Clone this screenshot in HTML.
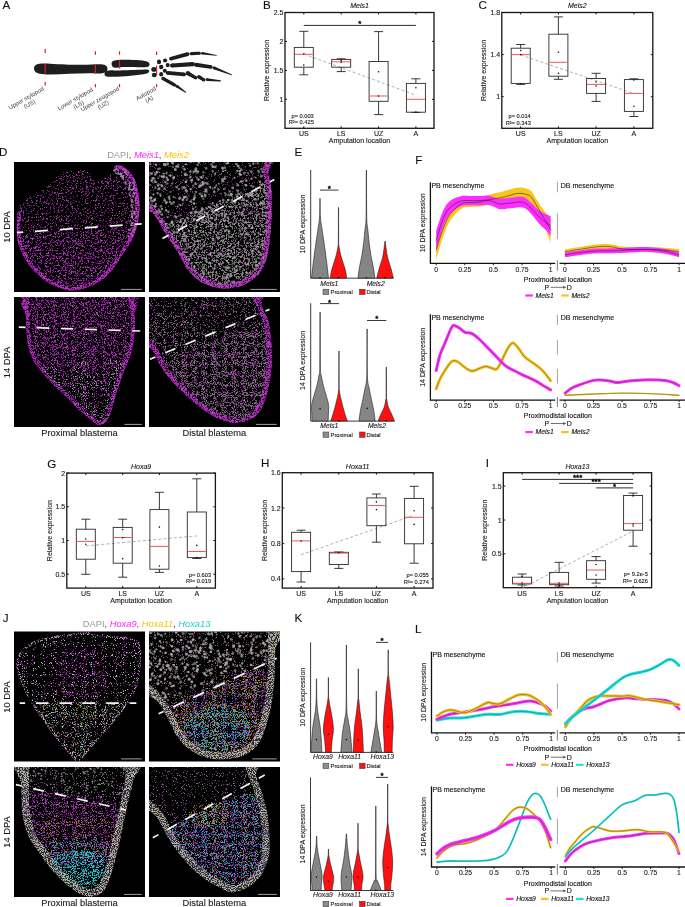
<!DOCTYPE html><html><head><meta charset="utf-8"><style>html,body{margin:0;padding:0;background:#fff;width:685px;height:907px;overflow:hidden}svg{display:block;opacity:0.999}</style></head><body><svg width="685" height="907" viewBox="0 0 685 907" font-family='"Liberation Sans", sans-serif'>
<rect width="685" height="907" fill="#fff"/>
<text x="2.40" y="8.50" font-size="11.6" text-anchor="start" fill="#111" stroke="#111" stroke-width="0.12">A</text>
<text x="263.00" y="8.50" font-size="11.6" text-anchor="start" fill="#111" stroke="#111" stroke-width="0.12">B</text>
<text x="478.50" y="8.50" font-size="11.6" text-anchor="start" fill="#111" stroke="#111" stroke-width="0.12">C</text>
<text x="-1.00" y="155.60" font-size="11.6" text-anchor="start" fill="#111" stroke="#111" stroke-width="0.12">D</text>
<text x="294.50" y="156.20" font-size="11.6" text-anchor="start" fill="#111" stroke="#111" stroke-width="0.12">E</text>
<text x="415.20" y="164.30" font-size="11.6" text-anchor="start" fill="#111" stroke="#111" stroke-width="0.12">F</text>
<text x="47.20" y="467.50" font-size="11.6" text-anchor="start" fill="#111" stroke="#111" stroke-width="0.12">G</text>
<text x="260.90" y="467.20" font-size="11.6" text-anchor="start" fill="#111" stroke="#111" stroke-width="0.12">H</text>
<text x="485.80" y="467.20" font-size="11.6" text-anchor="start" fill="#111" stroke="#111" stroke-width="0.12">I</text>
<text x="2.80" y="621.80" font-size="11.6" text-anchor="start" fill="#111" stroke="#111" stroke-width="0.12">J</text>
<text x="294.50" y="622.30" font-size="11.6" text-anchor="start" fill="#111" stroke="#111" stroke-width="0.12">K</text>
<text x="414.90" y="633.30" font-size="11.6" text-anchor="start" fill="#111" stroke="#111" stroke-width="0.12">L</text>
<rect x="285.00" y="12.50" width="149.00" height="115.80" fill="none" stroke="#151515" stroke-width="1.3"/>
<line x1="303.80" y1="128.30" x2="303.80" y2="126.30" stroke="#151515" stroke-width="1"/>
<line x1="303.80" y1="12.50" x2="303.80" y2="14.50" stroke="#151515" stroke-width="1"/>
<line x1="341.20" y1="128.30" x2="341.20" y2="126.30" stroke="#151515" stroke-width="1"/>
<line x1="341.20" y1="12.50" x2="341.20" y2="14.50" stroke="#151515" stroke-width="1"/>
<line x1="378.60" y1="128.30" x2="378.60" y2="126.30" stroke="#151515" stroke-width="1"/>
<line x1="378.60" y1="12.50" x2="378.60" y2="14.50" stroke="#151515" stroke-width="1"/>
<line x1="415.90" y1="128.30" x2="415.90" y2="126.30" stroke="#151515" stroke-width="1"/>
<line x1="415.90" y1="12.50" x2="415.90" y2="14.50" stroke="#151515" stroke-width="1"/>
<line x1="285.00" y1="12.50" x2="287.00" y2="12.50" stroke="#151515" stroke-width="1"/>
<line x1="434.00" y1="12.50" x2="432.00" y2="12.50" stroke="#151515" stroke-width="1"/>
<text x="283.40" y="15.00" font-size="7" text-anchor="end" fill="#1a1a1a" stroke="#1a1a1a" stroke-width="0.12">2.5</text>
<line x1="285.00" y1="41.40" x2="287.00" y2="41.40" stroke="#151515" stroke-width="1"/>
<line x1="434.00" y1="41.40" x2="432.00" y2="41.40" stroke="#151515" stroke-width="1"/>
<text x="283.40" y="43.90" font-size="7" text-anchor="end" fill="#1a1a1a" stroke="#1a1a1a" stroke-width="0.12">2</text>
<line x1="285.00" y1="70.40" x2="287.00" y2="70.40" stroke="#151515" stroke-width="1"/>
<line x1="434.00" y1="70.40" x2="432.00" y2="70.40" stroke="#151515" stroke-width="1"/>
<text x="283.40" y="72.90" font-size="7" text-anchor="end" fill="#1a1a1a" stroke="#1a1a1a" stroke-width="0.12">1.5</text>
<line x1="285.00" y1="99.30" x2="287.00" y2="99.30" stroke="#151515" stroke-width="1"/>
<line x1="434.00" y1="99.30" x2="432.00" y2="99.30" stroke="#151515" stroke-width="1"/>
<text x="283.40" y="101.80" font-size="7" text-anchor="end" fill="#1a1a1a" stroke="#1a1a1a" stroke-width="0.12">1</text>
<line x1="303.80" y1="54.00" x2="415.90" y2="95.20" stroke="#9a9a9a" stroke-width="0.8" stroke-dasharray="3,2.2"/>
<line x1="303.80" y1="31.30" x2="303.80" y2="47.40" stroke="#222" stroke-width="0.9"/>
<line x1="303.80" y1="67.20" x2="303.80" y2="74.80" stroke="#222" stroke-width="0.9"/>
<line x1="299.30" y1="31.30" x2="308.30" y2="31.30" stroke="#222" stroke-width="0.9"/>
<line x1="299.30" y1="74.80" x2="308.30" y2="74.80" stroke="#222" stroke-width="0.9"/>
<rect x="294.30" y="47.40" width="19.00" height="19.80" fill="none" stroke="#2a2a2a" stroke-width="0.9"/>
<line x1="294.80" y1="54.30" x2="312.80" y2="54.30" stroke="#f25555" stroke-width="1"/>
<circle cx="303.80" cy="54.00" r="0.8" fill="#111"/>
<circle cx="303.80" cy="65.10" r="0.8" fill="#111"/>
<line x1="341.20" y1="58.80" x2="341.20" y2="59.40" stroke="#222" stroke-width="0.9"/>
<line x1="341.20" y1="67.20" x2="341.20" y2="71.60" stroke="#222" stroke-width="0.9"/>
<line x1="336.70" y1="58.80" x2="345.70" y2="58.80" stroke="#222" stroke-width="0.9"/>
<line x1="336.70" y1="71.60" x2="345.70" y2="71.60" stroke="#222" stroke-width="0.9"/>
<rect x="331.70" y="59.40" width="19.00" height="7.80" fill="none" stroke="#2a2a2a" stroke-width="0.9"/>
<line x1="332.20" y1="61.80" x2="350.20" y2="61.80" stroke="#f25555" stroke-width="1"/>
<circle cx="341.20" cy="60.50" r="0.8" fill="#111"/>
<circle cx="341.20" cy="62.30" r="0.8" fill="#111"/>
<line x1="378.60" y1="31.60" x2="378.60" y2="61.50" stroke="#222" stroke-width="0.9"/>
<line x1="378.60" y1="101.30" x2="378.60" y2="114.60" stroke="#222" stroke-width="0.9"/>
<line x1="374.10" y1="31.60" x2="383.10" y2="31.60" stroke="#222" stroke-width="0.9"/>
<line x1="374.10" y1="114.60" x2="383.10" y2="114.60" stroke="#222" stroke-width="0.9"/>
<rect x="369.10" y="61.50" width="19.00" height="39.80" fill="none" stroke="#2a2a2a" stroke-width="0.9"/>
<line x1="369.60" y1="96.00" x2="387.60" y2="96.00" stroke="#f25555" stroke-width="1"/>
<circle cx="378.60" cy="71.70" r="0.8" fill="#111"/>
<circle cx="378.60" cy="96.00" r="0.8" fill="#111"/>
<line x1="415.90" y1="78.80" x2="415.90" y2="83.40" stroke="#222" stroke-width="0.9"/>
<line x1="415.90" y1="112.20" x2="415.90" y2="112.40" stroke="#222" stroke-width="0.9"/>
<line x1="411.40" y1="78.80" x2="420.40" y2="78.80" stroke="#222" stroke-width="0.9"/>
<line x1="411.40" y1="112.40" x2="420.40" y2="112.40" stroke="#222" stroke-width="0.9"/>
<rect x="406.40" y="83.40" width="19.00" height="28.80" fill="none" stroke="#2a2a2a" stroke-width="0.9"/>
<line x1="406.90" y1="99.30" x2="424.90" y2="99.30" stroke="#f25555" stroke-width="1"/>
<circle cx="415.90" cy="87.80" r="0.8" fill="#111"/>
<circle cx="415.90" cy="112.00" r="0.8" fill="#111"/>
<line x1="303.80" y1="25.40" x2="415.90" y2="25.40" stroke="#151515" stroke-width="0.9"/>
<text x="359.85" y="26.30" font-size="8" text-anchor="middle" fill="#111" stroke="#111" stroke-width="0.45">*</text>
<text x="359.50" y="8.20" font-size="7" text-anchor="middle" fill="#1a1a1a" stroke="#1a1a1a" stroke-width="0.12" font-style="italic">Meis1</text>
<text x="303.80" y="135.70" font-size="7" text-anchor="middle" fill="#1a1a1a" stroke="#1a1a1a" stroke-width="0.12">US</text>
<text x="341.20" y="135.70" font-size="7" text-anchor="middle" fill="#1a1a1a" stroke="#1a1a1a" stroke-width="0.12">LS</text>
<text x="378.60" y="135.70" font-size="7" text-anchor="middle" fill="#1a1a1a" stroke="#1a1a1a" stroke-width="0.12">UZ</text>
<text x="415.90" y="135.70" font-size="7" text-anchor="middle" fill="#1a1a1a" stroke="#1a1a1a" stroke-width="0.12">A</text>
<text x="359.50" y="142.80" font-size="7" text-anchor="middle" fill="#1a1a1a" stroke="#1a1a1a" stroke-width="0.12">Amputation location</text>
<text x="269.50" y="70.40" font-size="7" text-anchor="middle" fill="#1a1a1a" stroke="#1a1a1a" stroke-width="0.12" transform="rotate(-90 269.50 70.40)">Relative expression</text>
<text x="313.80" y="117.50" font-size="5.7" text-anchor="end" fill="#1a1a1a" stroke="#1a1a1a" stroke-width="0.12">p= 0.003</text>
<text x="313.80" y="124.20" font-size="5.7" text-anchor="end" fill="#1a1a1a" stroke="#1a1a1a" stroke-width="0.12">R²= 0.425</text>
<rect x="501.80" y="12.50" width="151.00" height="115.80" fill="none" stroke="#151515" stroke-width="1.3"/>
<line x1="520.70" y1="128.30" x2="520.70" y2="126.30" stroke="#151515" stroke-width="1"/>
<line x1="520.70" y1="12.50" x2="520.70" y2="14.50" stroke="#151515" stroke-width="1"/>
<line x1="558.40" y1="128.30" x2="558.40" y2="126.30" stroke="#151515" stroke-width="1"/>
<line x1="558.40" y1="12.50" x2="558.40" y2="14.50" stroke="#151515" stroke-width="1"/>
<line x1="596.10" y1="128.30" x2="596.10" y2="126.30" stroke="#151515" stroke-width="1"/>
<line x1="596.10" y1="12.50" x2="596.10" y2="14.50" stroke="#151515" stroke-width="1"/>
<line x1="633.90" y1="128.30" x2="633.90" y2="126.30" stroke="#151515" stroke-width="1"/>
<line x1="633.90" y1="12.50" x2="633.90" y2="14.50" stroke="#151515" stroke-width="1"/>
<line x1="501.80" y1="12.50" x2="503.80" y2="12.50" stroke="#151515" stroke-width="1"/>
<line x1="652.80" y1="12.50" x2="650.80" y2="12.50" stroke="#151515" stroke-width="1"/>
<text x="500.20" y="15.00" font-size="7" text-anchor="end" fill="#1a1a1a" stroke="#1a1a1a" stroke-width="0.12">1.8</text>
<line x1="501.80" y1="54.60" x2="503.80" y2="54.60" stroke="#151515" stroke-width="1"/>
<line x1="652.80" y1="54.60" x2="650.80" y2="54.60" stroke="#151515" stroke-width="1"/>
<text x="500.20" y="57.10" font-size="7" text-anchor="end" fill="#1a1a1a" stroke="#1a1a1a" stroke-width="0.12">1.4</text>
<line x1="501.80" y1="96.70" x2="503.80" y2="96.70" stroke="#151515" stroke-width="1"/>
<line x1="652.80" y1="96.70" x2="650.80" y2="96.70" stroke="#151515" stroke-width="1"/>
<text x="500.20" y="99.20" font-size="7" text-anchor="end" fill="#1a1a1a" stroke="#1a1a1a" stroke-width="0.12">1</text>
<line x1="520.70" y1="55.00" x2="633.90" y2="93.50" stroke="#9a9a9a" stroke-width="0.8" stroke-dasharray="3,2.2"/>
<line x1="520.70" y1="44.50" x2="520.70" y2="48.20" stroke="#222" stroke-width="0.9"/>
<line x1="520.70" y1="83.40" x2="520.70" y2="84.40" stroke="#222" stroke-width="0.9"/>
<line x1="516.20" y1="44.50" x2="525.20" y2="44.50" stroke="#222" stroke-width="0.9"/>
<line x1="516.20" y1="84.40" x2="525.20" y2="84.40" stroke="#222" stroke-width="0.9"/>
<rect x="511.20" y="48.20" width="19.00" height="35.20" fill="none" stroke="#2a2a2a" stroke-width="0.9"/>
<line x1="511.70" y1="54.60" x2="529.70" y2="54.60" stroke="#f25555" stroke-width="1"/>
<circle cx="520.70" cy="50.50" r="0.8" fill="#111"/>
<circle cx="520.70" cy="54.60" r="0.8" fill="#111"/>
<circle cx="520.70" cy="83.80" r="0.8" fill="#111"/>
<line x1="558.40" y1="16.90" x2="558.40" y2="34.20" stroke="#222" stroke-width="0.9"/>
<line x1="558.40" y1="76.20" x2="558.40" y2="79.30" stroke="#222" stroke-width="0.9"/>
<line x1="553.90" y1="16.90" x2="562.90" y2="16.90" stroke="#222" stroke-width="0.9"/>
<line x1="553.90" y1="79.30" x2="562.90" y2="79.30" stroke="#222" stroke-width="0.9"/>
<rect x="548.90" y="34.20" width="19.00" height="42.00" fill="none" stroke="#2a2a2a" stroke-width="0.9"/>
<line x1="549.40" y1="62.30" x2="567.40" y2="62.30" stroke="#f25555" stroke-width="1"/>
<circle cx="558.40" cy="52.20" r="0.8" fill="#111"/>
<circle cx="558.40" cy="73.30" r="0.8" fill="#111"/>
<line x1="596.10" y1="73.30" x2="596.10" y2="78.50" stroke="#222" stroke-width="0.9"/>
<line x1="596.10" y1="93.40" x2="596.10" y2="101.40" stroke="#222" stroke-width="0.9"/>
<line x1="591.60" y1="73.30" x2="600.60" y2="73.30" stroke="#222" stroke-width="0.9"/>
<line x1="591.60" y1="101.40" x2="600.60" y2="101.40" stroke="#222" stroke-width="0.9"/>
<rect x="586.60" y="78.50" width="19.00" height="14.90" fill="none" stroke="#2a2a2a" stroke-width="0.9"/>
<line x1="587.10" y1="84.40" x2="605.10" y2="84.40" stroke="#f25555" stroke-width="1"/>
<circle cx="596.10" cy="82.00" r="0.8" fill="#111"/>
<circle cx="596.10" cy="86.00" r="0.8" fill="#111"/>
<line x1="633.90" y1="78.80" x2="633.90" y2="79.60" stroke="#222" stroke-width="0.9"/>
<line x1="633.90" y1="111.40" x2="633.90" y2="116.50" stroke="#222" stroke-width="0.9"/>
<line x1="629.40" y1="78.80" x2="638.40" y2="78.80" stroke="#222" stroke-width="0.9"/>
<line x1="629.40" y1="116.50" x2="638.40" y2="116.50" stroke="#222" stroke-width="0.9"/>
<rect x="624.40" y="79.60" width="19.00" height="31.80" fill="none" stroke="#2a2a2a" stroke-width="0.9"/>
<line x1="624.90" y1="93.40" x2="642.90" y2="93.40" stroke="#f25555" stroke-width="1"/>
<circle cx="633.90" cy="80.00" r="0.8" fill="#111"/>
<circle cx="633.90" cy="106.30" r="0.8" fill="#111"/>
<text x="577.30" y="8.40" font-size="7" text-anchor="middle" fill="#1a1a1a" stroke="#1a1a1a" stroke-width="0.12" font-style="italic">Meis2</text>
<text x="520.70" y="135.70" font-size="7" text-anchor="middle" fill="#1a1a1a" stroke="#1a1a1a" stroke-width="0.12">US</text>
<text x="558.40" y="135.70" font-size="7" text-anchor="middle" fill="#1a1a1a" stroke="#1a1a1a" stroke-width="0.12">LS</text>
<text x="596.10" y="135.70" font-size="7" text-anchor="middle" fill="#1a1a1a" stroke="#1a1a1a" stroke-width="0.12">UZ</text>
<text x="633.90" y="135.70" font-size="7" text-anchor="middle" fill="#1a1a1a" stroke="#1a1a1a" stroke-width="0.12">A</text>
<text x="577.30" y="142.80" font-size="7" text-anchor="middle" fill="#1a1a1a" stroke="#1a1a1a" stroke-width="0.12">Amputation location</text>
<text x="486.30" y="70.40" font-size="7" text-anchor="middle" fill="#1a1a1a" stroke="#1a1a1a" stroke-width="0.12" transform="rotate(-90 486.30 70.40)">Relative expression</text>
<text x="530.80" y="117.80" font-size="5.7" text-anchor="end" fill="#1a1a1a" stroke="#1a1a1a" stroke-width="0.12">p= 0.014</text>
<text x="530.80" y="124.60" font-size="5.7" text-anchor="end" fill="#1a1a1a" stroke="#1a1a1a" stroke-width="0.12">R²= 0.343</text>
<rect x="66.80" y="473.10" width="148.60" height="115.00" fill="none" stroke="#151515" stroke-width="1.3"/>
<line x1="85.80" y1="588.10" x2="85.80" y2="586.10" stroke="#151515" stroke-width="1"/>
<line x1="85.80" y1="473.10" x2="85.80" y2="475.10" stroke="#151515" stroke-width="1"/>
<line x1="122.70" y1="588.10" x2="122.70" y2="586.10" stroke="#151515" stroke-width="1"/>
<line x1="122.70" y1="473.10" x2="122.70" y2="475.10" stroke="#151515" stroke-width="1"/>
<line x1="159.40" y1="588.10" x2="159.40" y2="586.10" stroke="#151515" stroke-width="1"/>
<line x1="159.40" y1="473.10" x2="159.40" y2="475.10" stroke="#151515" stroke-width="1"/>
<line x1="196.80" y1="588.10" x2="196.80" y2="586.10" stroke="#151515" stroke-width="1"/>
<line x1="196.80" y1="473.10" x2="196.80" y2="475.10" stroke="#151515" stroke-width="1"/>
<line x1="66.80" y1="473.10" x2="68.80" y2="473.10" stroke="#151515" stroke-width="1"/>
<line x1="215.40" y1="473.10" x2="213.40" y2="473.10" stroke="#151515" stroke-width="1"/>
<text x="65.20" y="475.60" font-size="7" text-anchor="end" fill="#1a1a1a" stroke="#1a1a1a" stroke-width="0.12">2</text>
<line x1="66.80" y1="506.70" x2="68.80" y2="506.70" stroke="#151515" stroke-width="1"/>
<line x1="215.40" y1="506.70" x2="213.40" y2="506.70" stroke="#151515" stroke-width="1"/>
<text x="65.20" y="509.20" font-size="7" text-anchor="end" fill="#1a1a1a" stroke="#1a1a1a" stroke-width="0.12">1.5</text>
<line x1="66.80" y1="540.50" x2="68.80" y2="540.50" stroke="#151515" stroke-width="1"/>
<line x1="215.40" y1="540.50" x2="213.40" y2="540.50" stroke="#151515" stroke-width="1"/>
<text x="65.20" y="543.00" font-size="7" text-anchor="end" fill="#1a1a1a" stroke="#1a1a1a" stroke-width="0.12">1</text>
<line x1="66.80" y1="574.20" x2="68.80" y2="574.20" stroke="#151515" stroke-width="1"/>
<line x1="215.40" y1="574.20" x2="213.40" y2="574.20" stroke="#151515" stroke-width="1"/>
<text x="65.20" y="576.70" font-size="7" text-anchor="end" fill="#1a1a1a" stroke="#1a1a1a" stroke-width="0.12">0.5</text>
<line x1="85.80" y1="545.90" x2="196.80" y2="535.90" stroke="#9a9a9a" stroke-width="0.8" stroke-dasharray="3,2.2"/>
<line x1="85.80" y1="519.20" x2="85.80" y2="529.20" stroke="#222" stroke-width="0.9"/>
<line x1="85.80" y1="559.20" x2="85.80" y2="574.30" stroke="#222" stroke-width="0.9"/>
<line x1="81.30" y1="519.20" x2="90.30" y2="519.20" stroke="#222" stroke-width="0.9"/>
<line x1="81.30" y1="574.30" x2="90.30" y2="574.30" stroke="#222" stroke-width="0.9"/>
<rect x="76.30" y="529.20" width="19.00" height="30.00" fill="none" stroke="#2a2a2a" stroke-width="0.9"/>
<line x1="76.80" y1="541.40" x2="94.80" y2="541.40" stroke="#f25555" stroke-width="1"/>
<circle cx="85.80" cy="539.00" r="0.8" fill="#111"/>
<circle cx="85.80" cy="544.30" r="0.8" fill="#111"/>
<line x1="122.70" y1="519.20" x2="122.70" y2="527.40" stroke="#222" stroke-width="0.9"/>
<line x1="122.70" y1="563.20" x2="122.70" y2="577.20" stroke="#222" stroke-width="0.9"/>
<line x1="118.20" y1="519.20" x2="127.20" y2="519.20" stroke="#222" stroke-width="0.9"/>
<line x1="118.20" y1="577.20" x2="127.20" y2="577.20" stroke="#222" stroke-width="0.9"/>
<rect x="113.20" y="527.40" width="19.00" height="35.80" fill="none" stroke="#2a2a2a" stroke-width="0.9"/>
<line x1="113.70" y1="537.50" x2="131.70" y2="537.50" stroke="#f25555" stroke-width="1"/>
<circle cx="122.70" cy="529.60" r="0.8" fill="#111"/>
<circle cx="122.70" cy="537.80" r="0.8" fill="#111"/>
<circle cx="122.70" cy="558.70" r="0.8" fill="#111"/>
<line x1="159.40" y1="492.30" x2="159.40" y2="509.60" stroke="#222" stroke-width="0.9"/>
<line x1="159.40" y1="569.20" x2="159.40" y2="572.40" stroke="#222" stroke-width="0.9"/>
<line x1="154.90" y1="492.30" x2="163.90" y2="492.30" stroke="#222" stroke-width="0.9"/>
<line x1="154.90" y1="572.40" x2="163.90" y2="572.40" stroke="#222" stroke-width="0.9"/>
<rect x="149.90" y="509.60" width="19.00" height="59.60" fill="none" stroke="#2a2a2a" stroke-width="0.9"/>
<line x1="150.40" y1="546.40" x2="168.40" y2="546.40" stroke="#f25555" stroke-width="1"/>
<circle cx="159.40" cy="527.10" r="0.8" fill="#111"/>
<circle cx="159.40" cy="566.00" r="0.8" fill="#111"/>
<line x1="196.80" y1="478.80" x2="196.80" y2="512.00" stroke="#222" stroke-width="0.9"/>
<line x1="196.80" y1="557.60" x2="196.80" y2="558.50" stroke="#222" stroke-width="0.9"/>
<line x1="192.30" y1="478.80" x2="201.30" y2="478.80" stroke="#222" stroke-width="0.9"/>
<line x1="192.30" y1="558.50" x2="201.30" y2="558.50" stroke="#222" stroke-width="0.9"/>
<rect x="187.30" y="512.00" width="19.00" height="45.60" fill="none" stroke="#2a2a2a" stroke-width="0.9"/>
<line x1="187.80" y1="551.50" x2="205.80" y2="551.50" stroke="#f25555" stroke-width="1"/>
<circle cx="196.80" cy="545.40" r="0.8" fill="#111"/>
<circle cx="196.80" cy="557.50" r="0.8" fill="#111"/>
<text x="141.10" y="468.70" font-size="7" text-anchor="middle" fill="#1a1a1a" stroke="#1a1a1a" stroke-width="0.12" font-style="italic">Hoxa9</text>
<text x="85.80" y="596.30" font-size="7" text-anchor="middle" fill="#1a1a1a" stroke="#1a1a1a" stroke-width="0.12">US</text>
<text x="122.70" y="596.30" font-size="7" text-anchor="middle" fill="#1a1a1a" stroke="#1a1a1a" stroke-width="0.12">LS</text>
<text x="159.40" y="596.30" font-size="7" text-anchor="middle" fill="#1a1a1a" stroke="#1a1a1a" stroke-width="0.12">UZ</text>
<text x="196.80" y="596.30" font-size="7" text-anchor="middle" fill="#1a1a1a" stroke="#1a1a1a" stroke-width="0.12">A</text>
<text x="141.10" y="603.00" font-size="7" text-anchor="middle" fill="#1a1a1a" stroke="#1a1a1a" stroke-width="0.12">Amputation location</text>
<text x="51.80" y="530.60" font-size="7" text-anchor="middle" fill="#1a1a1a" stroke="#1a1a1a" stroke-width="0.12" transform="rotate(-90 51.80 530.60)">Relative expression</text>
<text x="211.10" y="576.70" font-size="5.7" text-anchor="end" fill="#1a1a1a" stroke="#1a1a1a" stroke-width="0.12">p= 0.603</text>
<text x="211.10" y="583.10" font-size="5.7" text-anchor="end" fill="#1a1a1a" stroke="#1a1a1a" stroke-width="0.12">R²= 0.019</text>
<rect x="282.30" y="472.70" width="150.70" height="115.40" fill="none" stroke="#151515" stroke-width="1.3"/>
<line x1="301.10" y1="588.10" x2="301.10" y2="586.10" stroke="#151515" stroke-width="1"/>
<line x1="301.10" y1="472.70" x2="301.10" y2="474.70" stroke="#151515" stroke-width="1"/>
<line x1="338.80" y1="588.10" x2="338.80" y2="586.10" stroke="#151515" stroke-width="1"/>
<line x1="338.80" y1="472.70" x2="338.80" y2="474.70" stroke="#151515" stroke-width="1"/>
<line x1="376.40" y1="588.10" x2="376.40" y2="586.10" stroke="#151515" stroke-width="1"/>
<line x1="376.40" y1="472.70" x2="376.40" y2="474.70" stroke="#151515" stroke-width="1"/>
<line x1="414.10" y1="588.10" x2="414.10" y2="586.10" stroke="#151515" stroke-width="1"/>
<line x1="414.10" y1="472.70" x2="414.10" y2="474.70" stroke="#151515" stroke-width="1"/>
<line x1="282.30" y1="472.70" x2="284.30" y2="472.70" stroke="#151515" stroke-width="1"/>
<line x1="433.00" y1="472.70" x2="431.00" y2="472.70" stroke="#151515" stroke-width="1"/>
<text x="280.70" y="475.20" font-size="7" text-anchor="end" fill="#1a1a1a" stroke="#1a1a1a" stroke-width="0.12">1.6</text>
<line x1="282.30" y1="508.00" x2="284.30" y2="508.00" stroke="#151515" stroke-width="1"/>
<line x1="433.00" y1="508.00" x2="431.00" y2="508.00" stroke="#151515" stroke-width="1"/>
<text x="280.70" y="510.50" font-size="7" text-anchor="end" fill="#1a1a1a" stroke="#1a1a1a" stroke-width="0.12">1.2</text>
<line x1="282.30" y1="543.60" x2="284.30" y2="543.60" stroke="#151515" stroke-width="1"/>
<line x1="433.00" y1="543.60" x2="431.00" y2="543.60" stroke="#151515" stroke-width="1"/>
<text x="280.70" y="546.10" font-size="7" text-anchor="end" fill="#1a1a1a" stroke="#1a1a1a" stroke-width="0.12">0.8</text>
<line x1="282.30" y1="578.90" x2="284.30" y2="578.90" stroke="#151515" stroke-width="1"/>
<line x1="433.00" y1="578.90" x2="431.00" y2="578.90" stroke="#151515" stroke-width="1"/>
<text x="280.70" y="581.40" font-size="7" text-anchor="end" fill="#1a1a1a" stroke="#1a1a1a" stroke-width="0.12">0.4</text>
<line x1="301.10" y1="554.70" x2="414.10" y2="515.20" stroke="#9a9a9a" stroke-width="0.8" stroke-dasharray="3,2.2"/>
<line x1="301.10" y1="530.20" x2="301.10" y2="532.30" stroke="#222" stroke-width="0.9"/>
<line x1="301.10" y1="571.60" x2="301.10" y2="582.00" stroke="#222" stroke-width="0.9"/>
<line x1="296.60" y1="530.20" x2="305.60" y2="530.20" stroke="#222" stroke-width="0.9"/>
<line x1="296.60" y1="582.00" x2="305.60" y2="582.00" stroke="#222" stroke-width="0.9"/>
<rect x="291.60" y="532.30" width="19.00" height="39.30" fill="none" stroke="#2a2a2a" stroke-width="0.9"/>
<line x1="292.10" y1="540.90" x2="310.10" y2="540.90" stroke="#f25555" stroke-width="1"/>
<circle cx="301.10" cy="541.00" r="0.8" fill="#111"/>
<line x1="338.80" y1="552.00" x2="338.80" y2="552.30" stroke="#222" stroke-width="0.9"/>
<line x1="338.80" y1="564.50" x2="338.80" y2="568.40" stroke="#222" stroke-width="0.9"/>
<line x1="334.30" y1="552.00" x2="343.30" y2="552.00" stroke="#222" stroke-width="0.9"/>
<line x1="334.30" y1="568.40" x2="343.30" y2="568.40" stroke="#222" stroke-width="0.9"/>
<rect x="329.30" y="552.30" width="19.00" height="12.20" fill="none" stroke="#2a2a2a" stroke-width="0.9"/>
<line x1="329.80" y1="553.10" x2="347.80" y2="553.10" stroke="#f25555" stroke-width="1"/>
<circle cx="338.80" cy="552.70" r="0.8" fill="#111"/>
<line x1="376.40" y1="494.00" x2="376.40" y2="497.90" stroke="#222" stroke-width="0.9"/>
<line x1="376.40" y1="525.70" x2="376.40" y2="542.20" stroke="#222" stroke-width="0.9"/>
<line x1="371.90" y1="494.00" x2="380.90" y2="494.00" stroke="#222" stroke-width="0.9"/>
<line x1="371.90" y1="542.20" x2="380.90" y2="542.20" stroke="#222" stroke-width="0.9"/>
<rect x="366.90" y="497.90" width="19.00" height="27.80" fill="none" stroke="#2a2a2a" stroke-width="0.9"/>
<line x1="367.40" y1="505.60" x2="385.40" y2="505.60" stroke="#f25555" stroke-width="1"/>
<circle cx="376.40" cy="501.90" r="0.8" fill="#111"/>
<circle cx="376.40" cy="509.60" r="0.8" fill="#111"/>
<line x1="414.10" y1="486.30" x2="414.10" y2="498.40" stroke="#222" stroke-width="0.9"/>
<line x1="414.10" y1="543.80" x2="414.10" y2="563.20" stroke="#222" stroke-width="0.9"/>
<line x1="409.60" y1="486.30" x2="418.60" y2="486.30" stroke="#222" stroke-width="0.9"/>
<line x1="409.60" y1="563.20" x2="418.60" y2="563.20" stroke="#222" stroke-width="0.9"/>
<rect x="404.60" y="498.40" width="19.00" height="45.40" fill="none" stroke="#2a2a2a" stroke-width="0.9"/>
<line x1="405.10" y1="517.30" x2="423.10" y2="517.30" stroke="#f25555" stroke-width="1"/>
<circle cx="414.10" cy="510.70" r="0.8" fill="#111"/>
<circle cx="414.10" cy="524.40" r="0.8" fill="#111"/>
<text x="357.65" y="468.70" font-size="7" text-anchor="middle" fill="#1a1a1a" stroke="#1a1a1a" stroke-width="0.12" font-style="italic">Hoxa11</text>
<text x="301.10" y="596.30" font-size="7" text-anchor="middle" fill="#1a1a1a" stroke="#1a1a1a" stroke-width="0.12">US</text>
<text x="338.80" y="596.30" font-size="7" text-anchor="middle" fill="#1a1a1a" stroke="#1a1a1a" stroke-width="0.12">LS</text>
<text x="376.40" y="596.30" font-size="7" text-anchor="middle" fill="#1a1a1a" stroke="#1a1a1a" stroke-width="0.12">UZ</text>
<text x="414.10" y="596.30" font-size="7" text-anchor="middle" fill="#1a1a1a" stroke="#1a1a1a" stroke-width="0.12">A</text>
<text x="357.65" y="603.00" font-size="7" text-anchor="middle" fill="#1a1a1a" stroke="#1a1a1a" stroke-width="0.12">Amputation location</text>
<text x="266.80" y="530.40" font-size="7" text-anchor="middle" fill="#1a1a1a" stroke="#1a1a1a" stroke-width="0.12" transform="rotate(-90 266.80 530.40)">Relative expression</text>
<text x="428.80" y="577.20" font-size="5.7" text-anchor="end" fill="#1a1a1a" stroke="#1a1a1a" stroke-width="0.12">p= 0.055</text>
<text x="428.80" y="583.60" font-size="5.7" text-anchor="end" fill="#1a1a1a" stroke="#1a1a1a" stroke-width="0.12">R²= 0.274</text>
<rect x="503.30" y="472.70" width="148.30" height="115.00" fill="none" stroke="#151515" stroke-width="1.3"/>
<line x1="522.10" y1="587.70" x2="522.10" y2="585.70" stroke="#151515" stroke-width="1"/>
<line x1="522.10" y1="472.70" x2="522.10" y2="474.70" stroke="#151515" stroke-width="1"/>
<line x1="559.10" y1="587.70" x2="559.10" y2="585.70" stroke="#151515" stroke-width="1"/>
<line x1="559.10" y1="472.70" x2="559.10" y2="474.70" stroke="#151515" stroke-width="1"/>
<line x1="596.10" y1="587.70" x2="596.10" y2="585.70" stroke="#151515" stroke-width="1"/>
<line x1="596.10" y1="472.70" x2="596.10" y2="474.70" stroke="#151515" stroke-width="1"/>
<line x1="633.10" y1="587.70" x2="633.10" y2="585.70" stroke="#151515" stroke-width="1"/>
<line x1="633.10" y1="472.70" x2="633.10" y2="474.70" stroke="#151515" stroke-width="1"/>
<line x1="503.30" y1="486.00" x2="505.30" y2="486.00" stroke="#151515" stroke-width="1"/>
<line x1="651.60" y1="486.00" x2="649.60" y2="486.00" stroke="#151515" stroke-width="1"/>
<text x="501.70" y="488.50" font-size="7" text-anchor="end" fill="#1a1a1a" stroke="#1a1a1a" stroke-width="0.12">1.5</text>
<line x1="503.30" y1="520.00" x2="505.30" y2="520.00" stroke="#151515" stroke-width="1"/>
<line x1="651.60" y1="520.00" x2="649.60" y2="520.00" stroke="#151515" stroke-width="1"/>
<text x="501.70" y="522.50" font-size="7" text-anchor="end" fill="#1a1a1a" stroke="#1a1a1a" stroke-width="0.12">1</text>
<line x1="503.30" y1="553.80" x2="505.30" y2="553.80" stroke="#151515" stroke-width="1"/>
<line x1="651.60" y1="553.80" x2="649.60" y2="553.80" stroke="#151515" stroke-width="1"/>
<text x="501.70" y="556.30" font-size="7" text-anchor="end" fill="#1a1a1a" stroke="#1a1a1a" stroke-width="0.12">0.5</text>
<line x1="522.10" y1="588.00" x2="633.10" y2="531.00" stroke="#9a9a9a" stroke-width="0.8" stroke-dasharray="3,2.2"/>
<line x1="522.10" y1="574.00" x2="522.10" y2="577.20" stroke="#222" stroke-width="0.9"/>
<line x1="522.10" y1="583.90" x2="522.10" y2="585.00" stroke="#222" stroke-width="0.9"/>
<line x1="517.60" y1="574.00" x2="526.60" y2="574.00" stroke="#222" stroke-width="0.9"/>
<line x1="517.60" y1="585.00" x2="526.60" y2="585.00" stroke="#222" stroke-width="0.9"/>
<rect x="512.60" y="577.20" width="19.00" height="6.70" fill="none" stroke="#2a2a2a" stroke-width="0.9"/>
<line x1="513.10" y1="583.30" x2="531.10" y2="583.30" stroke="#f25555" stroke-width="1"/>
<circle cx="522.10" cy="576.50" r="0.8" fill="#111"/>
<circle cx="522.10" cy="583.00" r="0.8" fill="#111"/>
<line x1="559.10" y1="562.30" x2="559.10" y2="572.40" stroke="#222" stroke-width="0.9"/>
<line x1="559.10" y1="584.70" x2="559.10" y2="586.00" stroke="#222" stroke-width="0.9"/>
<line x1="554.60" y1="562.30" x2="563.60" y2="562.30" stroke="#222" stroke-width="0.9"/>
<line x1="554.60" y1="586.00" x2="563.60" y2="586.00" stroke="#222" stroke-width="0.9"/>
<rect x="549.60" y="572.40" width="19.00" height="12.30" fill="none" stroke="#2a2a2a" stroke-width="0.9"/>
<line x1="550.10" y1="583.30" x2="568.10" y2="583.30" stroke="#f25555" stroke-width="1"/>
<circle cx="559.10" cy="583.00" r="0.8" fill="#111"/>
<circle cx="559.10" cy="585.00" r="0.8" fill="#111"/>
<line x1="596.10" y1="556.60" x2="596.10" y2="560.70" stroke="#222" stroke-width="0.9"/>
<line x1="596.10" y1="579.30" x2="596.10" y2="583.10" stroke="#222" stroke-width="0.9"/>
<line x1="591.60" y1="556.60" x2="600.60" y2="556.60" stroke="#222" stroke-width="0.9"/>
<line x1="591.60" y1="583.10" x2="600.60" y2="583.10" stroke="#222" stroke-width="0.9"/>
<rect x="586.60" y="560.70" width="19.00" height="18.60" fill="none" stroke="#2a2a2a" stroke-width="0.9"/>
<line x1="587.10" y1="570.00" x2="605.10" y2="570.00" stroke="#f25555" stroke-width="1"/>
<circle cx="596.10" cy="564.50" r="0.8" fill="#111"/>
<circle cx="596.10" cy="575.00" r="0.8" fill="#111"/>
<line x1="633.10" y1="493.10" x2="633.10" y2="495.50" stroke="#222" stroke-width="0.9"/>
<line x1="633.10" y1="530.20" x2="633.10" y2="546.20" stroke="#222" stroke-width="0.9"/>
<line x1="628.60" y1="493.10" x2="637.60" y2="493.10" stroke="#222" stroke-width="0.9"/>
<line x1="628.60" y1="546.20" x2="637.60" y2="546.20" stroke="#222" stroke-width="0.9"/>
<rect x="623.60" y="495.50" width="19.00" height="34.70" fill="none" stroke="#2a2a2a" stroke-width="0.9"/>
<line x1="624.10" y1="523.60" x2="642.10" y2="523.60" stroke="#f25555" stroke-width="1"/>
<circle cx="633.10" cy="496.00" r="0.8" fill="#111"/>
<circle cx="633.10" cy="524.00" r="0.8" fill="#111"/>
<circle cx="633.10" cy="526.00" r="0.8" fill="#111"/>
<line x1="522.10" y1="479.40" x2="633.10" y2="479.40" stroke="#151515" stroke-width="0.9"/>
<text x="577.60" y="480.30" font-size="8" text-anchor="middle" fill="#111" stroke="#111" stroke-width="0.45">***</text>
<line x1="559.10" y1="483.40" x2="633.10" y2="483.40" stroke="#151515" stroke-width="0.9"/>
<text x="596.10" y="484.30" font-size="8" text-anchor="middle" fill="#111" stroke="#111" stroke-width="0.45">***</text>
<line x1="596.10" y1="487.90" x2="633.10" y2="487.90" stroke="#151515" stroke-width="0.9"/>
<text x="614.60" y="488.80" font-size="8" text-anchor="middle" fill="#111" stroke="#111" stroke-width="0.45">*</text>
<text x="577.45" y="468.70" font-size="7" text-anchor="middle" fill="#1a1a1a" stroke="#1a1a1a" stroke-width="0.12" font-style="italic">Hoxa13</text>
<text x="522.10" y="596.30" font-size="7" text-anchor="middle" fill="#1a1a1a" stroke="#1a1a1a" stroke-width="0.12">US</text>
<text x="559.10" y="596.30" font-size="7" text-anchor="middle" fill="#1a1a1a" stroke="#1a1a1a" stroke-width="0.12">LS</text>
<text x="596.10" y="596.30" font-size="7" text-anchor="middle" fill="#1a1a1a" stroke="#1a1a1a" stroke-width="0.12">UZ</text>
<text x="633.10" y="596.30" font-size="7" text-anchor="middle" fill="#1a1a1a" stroke="#1a1a1a" stroke-width="0.12">A</text>
<text x="577.45" y="603.00" font-size="7" text-anchor="middle" fill="#1a1a1a" stroke="#1a1a1a" stroke-width="0.12">Amputation location</text>
<text x="487.00" y="530.20" font-size="7" text-anchor="middle" fill="#1a1a1a" stroke="#1a1a1a" stroke-width="0.12" transform="rotate(-90 487.00 530.20)">Relative expression</text>
<text x="647.90" y="576.40" font-size="5.7" text-anchor="end" fill="#1a1a1a" stroke="#1a1a1a" stroke-width="0.12">p= 9.2e-5</text>
<text x="647.90" y="582.80" font-size="5.7" text-anchor="end" fill="#1a1a1a" stroke="#1a1a1a" stroke-width="0.12">R²= 0.626</text>
<path d="M34,68.5 C34,63.5 40,63.2 47,63.6 C60,64.6 80,65.5 96,64.2 C104,63.8 107.5,65 107.5,68.5 C107.5,72.5 104,73.8 96,73.4 C80,72.6 62,74.8 47,74.4 C40,74.2 34,73.5 34,68.5Z" fill="#1e1e1e"/>
<path d="M111.5,63.5 C111.5,60.5 116,59.8 122,59.8 C132,59.8 142,60 147,61.5 C150.5,62.5 150.5,66.5 147,67 C140,67.6 125,66.3 118,67.5 C113.5,68.3 111.5,67 111.5,63.5Z" fill="#1e1e1e"/>
<path d="M104.5,74 C104.5,71 108,70.2 114,70.4 C126,70.8 140,69.6 147,69.6 C150,69.6 150,72.6 147,73.4 C138,75.3 124,76.4 112,76.8 C107,77 104.5,76.6 104.5,74Z" fill="#1e1e1e"/>
<ellipse cx="159" cy="61.9" rx="2.1" ry="2.3" fill="#1e1e1e"/>
<ellipse cx="165.1" cy="60.6" rx="2.1" ry="2.0" fill="#1e1e1e"/>
<ellipse cx="161.2" cy="67" rx="2.2" ry="2.2" fill="#1e1e1e"/>
<ellipse cx="167.7" cy="65.1" rx="2.0" ry="2.2" fill="#1e1e1e"/>
<ellipse cx="153.9" cy="69.4" rx="2.6" ry="2.4" fill="#1e1e1e"/>
<ellipse cx="154.3" cy="75.0" rx="2.5" ry="2.2" fill="#1e1e1e"/>
<ellipse cx="161.2" cy="74.3" rx="2.0" ry="2.2" fill="#1e1e1e"/>
<ellipse cx="164.8" cy="70.7" rx="2.0" ry="2.0" fill="#1e1e1e"/>
<path d="M171.28,60.53 L188.13,55.98 L187.07,52.22 L170.32,57.07Z" fill="#1e1e1e"/>
<circle cx="170.80" cy="58.80" r="1.80" fill="#1e1e1e"/><circle cx="187.60" cy="54.10" r="1.95" fill="#1e1e1e"/>
<path d="M191.50,55.35 L199.49,54.70 L199.31,51.70 L191.30,52.05Z" fill="#1e1e1e"/>
<circle cx="191.40" cy="53.70" r="1.65" fill="#1e1e1e"/><circle cx="199.40" cy="53.20" r="1.50" fill="#1e1e1e"/>
<path d="M202.12,54.39 L216.34,55.80 L216.46,55.00 L202.48,52.01Z" fill="#1e1e1e"/>
<circle cx="202.30" cy="53.20" r="1.20" fill="#1e1e1e"/><circle cx="216.40" cy="55.40" r="0.40" fill="#1e1e1e"/>
<path d="M172.12,67.50 L192.93,66.30 L192.67,62.10 L171.88,63.50Z" fill="#1e1e1e"/>
<circle cx="172.00" cy="65.50" r="2.00" fill="#1e1e1e"/><circle cx="192.80" cy="64.20" r="2.10" fill="#1e1e1e"/>
<path d="M195.70,66.68 L210.74,68.68 L211.26,65.32 L196.30,62.72Z" fill="#1e1e1e"/>
<circle cx="196.00" cy="64.70" r="2.00" fill="#1e1e1e"/><circle cx="211.00" cy="67.00" r="1.70" fill="#1e1e1e"/>
<path d="M213.47,69.25 L231.65,75.27 L231.95,74.53 L214.53,66.55Z" fill="#1e1e1e"/>
<circle cx="214.00" cy="67.90" r="1.45" fill="#1e1e1e"/><circle cx="231.80" cy="74.90" r="0.40" fill="#1e1e1e"/>
<path d="M167.42,74.69 L183.82,76.29 L184.18,72.51 L167.78,70.91Z" fill="#1e1e1e"/>
<circle cx="167.60" cy="72.80" r="1.90" fill="#1e1e1e"/><circle cx="184.00" cy="74.40" r="1.90" fill="#1e1e1e"/>
<path d="M186.75,75.02 L195.00,79.19 L196.60,76.41 L188.85,71.38Z" fill="#1e1e1e"/>
<circle cx="187.80" cy="73.20" r="2.10" fill="#1e1e1e"/><circle cx="195.80" cy="77.80" r="1.60" fill="#1e1e1e"/>
<path d="M197.88,78.29 L202.96,81.26 L204.64,78.54 L199.72,75.31Z" fill="#1e1e1e"/>
<circle cx="198.80" cy="76.80" r="1.75" fill="#1e1e1e"/><circle cx="203.80" cy="79.90" r="1.60" fill="#1e1e1e"/>
<path d="M206.86,81.04 L220.14,81.50 L220.26,80.30 L207.14,78.16Z" fill="#1e1e1e"/>
<circle cx="207.00" cy="79.60" r="1.45" fill="#1e1e1e"/><circle cx="220.20" cy="80.90" r="0.60" fill="#1e1e1e"/>
<path d="M162.16,79.88 L173.81,86.39 L175.39,83.61 L163.84,76.92Z" fill="#1e1e1e"/>
<circle cx="163.00" cy="78.40" r="1.70" fill="#1e1e1e"/><circle cx="174.60" cy="85.00" r="1.60" fill="#1e1e1e"/>
<path d="M176.01,87.35 L185.54,92.77 L186.06,92.03 L177.59,85.05Z" fill="#1e1e1e"/>
<circle cx="176.80" cy="86.20" r="1.40" fill="#1e1e1e"/><circle cx="185.80" cy="92.40" r="0.45" fill="#1e1e1e"/>
<line x1="45.20" y1="49.00" x2="45.20" y2="53.00" stroke="#d81f2a" stroke-width="1.2"/>
<line x1="45.20" y1="63.50" x2="45.20" y2="73.50" stroke="#d81f2a" stroke-width="1.2"/>
<line x1="45.20" y1="82.00" x2="45.20" y2="85.50" stroke="#d81f2a" stroke-width="1.2"/>
<line x1="95.40" y1="51.30" x2="95.40" y2="54.70" stroke="#d81f2a" stroke-width="1.2"/>
<line x1="95.40" y1="64.50" x2="95.40" y2="73.50" stroke="#d81f2a" stroke-width="1.2"/>
<line x1="95.40" y1="84.00" x2="95.40" y2="87.30" stroke="#d81f2a" stroke-width="1.2"/>
<line x1="119.50" y1="51.30" x2="119.50" y2="54.70" stroke="#d81f2a" stroke-width="1.2"/>
<line x1="119.50" y1="60.00" x2="119.50" y2="68.50" stroke="#d81f2a" stroke-width="1.2"/>
<line x1="119.50" y1="84.00" x2="119.50" y2="87.30" stroke="#d81f2a" stroke-width="1.2"/>
<line x1="156.60" y1="51.50" x2="156.60" y2="55.00" stroke="#d81f2a" stroke-width="1.2"/>
<line x1="156.60" y1="65.80" x2="156.60" y2="75.00" stroke="#d81f2a" stroke-width="1.2"/>
<line x1="156.60" y1="84.00" x2="156.60" y2="87.30" stroke="#d81f2a" stroke-width="1.2"/>
<g transform="translate(46.0,89.0) rotate(-30)" font-size="5.9" fill="#3a3a3a" text-anchor="middle"><text x="-21.7" y="0">Upper stylopod</text><text x="-21.7" y="6.8">(US)</text></g>
<g transform="translate(95.0,89.8) rotate(-30)" font-size="5.9" fill="#3a3a3a" text-anchor="middle"><text x="-21.7" y="0">Lower stylopod</text><text x="-21.7" y="6.8">(LS)</text></g>
<g transform="translate(119.6,89.8) rotate(-30)" font-size="5.9" fill="#3a3a3a" text-anchor="middle"><text x="-21.7" y="0">Upper zeugopod</text><text x="-21.7" y="6.8">(UZ)</text></g>
<g transform="translate(156.2,89.8) rotate(-30)" font-size="5.9" fill="#3a3a3a" text-anchor="middle"><text x="-10.8" y="0">Autopod</text><text x="-10.8" y="6.8">(A)</text></g>
<text x="148.0" y="158.3" font-size="9.3" text-anchor="middle"><tspan fill="#9a9a9a">DAPI</tspan><tspan fill="#444">, </tspan><tspan fill="#ff22ff" font-style="italic">Meis1</tspan><tspan fill="#444">, </tspan><tspan fill="#f5c400" font-style="italic">Meis2</tspan></text>
<text x="146.6" y="626.6" font-size="9.3" text-anchor="middle"><tspan fill="#9a9a9a">DAPI</tspan><tspan fill="#444">, </tspan><tspan fill="#ff22ff" font-style="italic">Hoxa9</tspan><tspan fill="#444">, </tspan><tspan fill="#f5c400" font-style="italic">Hoxa11</tspan><tspan fill="#444">, </tspan><tspan fill="#22cccc" font-style="italic">Hoxa13</tspan></text>
<text x="79.50" y="436.20" font-size="9.3" text-anchor="middle" fill="#1a1a1a" stroke="#1a1a1a" stroke-width="0.12">Proximal blastema</text>
<text x="214.30" y="436.20" font-size="9.3" text-anchor="middle" fill="#1a1a1a" stroke="#1a1a1a" stroke-width="0.12">Distal blastema</text>
<text x="79.50" y="906.20" font-size="9.3" text-anchor="middle" fill="#1a1a1a" stroke="#1a1a1a" stroke-width="0.12">Proximal blastema</text>
<text x="214.30" y="906.20" font-size="9.3" text-anchor="middle" fill="#1a1a1a" stroke="#1a1a1a" stroke-width="0.12">Distal blastema</text>
<text x="9.60" y="227.00" font-size="9.4" text-anchor="middle" fill="#1a1a1a" stroke="#1a1a1a" stroke-width="0.12" transform="rotate(-90 9.60 227.00)">10 DPA</text>
<text x="9.60" y="362.50" font-size="9.4" text-anchor="middle" fill="#1a1a1a" stroke="#1a1a1a" stroke-width="0.12" transform="rotate(-90 9.60 362.50)">14 DPA</text>
<text x="9.60" y="697.00" font-size="9.4" text-anchor="middle" fill="#1a1a1a" stroke="#1a1a1a" stroke-width="0.12" transform="rotate(-90 9.60 697.00)">10 DPA</text>
<text x="9.60" y="832.00" font-size="9.4" text-anchor="middle" fill="#1a1a1a" stroke="#1a1a1a" stroke-width="0.12" transform="rotate(-90 9.60 832.00)">14 DPA</text>
<defs><filter id="k0" x="0" y="0" width="685" height="907" filterUnits="userSpaceOnUse" color-interpolation-filters="sRGB"><feTurbulence type="fractalNoise" baseFrequency="0.6" numOctaves="2" seed="2" result="n"/><feColorMatrix in="n" type="matrix" values="0 0 0 0 0.72  0 0 0 0 0.14  0 0 0 0 0.78  12 0 0 0 -7.200" result="c"/><feComposite in="c" in2="SourceGraphic" operator="in"/></filter><filter id="k1" x="0" y="0" width="685" height="907" filterUnits="userSpaceOnUse" color-interpolation-filters="sRGB"><feTurbulence type="fractalNoise" baseFrequency="0.6" numOctaves="2" seed="5" result="n"/><feColorMatrix in="n" type="matrix" values="0 0 0 0 0.72  0 0 0 0 0.14  0 0 0 0 0.78  12 0 0 0 -7.200" result="c"/><feComposite in="c" in2="SourceGraphic" operator="in"/></filter><filter id="k2" x="0" y="0" width="685" height="907" filterUnits="userSpaceOnUse" color-interpolation-filters="sRGB"><feTurbulence type="fractalNoise" baseFrequency="0.8" numOctaves="2" seed="9" result="n"/><feColorMatrix in="n" type="matrix" values="0 0 0 0 0.62  0 0 0 0 0.62  0 0 0 0 0.62  12 0 0 0 -7.920" result="c"/><feComposite in="c" in2="SourceGraphic" operator="in"/></filter><filter id="k3" x="0" y="0" width="685" height="907" filterUnits="userSpaceOnUse" color-interpolation-filters="sRGB"><feTurbulence type="fractalNoise" baseFrequency="1.13" numOctaves="2" seed="13" result="n"/><feColorMatrix in="n" type="matrix" values="0 0 0 0 0.78  0 0 0 0 0.66  0 0 0 0 0.15  12 0 0 0 -8.640" result="c"/><feComposite in="c" in2="SourceGraphic" operator="in"/></filter><filter id="k4" x="0" y="0" width="685" height="907" filterUnits="userSpaceOnUse" color-interpolation-filters="sRGB"><feTurbulence type="fractalNoise" baseFrequency="0.45" numOctaves="1" seed="14" result="n"/><feColorMatrix in="n" type="matrix" values="0 0 0 0 0.62  0 0 0 0 0.62  0 0 0 0 0.62  12 0 0 0 -6.000" result="c"/><feComposite in="c" in2="SourceGraphic" operator="in"/></filter><filter id="k5" x="0" y="0" width="685" height="907" filterUnits="userSpaceOnUse" color-interpolation-filters="sRGB"><feTurbulence type="fractalNoise" baseFrequency="0.9" numOctaves="2" seed="15" result="n"/><feColorMatrix in="n" type="matrix" values="0 0 0 0 0.72  0 0 0 0 0.14  0 0 0 0 0.78  12 0 0 0 -6.600" result="c"/><feComposite in="c" in2="SourceGraphic" operator="in"/></filter><filter id="k6" x="0" y="0" width="685" height="907" filterUnits="userSpaceOnUse" color-interpolation-filters="sRGB"><feTurbulence type="fractalNoise" baseFrequency="0.97" numOctaves="2" seed="4" result="n"/><feColorMatrix in="n" type="matrix" values="0 0 0 0 0.74  0 0 0 0 0.15  0 0 0 0 0.8  12 0 0 0 -5.400" result="c"/><feComposite in="c" in2="SourceGraphic" operator="in"/></filter><filter id="k7" x="0" y="0" width="685" height="907" filterUnits="userSpaceOnUse" color-interpolation-filters="sRGB"><feTurbulence type="fractalNoise" baseFrequency="0.5" numOctaves="1" seed="22" result="n"/><feColorMatrix in="n" type="matrix" values="0 0 0 0 0.62  0 0 0 0 0.62  0 0 0 0 0.62  12 0 0 0 -6.720" result="c"/><feComposite in="c" in2="SourceGraphic" operator="in"/></filter><filter id="k8" x="0" y="0" width="685" height="907" filterUnits="userSpaceOnUse" color-interpolation-filters="sRGB"><feTurbulence type="fractalNoise" baseFrequency="0.9" numOctaves="2" seed="26" result="n"/><feColorMatrix in="n" type="matrix" values="0 0 0 0 0.62  0 0 0 0 0.62  0 0 0 0 0.62  12 0 0 0 -6.840" result="c"/><feComposite in="c" in2="SourceGraphic" operator="in"/></filter><filter id="k9" x="0" y="0" width="685" height="907" filterUnits="userSpaceOnUse" color-interpolation-filters="sRGB"><feTurbulence type="fractalNoise" baseFrequency="0.97" numOctaves="2" seed="23" result="n"/><feColorMatrix in="n" type="matrix" values="0 0 0 0 0.72  0 0 0 0 0.14  0 0 0 0 0.78  12 0 0 0 -8.160" result="c"/><feComposite in="c" in2="SourceGraphic" operator="in"/></filter><filter id="k10" x="0" y="0" width="685" height="907" filterUnits="userSpaceOnUse" color-interpolation-filters="sRGB"><feTurbulence type="fractalNoise" baseFrequency="0.9" numOctaves="2" seed="27" result="n"/><feColorMatrix in="n" type="matrix" values="0 0 0 0 0.62  0 0 0 0 0.62  0 0 0 0 0.62  12 0 0 0 -7.680" result="c"/><feComposite in="c" in2="SourceGraphic" operator="in"/></filter><filter id="k11" x="0" y="0" width="685" height="907" filterUnits="userSpaceOnUse" color-interpolation-filters="sRGB"><feTurbulence type="fractalNoise" baseFrequency="0.97" numOctaves="2" seed="24" result="n"/><feColorMatrix in="n" type="matrix" values="0 0 0 0 0.74  0 0 0 0 0.15  0 0 0 0 0.8  12 0 0 0 -5.640" result="c"/><feComposite in="c" in2="SourceGraphic" operator="in"/></filter><filter id="k12" x="0" y="0" width="685" height="907" filterUnits="userSpaceOnUse" color-interpolation-filters="sRGB"><feTurbulence type="fractalNoise" baseFrequency="0.6" numOctaves="2" seed="25" result="n"/><feColorMatrix in="n" type="matrix" values="0 0 0 0 0.62  0 0 0 0 0.62  0 0 0 0 0.62  12 0 0 0 -7.200" result="c"/><feComposite in="c" in2="SourceGraphic" operator="in"/></filter><filter id="k13" x="0" y="0" width="685" height="907" filterUnits="userSpaceOnUse" color-interpolation-filters="sRGB"><feTurbulence type="fractalNoise" baseFrequency="0.9" numOctaves="2" seed="31" result="n"/><feColorMatrix in="n" type="matrix" values="0 0 0 0 0.72  0 0 0 0 0.14  0 0 0 0 0.78  12 0 0 0 -7.080" result="c"/><feComposite in="c" in2="SourceGraphic" operator="in"/></filter><filter id="k14" x="0" y="0" width="685" height="907" filterUnits="userSpaceOnUse" color-interpolation-filters="sRGB"><feTurbulence type="fractalNoise" baseFrequency="0.7" numOctaves="2" seed="35" result="n"/><feColorMatrix in="n" type="matrix" values="0 0 0 0 0.72  0 0 0 0 0.14  0 0 0 0 0.78  12 0 0 0 -6.960" result="c"/><feComposite in="c" in2="SourceGraphic" operator="in"/></filter><filter id="k15" x="0" y="0" width="685" height="907" filterUnits="userSpaceOnUse" color-interpolation-filters="sRGB"><feTurbulence type="fractalNoise" baseFrequency="0.9" numOctaves="2" seed="32" result="n"/><feColorMatrix in="n" type="matrix" values="0 0 0 0 0.62  0 0 0 0 0.62  0 0 0 0 0.62  12 0 0 0 -7.920" result="c"/><feComposite in="c" in2="SourceGraphic" operator="in"/></filter><filter id="k16" x="0" y="0" width="685" height="907" filterUnits="userSpaceOnUse" color-interpolation-filters="sRGB"><feTurbulence type="fractalNoise" baseFrequency="0.97" numOctaves="2" seed="33" result="n"/><feColorMatrix in="n" type="matrix" values="0 0 0 0 0.8  0 0 0 0 0.8  0 0 0 0 0.8  12 0 0 0 -7.440" result="c"/><feComposite in="c" in2="SourceGraphic" operator="in"/></filter><filter id="k17" x="0" y="0" width="685" height="907" filterUnits="userSpaceOnUse" color-interpolation-filters="sRGB"><feTurbulence type="fractalNoise" baseFrequency="0.97" numOctaves="2" seed="34" result="n"/><feColorMatrix in="n" type="matrix" values="0 0 0 0 0.74  0 0 0 0 0.15  0 0 0 0 0.8  12 0 0 0 -5.640" result="c"/><feComposite in="c" in2="SourceGraphic" operator="in"/></filter><filter id="k18" x="0" y="0" width="685" height="907" filterUnits="userSpaceOnUse" color-interpolation-filters="sRGB"><feTurbulence type="fractalNoise" baseFrequency="0.9" numOctaves="2" seed="41" result="n"/><feColorMatrix in="n" type="matrix" values="0 0 0 0 0.62  0 0 0 0 0.62  0 0 0 0 0.62  12 0 0 0 -7.680" result="c"/><feComposite in="c" in2="SourceGraphic" operator="in"/></filter><filter id="k19" x="0" y="0" width="685" height="907" filterUnits="userSpaceOnUse" color-interpolation-filters="sRGB"><feTurbulence type="fractalNoise" baseFrequency="0.9" numOctaves="2" seed="42" result="n"/><feColorMatrix in="n" type="matrix" values="0 0 0 0 0.72  0 0 0 0 0.14  0 0 0 0 0.78  12 0 0 0 -7.680" result="c"/><feComposite in="c" in2="SourceGraphic" operator="in"/></filter><filter id="k20" x="0" y="0" width="685" height="907" filterUnits="userSpaceOnUse" color-interpolation-filters="sRGB"><feTurbulence type="fractalNoise" baseFrequency="0.9" numOctaves="2" seed="43" result="n"/><feColorMatrix in="n" type="matrix" values="0 0 0 0 0.62  0 0 0 0 0.62  0 0 0 0 0.62  12 0 0 0 -7.200" result="c"/><feComposite in="c" in2="SourceGraphic" operator="in"/></filter><filter id="k21" x="0" y="0" width="685" height="907" filterUnits="userSpaceOnUse" color-interpolation-filters="sRGB"><feTurbulence type="fractalNoise" baseFrequency="0.9" numOctaves="2" seed="45" result="n"/><feColorMatrix in="n" type="matrix" values="0 0 0 0 0.72  0 0 0 0 0.14  0 0 0 0 0.78  12 0 0 0 -7.560" result="c"/><feComposite in="c" in2="SourceGraphic" operator="in"/></filter><filter id="k22" x="0" y="0" width="685" height="907" filterUnits="userSpaceOnUse" color-interpolation-filters="sRGB"><feTurbulence type="fractalNoise" baseFrequency="0.45" numOctaves="1" seed="46" result="n"/><feColorMatrix in="n" type="matrix" values="0 0 0 0 0.62  0 0 0 0 0.62  0 0 0 0 0.62  12 0 0 0 -7.440" result="c"/><feComposite in="c" in2="SourceGraphic" operator="in"/></filter><filter id="k23" x="0" y="0" width="685" height="907" filterUnits="userSpaceOnUse" color-interpolation-filters="sRGB"><feTurbulence type="fractalNoise" baseFrequency="0.9" numOctaves="2" seed="47" result="n"/><feColorMatrix in="n" type="matrix" values="0 0 0 0 0.62  0 0 0 0 0.62  0 0 0 0 0.62  12 0 0 0 -7.200" result="c"/><feComposite in="c" in2="SourceGraphic" operator="in"/></filter><filter id="k24" x="0" y="0" width="685" height="907" filterUnits="userSpaceOnUse" color-interpolation-filters="sRGB"><feTurbulence type="fractalNoise" baseFrequency="0.97" numOctaves="2" seed="44" result="n"/><feColorMatrix in="n" type="matrix" values="0 0 0 0 0.74  0 0 0 0 0.15  0 0 0 0 0.8  12 0 0 0 -5.640" result="c"/><feComposite in="c" in2="SourceGraphic" operator="in"/></filter><filter id="k25" x="0" y="0" width="685" height="907" filterUnits="userSpaceOnUse" color-interpolation-filters="sRGB"><feTurbulence type="fractalNoise" baseFrequency="0.9" numOctaves="2" seed="51" result="n"/><feColorMatrix in="n" type="matrix" values="0 0 0 0 0.8  0 0 0 0 0.8  0 0 0 0 0.8  12 0 0 0 -7.680" result="c"/><feComposite in="c" in2="SourceGraphic" operator="in"/></filter><filter id="k26" x="0" y="0" width="685" height="907" filterUnits="userSpaceOnUse" color-interpolation-filters="sRGB"><feTurbulence type="fractalNoise" baseFrequency="0.9" numOctaves="2" seed="52" result="n"/><feColorMatrix in="n" type="matrix" values="0 0 0 0 0.72  0 0 0 0 0.14  0 0 0 0 0.78  12 0 0 0 -8.160" result="c"/><feComposite in="c" in2="SourceGraphic" operator="in"/></filter><filter id="k27" x="0" y="0" width="685" height="907" filterUnits="userSpaceOnUse" color-interpolation-filters="sRGB"><feTurbulence type="fractalNoise" baseFrequency="0.9" numOctaves="2" seed="53" result="n"/><feColorMatrix in="n" type="matrix" values="0 0 0 0 0.72  0 0 0 0 0.14  0 0 0 0 0.78  12 0 0 0 -7.440" result="c"/><feComposite in="c" in2="SourceGraphic" operator="in"/></filter><filter id="k28" x="0" y="0" width="685" height="907" filterUnits="userSpaceOnUse" color-interpolation-filters="sRGB"><feTurbulence type="fractalNoise" baseFrequency="0.97" numOctaves="2" seed="54" result="n"/><feColorMatrix in="n" type="matrix" values="0 0 0 0 0.78  0 0 0 0 0.66  0 0 0 0 0.15  12 0 0 0 -7.920" result="c"/><feComposite in="c" in2="SourceGraphic" operator="in"/></filter><filter id="k29" x="0" y="0" width="685" height="907" filterUnits="userSpaceOnUse" color-interpolation-filters="sRGB"><feTurbulence type="fractalNoise" baseFrequency="0.97" numOctaves="2" seed="55" result="n"/><feColorMatrix in="n" type="matrix" values="0 0 0 0 0.1  0 0 0 0 0.8  0 0 0 0 0.84  12 0 0 0 -8.160" result="c"/><feComposite in="c" in2="SourceGraphic" operator="in"/></filter><filter id="k30" x="0" y="0" width="685" height="907" filterUnits="userSpaceOnUse" color-interpolation-filters="sRGB"><feTurbulence type="fractalNoise" baseFrequency="0.9" numOctaves="2" seed="56" result="n"/><feColorMatrix in="n" type="matrix" values="0 0 0 0 0.8  0 0 0 0 0.8  0 0 0 0 0.8  12 0 0 0 -7.680" result="c"/><feComposite in="c" in2="SourceGraphic" operator="in"/></filter><filter id="k31" x="0" y="0" width="685" height="907" filterUnits="userSpaceOnUse" color-interpolation-filters="sRGB"><feTurbulence type="fractalNoise" baseFrequency="0.97" numOctaves="2" seed="59" result="n"/><feColorMatrix in="n" type="matrix" values="0 0 0 0 0.78  0 0 0 0 0.66  0 0 0 0 0.15  12 0 0 0 -8.400" result="c"/><feComposite in="c" in2="SourceGraphic" operator="in"/></filter><filter id="k32" x="0" y="0" width="685" height="907" filterUnits="userSpaceOnUse" color-interpolation-filters="sRGB"><feTurbulence type="fractalNoise" baseFrequency="0.97" numOctaves="2" seed="57" result="n"/><feColorMatrix in="n" type="matrix" values="0 0 0 0 0.8  0 0 0 0 0.8  0 0 0 0 0.8  12 0 0 0 -6.600" result="c"/><feComposite in="c" in2="SourceGraphic" operator="in"/></filter><filter id="k33" x="0" y="0" width="685" height="907" filterUnits="userSpaceOnUse" color-interpolation-filters="sRGB"><feTurbulence type="fractalNoise" baseFrequency="0.97" numOctaves="2" seed="58" result="n"/><feColorMatrix in="n" type="matrix" values="0 0 0 0 0.72  0 0 0 0 0.14  0 0 0 0 0.78  12 0 0 0 -6.600" result="c"/><feComposite in="c" in2="SourceGraphic" operator="in"/></filter><filter id="k34" x="0" y="0" width="685" height="907" filterUnits="userSpaceOnUse" color-interpolation-filters="sRGB"><feTurbulence type="fractalNoise" baseFrequency="0.9" numOctaves="2" seed="61" result="n"/><feColorMatrix in="n" type="matrix" values="0 0 0 0 0.62  0 0 0 0 0.62  0 0 0 0 0.62  12 0 0 0 -7.680" result="c"/><feComposite in="c" in2="SourceGraphic" operator="in"/></filter><filter id="k35" x="0" y="0" width="685" height="907" filterUnits="userSpaceOnUse" color-interpolation-filters="sRGB"><feTurbulence type="fractalNoise" baseFrequency="0.9" numOctaves="2" seed="60" result="n"/><feColorMatrix in="n" type="matrix" values="0 0 0 0 0.72  0 0 0 0 0.14  0 0 0 0 0.78  12 0 0 0 -8.400" result="c"/><feComposite in="c" in2="SourceGraphic" operator="in"/></filter><filter id="k36" x="0" y="0" width="685" height="907" filterUnits="userSpaceOnUse" color-interpolation-filters="sRGB"><feTurbulence type="fractalNoise" baseFrequency="0.9" numOctaves="2" seed="59" result="n"/><feColorMatrix in="n" type="matrix" values="0 0 0 0 0.78  0 0 0 0 0.66  0 0 0 0 0.15  12 0 0 0 -8.640" result="c"/><feComposite in="c" in2="SourceGraphic" operator="in"/></filter><filter id="k37" x="0" y="0" width="685" height="907" filterUnits="userSpaceOnUse" color-interpolation-filters="sRGB"><feTurbulence type="fractalNoise" baseFrequency="0.9" numOctaves="2" seed="62" result="n"/><feColorMatrix in="n" type="matrix" values="0 0 0 0 0.72  0 0 0 0 0.14  0 0 0 0 0.78  12 0 0 0 -7.200" result="c"/><feComposite in="c" in2="SourceGraphic" operator="in"/></filter><filter id="k38" x="0" y="0" width="685" height="907" filterUnits="userSpaceOnUse" color-interpolation-filters="sRGB"><feTurbulence type="fractalNoise" baseFrequency="0.97" numOctaves="2" seed="63" result="n"/><feColorMatrix in="n" type="matrix" values="0 0 0 0 0.78  0 0 0 0 0.66  0 0 0 0 0.15  12 0 0 0 -7.440" result="c"/><feComposite in="c" in2="SourceGraphic" operator="in"/></filter><filter id="k39" x="0" y="0" width="685" height="907" filterUnits="userSpaceOnUse" color-interpolation-filters="sRGB"><feTurbulence type="fractalNoise" baseFrequency="0.9" numOctaves="2" seed="64" result="n"/><feColorMatrix in="n" type="matrix" values="0 0 0 0 0.1  0 0 0 0 0.8  0 0 0 0 0.84  12 0 0 0 -6.840" result="c"/><feComposite in="c" in2="SourceGraphic" operator="in"/></filter><filter id="k40" x="0" y="0" width="685" height="907" filterUnits="userSpaceOnUse" color-interpolation-filters="sRGB"><feTurbulence type="fractalNoise" baseFrequency="0.9" numOctaves="2" seed="65" result="n"/><feColorMatrix in="n" type="matrix" values="0 0 0 0 0.1  0 0 0 0 0.8  0 0 0 0 0.84  12 0 0 0 -7.680" result="c"/><feComposite in="c" in2="SourceGraphic" operator="in"/></filter><filter id="k41" x="0" y="0" width="685" height="907" filterUnits="userSpaceOnUse" color-interpolation-filters="sRGB"><feTurbulence type="fractalNoise" baseFrequency="0.9" numOctaves="2" seed="68" result="n"/><feColorMatrix in="n" type="matrix" values="0 0 0 0 0.72  0 0 0 0 0.14  0 0 0 0 0.78  12 0 0 0 -7.920" result="c"/><feComposite in="c" in2="SourceGraphic" operator="in"/></filter><filter id="k42" x="0" y="0" width="685" height="907" filterUnits="userSpaceOnUse" color-interpolation-filters="sRGB"><feTurbulence type="fractalNoise" baseFrequency="0.97" numOctaves="2" seed="69" result="n"/><feColorMatrix in="n" type="matrix" values="0 0 0 0 0.78  0 0 0 0 0.66  0 0 0 0 0.15  12 0 0 0 -8.160" result="c"/><feComposite in="c" in2="SourceGraphic" operator="in"/></filter><filter id="k43" x="0" y="0" width="685" height="907" filterUnits="userSpaceOnUse" color-interpolation-filters="sRGB"><feTurbulence type="fractalNoise" baseFrequency="0.97" numOctaves="2" seed="66" result="n"/><feColorMatrix in="n" type="matrix" values="0 0 0 0 0.8  0 0 0 0 0.8  0 0 0 0 0.8  12 0 0 0 -5.760" result="c"/><feComposite in="c" in2="SourceGraphic" operator="in"/></filter><filter id="k44" x="0" y="0" width="685" height="907" filterUnits="userSpaceOnUse" color-interpolation-filters="sRGB"><feTurbulence type="fractalNoise" baseFrequency="0.97" numOctaves="2" seed="67" result="n"/><feColorMatrix in="n" type="matrix" values="0 0 0 0 0.78  0 0 0 0 0.66  0 0 0 0 0.15  12 0 0 0 -7.680" result="c"/><feComposite in="c" in2="SourceGraphic" operator="in"/></filter><filter id="k45" x="0" y="0" width="685" height="907" filterUnits="userSpaceOnUse" color-interpolation-filters="sRGB"><feTurbulence type="fractalNoise" baseFrequency="0.9" numOctaves="2" seed="71" result="n"/><feColorMatrix in="n" type="matrix" values="0 0 0 0 0.62  0 0 0 0 0.62  0 0 0 0 0.62  12 0 0 0 -7.440" result="c"/><feComposite in="c" in2="SourceGraphic" operator="in"/></filter><filter id="k46" x="0" y="0" width="685" height="907" filterUnits="userSpaceOnUse" color-interpolation-filters="sRGB"><feTurbulence type="fractalNoise" baseFrequency="0.9" numOctaves="2" seed="70" result="n"/><feColorMatrix in="n" type="matrix" values="0 0 0 0 0.72  0 0 0 0 0.14  0 0 0 0 0.78  12 0 0 0 -8.400" result="c"/><feComposite in="c" in2="SourceGraphic" operator="in"/></filter><filter id="k47" x="0" y="0" width="685" height="907" filterUnits="userSpaceOnUse" color-interpolation-filters="sRGB"><feTurbulence type="fractalNoise" baseFrequency="0.9" numOctaves="2" seed="72" result="n"/><feColorMatrix in="n" type="matrix" values="0 0 0 0 0.72  0 0 0 0 0.14  0 0 0 0 0.78  12 0 0 0 -6.960" result="c"/><feComposite in="c" in2="SourceGraphic" operator="in"/></filter><filter id="k48" x="0" y="0" width="685" height="907" filterUnits="userSpaceOnUse" color-interpolation-filters="sRGB"><feTurbulence type="fractalNoise" baseFrequency="0.97" numOctaves="2" seed="73" result="n"/><feColorMatrix in="n" type="matrix" values="0 0 0 0 0.78  0 0 0 0 0.66  0 0 0 0 0.15  12 0 0 0 -7.680" result="c"/><feComposite in="c" in2="SourceGraphic" operator="in"/></filter><filter id="k49" x="0" y="0" width="685" height="907" filterUnits="userSpaceOnUse" color-interpolation-filters="sRGB"><feTurbulence type="fractalNoise" baseFrequency="0.8" numOctaves="2" seed="74" result="n"/><feColorMatrix in="n" type="matrix" values="0 0 0 0 0.1  0 0 0 0 0.8  0 0 0 0 0.84  12 0 0 0 -6.480" result="c"/><feComposite in="c" in2="SourceGraphic" operator="in"/></filter><filter id="k50" x="0" y="0" width="685" height="907" filterUnits="userSpaceOnUse" color-interpolation-filters="sRGB"><feTurbulence type="fractalNoise" baseFrequency="0.9" numOctaves="2" seed="75" result="n"/><feColorMatrix in="n" type="matrix" values="0 0 0 0 0.1  0 0 0 0 0.8  0 0 0 0 0.84  12 0 0 0 -7.440" result="c"/><feComposite in="c" in2="SourceGraphic" operator="in"/></filter><filter id="k51" x="0" y="0" width="685" height="907" filterUnits="userSpaceOnUse" color-interpolation-filters="sRGB"><feTurbulence type="fractalNoise" baseFrequency="0.97" numOctaves="2" seed="76" result="n"/><feColorMatrix in="n" type="matrix" values="0 0 0 0 0.8  0 0 0 0 0.8  0 0 0 0 0.8  12 0 0 0 -5.760" result="c"/><feComposite in="c" in2="SourceGraphic" operator="in"/></filter><filter id="k52" x="0" y="0" width="685" height="907" filterUnits="userSpaceOnUse" color-interpolation-filters="sRGB"><feTurbulence type="fractalNoise" baseFrequency="0.97" numOctaves="2" seed="77" result="n"/><feColorMatrix in="n" type="matrix" values="0 0 0 0 0.78  0 0 0 0 0.66  0 0 0 0 0.15  12 0 0 0 -7.920" result="c"/><feComposite in="c" in2="SourceGraphic" operator="in"/></filter><filter id="k53" x="0" y="0" width="685" height="907" filterUnits="userSpaceOnUse" color-interpolation-filters="sRGB"><feTurbulence type="fractalNoise" baseFrequency="0.9" numOctaves="2" seed="82" result="n"/><feColorMatrix in="n" type="matrix" values="0 0 0 0 0.62  0 0 0 0 0.62  0 0 0 0 0.62  12 0 0 0 -7.680" result="c"/><feComposite in="c" in2="SourceGraphic" operator="in"/></filter><filter id="k54" x="0" y="0" width="685" height="907" filterUnits="userSpaceOnUse" color-interpolation-filters="sRGB"><feTurbulence type="fractalNoise" baseFrequency="0.9" numOctaves="2" seed="81" result="n"/><feColorMatrix in="n" type="matrix" values="0 0 0 0 0.72  0 0 0 0 0.14  0 0 0 0 0.78  12 0 0 0 -8.280" result="c"/><feComposite in="c" in2="SourceGraphic" operator="in"/></filter><filter id="k55" x="0" y="0" width="685" height="907" filterUnits="userSpaceOnUse" color-interpolation-filters="sRGB"><feTurbulence type="fractalNoise" baseFrequency="0.9" numOctaves="2" seed="83" result="n"/><feColorMatrix in="n" type="matrix" values="0 0 0 0 0.1  0 0 0 0 0.8  0 0 0 0 0.84  12 0 0 0 -6.960" result="c"/><feComposite in="c" in2="SourceGraphic" operator="in"/></filter><filter id="k56" x="0" y="0" width="685" height="907" filterUnits="userSpaceOnUse" color-interpolation-filters="sRGB"><feTurbulence type="fractalNoise" baseFrequency="0.9" numOctaves="2" seed="84" result="n"/><feColorMatrix in="n" type="matrix" values="0 0 0 0 0.72  0 0 0 0 0.14  0 0 0 0 0.78  12 0 0 0 -6.960" result="c"/><feComposite in="c" in2="SourceGraphic" operator="in"/></filter><filter id="k57" x="0" y="0" width="685" height="907" filterUnits="userSpaceOnUse" color-interpolation-filters="sRGB"><feTurbulence type="fractalNoise" baseFrequency="0.97" numOctaves="2" seed="85" result="n"/><feColorMatrix in="n" type="matrix" values="0 0 0 0 0.78  0 0 0 0 0.66  0 0 0 0 0.15  12 0 0 0 -7.920" result="c"/><feComposite in="c" in2="SourceGraphic" operator="in"/></filter><filter id="k58" x="0" y="0" width="685" height="907" filterUnits="userSpaceOnUse" color-interpolation-filters="sRGB"><feTurbulence type="fractalNoise" baseFrequency="0.9" numOctaves="2" seed="88" result="n"/><feColorMatrix in="n" type="matrix" values="0 0 0 0 0.78  0 0 0 0 0.66  0 0 0 0 0.15  12 0 0 0 -6.960" result="c"/><feComposite in="c" in2="SourceGraphic" operator="in"/></filter><filter id="k59" x="0" y="0" width="685" height="907" filterUnits="userSpaceOnUse" color-interpolation-filters="sRGB"><feTurbulence type="fractalNoise" baseFrequency="0.97" numOctaves="2" seed="86" result="n"/><feColorMatrix in="n" type="matrix" values="0 0 0 0 0.8  0 0 0 0 0.8  0 0 0 0 0.8  12 0 0 0 -5.760" result="c"/><feComposite in="c" in2="SourceGraphic" operator="in"/></filter><filter id="k60" x="0" y="0" width="685" height="907" filterUnits="userSpaceOnUse" color-interpolation-filters="sRGB"><feTurbulence type="fractalNoise" baseFrequency="0.97" numOctaves="2" seed="87" result="n"/><feColorMatrix in="n" type="matrix" values="0 0 0 0 0.78  0 0 0 0 0.66  0 0 0 0 0.15  12 0 0 0 -7.920" result="c"/><feComposite in="c" in2="SourceGraphic" operator="in"/></filter></defs>
<clipPath id="ci1"><rect x="14" y="162" width="131" height="130"/></clipPath>
<clipPath id="ct1"><path d="M17.80,211.70 C18.58,206.60 19.05,205.07 21.60,202.20 C24.15,199.33 29.27,197.05 33.10,194.50 C36.93,191.95 41.08,189.45 44.60,186.90 C48.12,184.35 51.02,181.75 54.20,179.20 C57.38,176.65 60.40,173.13 63.70,171.60 C67.00,170.07 70.17,170.17 74.00,170.00 C77.83,169.83 83.00,168.77 86.70,170.60 C90.40,172.43 93.33,179.88 96.20,181.00 C99.07,182.12 101.35,178.55 103.90,177.30 C106.45,176.05 109.58,175.42 111.50,173.50 C113.42,171.58 113.17,166.77 115.40,165.80 C117.63,164.83 121.72,165.47 124.90,167.70 C128.08,169.93 132.10,173.78 134.50,179.20 C136.90,184.62 138.67,193.50 139.30,200.20 C139.93,206.90 139.42,213.02 138.30,219.40 C137.18,225.78 135.15,232.77 132.60,238.50 C130.05,244.23 126.83,248.05 123.00,253.80 C119.17,259.55 114.38,267.90 109.60,273.00 C104.82,278.10 100.23,281.48 94.30,284.40 C88.37,287.32 80.05,290.02 74.00,290.50 C67.95,290.98 63.22,289.27 58.00,287.30 C52.78,285.33 47.48,282.37 42.70,278.70 C37.92,275.03 33.13,270.42 29.30,265.30 C25.47,260.18 21.77,253.42 19.70,248.00 C17.63,242.58 17.22,238.85 16.90,232.80 C16.58,226.75 17.02,216.80 17.80,211.70Z"/></clipPath>
<rect x="14" y="162" width="131" height="130" fill="#000"/>
<g clip-path="url(#ci1)">
<g clip-path="url(#ct1)">
<path d="M17.80,211.70 C18.58,206.60 19.05,205.07 21.60,202.20 C24.15,199.33 29.27,197.05 33.10,194.50 C36.93,191.95 41.08,189.45 44.60,186.90 C48.12,184.35 51.02,181.75 54.20,179.20 C57.38,176.65 60.40,173.13 63.70,171.60 C67.00,170.07 70.17,170.17 74.00,170.00 C77.83,169.83 83.00,168.77 86.70,170.60 C90.40,172.43 93.33,179.88 96.20,181.00 C99.07,182.12 101.35,178.55 103.90,177.30 C106.45,176.05 109.58,175.42 111.50,173.50 C113.42,171.58 113.17,166.77 115.40,165.80 C117.63,164.83 121.72,165.47 124.90,167.70 C128.08,169.93 132.10,173.78 134.50,179.20 C136.90,184.62 138.67,193.50 139.30,200.20 C139.93,206.90 139.42,213.02 138.30,219.40 C137.18,225.78 135.15,232.77 132.60,238.50 C130.05,244.23 126.83,248.05 123.00,253.80 C119.17,259.55 114.38,267.90 109.60,273.00 C104.82,278.10 100.23,281.48 94.30,284.40 C88.37,287.32 80.05,290.02 74.00,290.50 C67.95,290.98 63.22,289.27 58.00,287.30 C52.78,285.33 47.48,282.37 42.70,278.70 C37.92,275.03 33.13,270.42 29.30,265.30 C25.47,260.18 21.77,253.42 19.70,248.00 C17.63,242.58 17.22,238.85 16.90,232.80 C16.58,226.75 17.02,216.80 17.80,211.70Z" fill="#fff" fill-opacity="0.85" filter="url(#k0)"/>
<path d="M14.00,242.00 C22.33,235.33 53.17,233.67 74.00,232.00 C94.83,230.33 130.67,223.67 139.00,232.00 C147.33,240.33 134.83,272.00 124.00,282.00 C113.17,292.00 90.67,293.67 74.00,292.00 C57.33,290.33 34.00,280.33 24.00,272.00 C14.00,263.67 5.67,248.67 14.00,242.00Z" fill="#fff" fill-opacity="0.9" filter="url(#k1)"/>
<path d="M17.80,211.70 C18.58,206.60 19.05,205.07 21.60,202.20 C24.15,199.33 29.27,197.05 33.10,194.50 C36.93,191.95 41.08,189.45 44.60,186.90 C48.12,184.35 51.02,181.75 54.20,179.20 C57.38,176.65 60.40,173.13 63.70,171.60 C67.00,170.07 70.17,170.17 74.00,170.00 C77.83,169.83 83.00,168.77 86.70,170.60 C90.40,172.43 93.33,179.88 96.20,181.00 C99.07,182.12 101.35,178.55 103.90,177.30 C106.45,176.05 109.58,175.42 111.50,173.50 C113.42,171.58 113.17,166.77 115.40,165.80 C117.63,164.83 121.72,165.47 124.90,167.70 C128.08,169.93 132.10,173.78 134.50,179.20 C136.90,184.62 138.67,193.50 139.30,200.20 C139.93,206.90 139.42,213.02 138.30,219.40 C137.18,225.78 135.15,232.77 132.60,238.50 C130.05,244.23 126.83,248.05 123.00,253.80 C119.17,259.55 114.38,267.90 109.60,273.00 C104.82,278.10 100.23,281.48 94.30,284.40 C88.37,287.32 80.05,290.02 74.00,290.50 C67.95,290.98 63.22,289.27 58.00,287.30 C52.78,285.33 47.48,282.37 42.70,278.70 C37.92,275.03 33.13,270.42 29.30,265.30 C25.47,260.18 21.77,253.42 19.70,248.00 C17.63,242.58 17.22,238.85 16.90,232.80 C16.58,226.75 17.02,216.80 17.80,211.70Z" fill="#fff" fill-opacity="0.7" filter="url(#k2)"/>
<path d="M17.80,211.70 C18.58,206.60 19.05,205.07 21.60,202.20 C24.15,199.33 29.27,197.05 33.10,194.50 C36.93,191.95 41.08,189.45 44.60,186.90 C48.12,184.35 51.02,181.75 54.20,179.20 C57.38,176.65 60.40,173.13 63.70,171.60 C67.00,170.07 70.17,170.17 74.00,170.00 C77.83,169.83 83.00,168.77 86.70,170.60 C90.40,172.43 93.33,179.88 96.20,181.00 C99.07,182.12 101.35,178.55 103.90,177.30 C106.45,176.05 109.58,175.42 111.50,173.50 C113.42,171.58 113.17,166.77 115.40,165.80 C117.63,164.83 121.72,165.47 124.90,167.70 C128.08,169.93 132.10,173.78 134.50,179.20 C136.90,184.62 138.67,193.50 139.30,200.20 C139.93,206.90 139.42,213.02 138.30,219.40 C137.18,225.78 135.15,232.77 132.60,238.50 C130.05,244.23 126.83,248.05 123.00,253.80 C119.17,259.55 114.38,267.90 109.60,273.00 C104.82,278.10 100.23,281.48 94.30,284.40 C88.37,287.32 80.05,290.02 74.00,290.50 C67.95,290.98 63.22,289.27 58.00,287.30 C52.78,285.33 47.48,282.37 42.70,278.70 C37.92,275.03 33.13,270.42 29.30,265.30 C25.47,260.18 21.77,253.42 19.70,248.00 C17.63,242.58 17.22,238.85 16.90,232.80 C16.58,226.75 17.02,216.80 17.80,211.70Z" fill="#fff" fill-opacity="0.45" filter="url(#k3)"/>
<path d="M112.00,164.00 C113.33,162.83 118.17,162.83 122.00,165.00 C125.83,167.17 131.83,171.17 135.00,177.00 C138.17,182.83 140.33,192.50 141.00,200.00 C141.67,207.50 140.33,215.33 139.00,222.00 C137.67,228.67 135.00,238.00 133.00,240.00 C131.00,242.00 127.33,237.83 127.00,234.00 C126.67,230.17 130.50,223.17 131.00,217.00 C131.50,210.83 131.33,203.17 130.00,197.00 C128.67,190.83 125.67,184.17 123.00,180.00 C120.33,175.83 115.83,174.67 114.00,172.00 C112.17,169.33 110.67,165.17 112.00,164.00Z" fill="#fff" fill-opacity="0.9" filter="url(#k4)"/>
<path d="M112.00,164.00 C113.33,162.83 118.17,162.83 122.00,165.00 C125.83,167.17 131.83,171.17 135.00,177.00 C138.17,182.83 140.33,192.50 141.00,200.00 C141.67,207.50 140.33,215.33 139.00,222.00 C137.67,228.67 135.00,238.00 133.00,240.00 C131.00,242.00 127.33,237.83 127.00,234.00 C126.67,230.17 130.50,223.17 131.00,217.00 C131.50,210.83 131.33,203.17 130.00,197.00 C128.67,190.83 125.67,184.17 123.00,180.00 C120.33,175.83 115.83,174.67 114.00,172.00 C112.17,169.33 110.67,165.17 112.00,164.00Z" fill="#fff" fill-opacity="0.8" filter="url(#k5)"/>
<path d="M115.40,165.80 C116.98,166.12 121.72,165.47 124.90,167.70 C128.08,169.93 132.10,173.78 134.50,179.20 C136.90,184.62 138.67,193.50 139.30,200.20 C139.93,206.90 139.42,213.02 138.30,219.40 C137.18,225.78 135.15,232.77 132.60,238.50 C130.05,244.23 126.83,248.05 123.00,253.80 C119.17,259.55 114.38,267.90 109.60,273.00 C104.82,278.10 100.23,281.48 94.30,284.40 C88.37,287.32 80.05,290.02 74.00,290.50 C67.95,290.98 63.22,289.27 58.00,287.30 C52.78,285.33 47.48,282.37 42.70,278.70 C37.92,275.03 33.13,270.42 29.30,265.30 C25.47,260.18 21.77,253.42 19.70,248.00 C17.63,242.58 17.22,238.85 16.90,232.80 C16.58,226.75 17.65,215.22 17.80,211.70" fill="none" stroke="#a020a8" stroke-opacity="0.45" stroke-width="3"/>
<path d="M115.40,165.80 C116.98,166.12 121.72,165.47 124.90,167.70 C128.08,169.93 132.10,173.78 134.50,179.20 C136.90,184.62 138.67,193.50 139.30,200.20 C139.93,206.90 139.42,213.02 138.30,219.40 C137.18,225.78 135.15,232.77 132.60,238.50 C130.05,244.23 126.83,248.05 123.00,253.80 C119.17,259.55 114.38,267.90 109.60,273.00 C104.82,278.10 100.23,281.48 94.30,284.40 C88.37,287.32 80.05,290.02 74.00,290.50 C67.95,290.98 63.22,289.27 58.00,287.30 C52.78,285.33 47.48,282.37 42.70,278.70 C37.92,275.03 33.13,270.42 29.30,265.30 C25.47,260.18 21.77,253.42 19.70,248.00 C17.63,242.58 17.22,238.85 16.90,232.80 C16.58,226.75 17.65,215.22 17.80,211.70" fill="none" stroke="#fff" stroke-opacity="1.0" stroke-width="7" filter="url(#k6)"/>
</g>
<line x1="16.9" y1="232.6" x2="141.7" y2="223.8" stroke="#f4f4f4" stroke-width="1.7" stroke-dasharray="13,12" stroke-dashoffset="6.9"/>
<line x1="121.0" y1="289.4" x2="141.8" y2="289.4" stroke="#a0a0a0" stroke-width="1.0"/>
</g>
<clipPath id="ci2"><rect x="149" y="162" width="131" height="130"/></clipPath>
<clipPath id="ct2"><path d="M139.00,152.00 C117.73,159.72 136.38,187.72 139.00,198.30 C141.62,208.88 150.17,209.43 154.70,215.50 C159.23,221.57 162.37,228.63 166.20,234.70 C170.03,240.77 174.20,246.17 177.70,251.90 C181.20,257.63 183.70,264.32 187.20,269.10 C190.70,273.88 194.23,277.57 198.70,280.60 C203.17,283.63 208.90,286.03 214.00,287.30 C219.10,288.57 224.20,288.68 229.30,288.20 C234.40,287.72 239.82,286.63 244.60,284.40 C249.38,282.17 254.48,278.63 258.00,274.80 C261.52,270.97 263.78,266.82 265.70,261.40 C267.62,255.98 268.55,249.30 269.50,242.30 C270.45,235.30 271.08,228.00 271.40,219.40 C271.72,210.80 271.88,198.67 271.40,190.70 C270.92,182.73 269.30,178.05 268.50,171.60 C267.70,165.15 288.18,155.27 266.60,152.00 C245.02,148.73 160.27,144.28 139.00,152.00Z"/></clipPath>
<rect x="149" y="162" width="131" height="130" fill="#000"/>
<g clip-path="url(#ci2)">
<g clip-path="url(#ct2)">
<path d="M147.00,242.00 C150.67,230.67 158.67,229.83 169.00,224.00 C179.33,218.17 195.67,212.33 209.00,207.00 C222.33,201.67 238.17,195.33 249.00,192.00 C259.83,188.67 269.83,170.33 274.00,187.00 C278.17,203.67 295.17,274.50 274.00,292.00 C252.83,309.50 168.17,300.33 147.00,292.00 C125.83,283.67 143.33,253.33 147.00,242.00Z" fill="#fff" fill-opacity="0.8" filter="url(#k7)"/>
<path d="M147.00,242.00 C150.67,230.67 158.67,229.83 169.00,224.00 C179.33,218.17 195.67,212.33 209.00,207.00 C222.33,201.67 238.17,195.33 249.00,192.00 C259.83,188.67 269.83,170.33 274.00,187.00 C278.17,203.67 295.17,274.50 274.00,292.00 C252.83,309.50 168.17,300.33 147.00,292.00 C125.83,283.67 143.33,253.33 147.00,242.00Z" fill="#fff" fill-opacity="0.7" filter="url(#k8)"/>
<path d="M139.00,152.00 C117.73,159.72 136.38,187.72 139.00,198.30 C141.62,208.88 150.17,209.43 154.70,215.50 C159.23,221.57 162.37,228.63 166.20,234.70 C170.03,240.77 174.20,246.17 177.70,251.90 C181.20,257.63 183.70,264.32 187.20,269.10 C190.70,273.88 194.23,277.57 198.70,280.60 C203.17,283.63 208.90,286.03 214.00,287.30 C219.10,288.57 224.20,288.68 229.30,288.20 C234.40,287.72 239.82,286.63 244.60,284.40 C249.38,282.17 254.48,278.63 258.00,274.80 C261.52,270.97 263.78,266.82 265.70,261.40 C267.62,255.98 268.55,249.30 269.50,242.30 C270.45,235.30 271.08,228.00 271.40,219.40 C271.72,210.80 271.88,198.67 271.40,190.70 C270.92,182.73 269.30,178.05 268.50,171.60 C267.70,165.15 288.18,155.27 266.60,152.00 C245.02,148.73 160.27,144.28 139.00,152.00Z" fill="#fff" fill-opacity="0.8" filter="url(#k9)"/>
<path d="M139.00,152.00 C117.73,159.72 136.38,187.72 139.00,198.30 C141.62,208.88 150.17,209.43 154.70,215.50 C159.23,221.57 162.37,228.63 166.20,234.70 C170.03,240.77 174.20,246.17 177.70,251.90 C181.20,257.63 183.70,264.32 187.20,269.10 C190.70,273.88 194.23,277.57 198.70,280.60 C203.17,283.63 208.90,286.03 214.00,287.30 C219.10,288.57 224.20,288.68 229.30,288.20 C234.40,287.72 239.82,286.63 244.60,284.40 C249.38,282.17 254.48,278.63 258.00,274.80 C261.52,270.97 263.78,266.82 265.70,261.40 C267.62,255.98 268.55,249.30 269.50,242.30 C270.45,235.30 271.08,228.00 271.40,219.40 C271.72,210.80 271.88,198.67 271.40,190.70 C270.92,182.73 269.30,178.05 268.50,171.60 C267.70,165.15 288.18,155.27 266.60,152.00 C245.02,148.73 160.27,144.28 139.00,152.00Z" fill="#fff" fill-opacity="0.6" filter="url(#k10)"/>
<g fill="#a8a8a8"><circle cx="150.7" cy="198.2" r="1.42" fill-opacity="0.84"/><circle cx="261.4" cy="169.3" r="1.18" fill-opacity="0.66"/><circle cx="216.1" cy="207.1" r="0.96" fill-opacity="0.65"/><circle cx="244.2" cy="173.1" r="1.35" fill-opacity="0.61"/><circle cx="225.4" cy="170.4" r="0.95" fill-opacity="0.94"/><circle cx="173.6" cy="177.7" r="1.44" fill-opacity="0.94"/><circle cx="260.5" cy="184.5" r="1.13" fill-opacity="0.62"/><circle cx="165.5" cy="165.3" r="1.10" fill-opacity="0.82"/><circle cx="147.4" cy="215.6" r="1.12" fill-opacity="0.69"/><circle cx="187.1" cy="199.5" r="1.30" fill-opacity="0.58"/><circle cx="270.8" cy="161.9" r="1.32" fill-opacity="0.93"/><circle cx="149.3" cy="224.6" r="1.13" fill-opacity="0.81"/><circle cx="148.2" cy="163.8" r="1.04" fill-opacity="0.98"/><circle cx="172.0" cy="222.0" r="1.41" fill-opacity="0.97"/><circle cx="190.7" cy="189.1" r="1.21" fill-opacity="0.90"/><circle cx="160.7" cy="221.4" r="1.35" fill-opacity="0.94"/><circle cx="151.7" cy="237.6" r="1.00" fill-opacity="0.70"/><circle cx="216.2" cy="185.6" r="1.11" fill-opacity="0.63"/><circle cx="156.9" cy="172.2" r="1.29" fill-opacity="1.00"/><circle cx="167.5" cy="164.0" r="1.44" fill-opacity="0.79"/><circle cx="198.5" cy="179.5" r="1.25" fill-opacity="0.92"/><circle cx="204.9" cy="194.6" r="0.98" fill-opacity="0.96"/><circle cx="151.2" cy="200.5" r="1.37" fill-opacity="0.61"/><circle cx="160.5" cy="195.6" r="1.02" fill-opacity="0.93"/><circle cx="184.4" cy="197.2" r="1.45" fill-opacity="0.93"/><circle cx="207.8" cy="183.9" r="1.15" fill-opacity="0.62"/><circle cx="210.4" cy="187.8" r="0.99" fill-opacity="0.67"/><circle cx="182.7" cy="199.8" r="1.33" fill-opacity="0.86"/><circle cx="148.5" cy="204.9" r="1.08" fill-opacity="0.85"/><circle cx="191.2" cy="212.8" r="1.32" fill-opacity="0.92"/><circle cx="212.8" cy="203.4" r="1.03" fill-opacity="0.93"/><circle cx="239.8" cy="174.1" r="1.34" fill-opacity="0.81"/><circle cx="231.5" cy="194.5" r="1.26" fill-opacity="0.90"/><circle cx="150.5" cy="173.1" r="1.17" fill-opacity="0.84"/><circle cx="174.8" cy="216.2" r="1.27" fill-opacity="0.57"/><circle cx="206.9" cy="178.6" r="0.98" fill-opacity="0.61"/><circle cx="187.3" cy="174.9" r="1.05" fill-opacity="0.57"/><circle cx="206.1" cy="191.2" r="1.26" fill-opacity="0.82"/><circle cx="147.1" cy="193.2" r="1.09" fill-opacity="0.73"/><circle cx="161.6" cy="228.2" r="1.14" fill-opacity="0.57"/><circle cx="224.9" cy="167.8" r="1.22" fill-opacity="0.70"/><circle cx="251.0" cy="194.4" r="1.36" fill-opacity="0.84"/><circle cx="193.9" cy="171.7" r="1.25" fill-opacity="0.80"/><circle cx="224.3" cy="188.8" r="1.40" fill-opacity="0.55"/><circle cx="160.7" cy="206.4" r="1.26" fill-opacity="0.61"/><circle cx="194.7" cy="195.4" r="1.06" fill-opacity="0.68"/><circle cx="270.5" cy="191.1" r="1.43" fill-opacity="0.96"/><circle cx="222.7" cy="181.3" r="1.44" fill-opacity="0.77"/><circle cx="199.8" cy="186.2" r="1.44" fill-opacity="0.77"/><circle cx="183.4" cy="199.1" r="1.01" fill-opacity="0.83"/><circle cx="203.3" cy="184.0" r="1.34" fill-opacity="0.92"/><circle cx="148.7" cy="203.7" r="1.09" fill-opacity="0.97"/><circle cx="246.3" cy="180.1" r="1.08" fill-opacity="0.62"/><circle cx="272.6" cy="184.0" r="1.25" fill-opacity="0.76"/><circle cx="241.4" cy="169.7" r="1.33" fill-opacity="0.69"/><circle cx="214.8" cy="187.6" r="1.10" fill-opacity="0.79"/><circle cx="206.0" cy="189.6" r="1.32" fill-opacity="0.82"/><circle cx="151.6" cy="180.7" r="1.18" fill-opacity="0.96"/><circle cx="148.8" cy="223.8" r="1.16" fill-opacity="0.81"/><circle cx="196.0" cy="192.1" r="1.38" fill-opacity="0.64"/><circle cx="155.4" cy="228.6" r="1.30" fill-opacity="0.74"/><circle cx="262.7" cy="171.7" r="1.19" fill-opacity="0.80"/><circle cx="210.2" cy="187.1" r="1.03" fill-opacity="0.81"/><circle cx="250.1" cy="165.6" r="1.07" fill-opacity="0.92"/><circle cx="150.2" cy="219.3" r="1.44" fill-opacity="1.00"/><circle cx="236.1" cy="164.0" r="1.37" fill-opacity="0.65"/><circle cx="237.5" cy="171.0" r="1.10" fill-opacity="0.96"/><circle cx="166.0" cy="210.1" r="1.16" fill-opacity="0.62"/><circle cx="226.0" cy="163.6" r="1.00" fill-opacity="0.72"/><circle cx="156.1" cy="164.7" r="1.24" fill-opacity="0.88"/><circle cx="258.6" cy="171.0" r="1.17" fill-opacity="0.69"/><circle cx="223.2" cy="200.1" r="1.42" fill-opacity="0.72"/><circle cx="154.1" cy="217.2" r="1.03" fill-opacity="0.83"/><circle cx="180.4" cy="205.2" r="1.08" fill-opacity="0.89"/><circle cx="212.7" cy="171.0" r="1.07" fill-opacity="0.72"/><circle cx="240.6" cy="174.7" r="1.31" fill-opacity="0.84"/><circle cx="157.8" cy="214.8" r="1.00" fill-opacity="0.61"/><circle cx="222.4" cy="179.6" r="1.39" fill-opacity="0.77"/><circle cx="150.7" cy="219.5" r="0.98" fill-opacity="0.62"/><circle cx="175.3" cy="169.5" r="1.44" fill-opacity="0.85"/><circle cx="251.2" cy="171.5" r="1.26" fill-opacity="0.71"/><circle cx="176.8" cy="187.3" r="1.26" fill-opacity="0.71"/><circle cx="196.0" cy="171.2" r="1.37" fill-opacity="0.84"/><circle cx="249.2" cy="195.5" r="1.38" fill-opacity="0.78"/><circle cx="241.0" cy="192.4" r="1.00" fill-opacity="0.56"/><circle cx="172.7" cy="163.2" r="1.39" fill-opacity="0.77"/><circle cx="243.6" cy="160.0" r="1.19" fill-opacity="0.95"/><circle cx="225.7" cy="195.1" r="1.18" fill-opacity="0.59"/><circle cx="166.6" cy="173.0" r="1.14" fill-opacity="0.72"/><circle cx="258.8" cy="172.5" r="1.08" fill-opacity="0.67"/><circle cx="167.5" cy="183.5" r="1.07" fill-opacity="0.77"/><circle cx="151.1" cy="235.8" r="1.13" fill-opacity="0.97"/><circle cx="162.0" cy="214.8" r="1.10" fill-opacity="0.85"/><circle cx="239.6" cy="173.4" r="1.05" fill-opacity="0.56"/><circle cx="176.3" cy="166.4" r="1.15" fill-opacity="0.99"/><circle cx="193.3" cy="185.6" r="1.18" fill-opacity="0.68"/><circle cx="167.7" cy="179.7" r="1.29" fill-opacity="0.97"/><circle cx="229.0" cy="195.3" r="1.44" fill-opacity="0.55"/><circle cx="154.7" cy="223.9" r="1.16" fill-opacity="0.57"/><circle cx="212.9" cy="188.7" r="1.00" fill-opacity="0.58"/><circle cx="265.8" cy="164.4" r="1.07" fill-opacity="0.57"/><circle cx="197.5" cy="164.9" r="1.08" fill-opacity="0.73"/><circle cx="185.9" cy="164.2" r="0.97" fill-opacity="0.99"/><circle cx="169.8" cy="201.7" r="1.15" fill-opacity="0.79"/><circle cx="157.7" cy="185.7" r="1.00" fill-opacity="0.79"/><circle cx="255.8" cy="177.6" r="0.96" fill-opacity="0.79"/><circle cx="208.8" cy="206.9" r="1.14" fill-opacity="0.83"/><circle cx="186.1" cy="196.8" r="1.36" fill-opacity="0.65"/><circle cx="161.7" cy="185.6" r="0.99" fill-opacity="0.90"/><circle cx="251.1" cy="185.7" r="1.01" fill-opacity="0.59"/><circle cx="178.1" cy="166.9" r="1.16" fill-opacity="0.81"/><circle cx="178.2" cy="165.0" r="1.30" fill-opacity="0.57"/><circle cx="172.4" cy="183.5" r="1.14" fill-opacity="0.59"/><circle cx="200.4" cy="185.7" r="1.33" fill-opacity="0.80"/><circle cx="195.6" cy="170.7" r="0.98" fill-opacity="0.63"/><circle cx="180.3" cy="215.4" r="1.09" fill-opacity="0.58"/><circle cx="150.5" cy="164.2" r="1.02" fill-opacity="0.71"/><circle cx="224.7" cy="178.9" r="1.16" fill-opacity="0.71"/><circle cx="189.0" cy="161.0" r="1.24" fill-opacity="0.92"/><circle cx="239.3" cy="167.8" r="1.22" fill-opacity="0.63"/><circle cx="237.1" cy="196.6" r="1.42" fill-opacity="0.91"/><circle cx="162.0" cy="186.0" r="1.41" fill-opacity="0.76"/><circle cx="202.1" cy="196.2" r="1.33" fill-opacity="0.97"/><circle cx="222.7" cy="168.5" r="1.36" fill-opacity="0.74"/><circle cx="151.2" cy="207.3" r="1.19" fill-opacity="0.95"/><circle cx="196.9" cy="177.7" r="1.09" fill-opacity="0.64"/><circle cx="218.4" cy="189.3" r="1.33" fill-opacity="0.66"/><circle cx="191.7" cy="180.4" r="1.44" fill-opacity="0.93"/><circle cx="197.9" cy="171.7" r="1.37" fill-opacity="0.77"/><circle cx="151.8" cy="173.9" r="1.00" fill-opacity="0.87"/><circle cx="261.3" cy="176.3" r="1.35" fill-opacity="0.70"/><circle cx="194.8" cy="160.8" r="1.21" fill-opacity="0.81"/><circle cx="170.5" cy="191.9" r="1.11" fill-opacity="0.56"/><circle cx="186.6" cy="191.4" r="1.19" fill-opacity="0.87"/><circle cx="193.1" cy="208.7" r="1.29" fill-opacity="0.78"/><circle cx="183.1" cy="166.4" r="0.99" fill-opacity="0.71"/><circle cx="237.7" cy="185.2" r="1.41" fill-opacity="0.67"/><circle cx="237.9" cy="165.9" r="1.33" fill-opacity="0.85"/><circle cx="173.5" cy="202.4" r="1.40" fill-opacity="0.66"/><circle cx="197.0" cy="160.2" r="1.15" fill-opacity="0.63"/><circle cx="196.1" cy="168.9" r="1.29" fill-opacity="0.80"/><circle cx="237.8" cy="190.7" r="1.39" fill-opacity="0.65"/><circle cx="185.8" cy="181.9" r="1.26" fill-opacity="0.95"/><circle cx="168.3" cy="211.9" r="1.33" fill-opacity="0.65"/><circle cx="155.0" cy="206.4" r="1.37" fill-opacity="0.95"/><circle cx="239.5" cy="194.2" r="1.16" fill-opacity="0.79"/><circle cx="261.9" cy="184.8" r="1.09" fill-opacity="0.82"/><circle cx="269.8" cy="175.4" r="0.97" fill-opacity="0.60"/><circle cx="170.4" cy="175.6" r="1.25" fill-opacity="0.84"/><circle cx="154.8" cy="199.7" r="1.37" fill-opacity="0.98"/><circle cx="176.1" cy="217.1" r="1.37" fill-opacity="0.76"/><circle cx="159.8" cy="175.9" r="1.03" fill-opacity="0.59"/><circle cx="166.3" cy="210.5" r="1.00" fill-opacity="0.89"/><circle cx="160.1" cy="168.4" r="0.98" fill-opacity="0.64"/><circle cx="194.6" cy="197.6" r="1.29" fill-opacity="0.88"/><circle cx="157.6" cy="193.1" r="1.22" fill-opacity="0.72"/><circle cx="161.9" cy="209.0" r="1.14" fill-opacity="0.86"/><circle cx="267.0" cy="165.9" r="1.33" fill-opacity="0.87"/><circle cx="184.6" cy="169.6" r="1.19" fill-opacity="0.71"/><circle cx="195.5" cy="183.8" r="1.20" fill-opacity="0.86"/><circle cx="184.6" cy="187.6" r="1.37" fill-opacity="0.78"/><circle cx="153.4" cy="194.5" r="1.07" fill-opacity="0.85"/><circle cx="156.3" cy="182.2" r="1.00" fill-opacity="0.76"/><circle cx="158.7" cy="189.2" r="1.36" fill-opacity="0.55"/><circle cx="244.3" cy="189.6" r="0.96" fill-opacity="0.66"/><circle cx="205.2" cy="191.4" r="1.21" fill-opacity="0.57"/><circle cx="203.2" cy="198.7" r="0.99" fill-opacity="0.68"/><circle cx="211.5" cy="164.3" r="1.15" fill-opacity="0.90"/><circle cx="202.2" cy="208.7" r="1.40" fill-opacity="0.84"/><circle cx="227.8" cy="163.0" r="0.96" fill-opacity="0.90"/><circle cx="165.8" cy="224.0" r="1.16" fill-opacity="0.99"/><circle cx="273.3" cy="177.8" r="1.16" fill-opacity="0.67"/><circle cx="206.7" cy="183.5" r="1.28" fill-opacity="0.61"/><circle cx="168.5" cy="197.5" r="0.99" fill-opacity="0.72"/><circle cx="172.0" cy="161.5" r="1.36" fill-opacity="0.98"/><circle cx="223.1" cy="171.2" r="1.07" fill-opacity="0.96"/><circle cx="266.1" cy="162.6" r="1.04" fill-opacity="0.74"/><circle cx="180.9" cy="221.8" r="1.14" fill-opacity="0.90"/><circle cx="166.3" cy="202.5" r="1.44" fill-opacity="0.87"/><circle cx="158.4" cy="169.1" r="1.27" fill-opacity="0.72"/><circle cx="193.8" cy="199.2" r="1.24" fill-opacity="0.98"/><circle cx="177.6" cy="206.6" r="1.08" fill-opacity="0.80"/><circle cx="239.9" cy="171.0" r="1.19" fill-opacity="0.87"/><circle cx="148.0" cy="223.2" r="1.16" fill-opacity="0.78"/><circle cx="154.1" cy="201.0" r="0.97" fill-opacity="0.72"/><circle cx="190.9" cy="161.8" r="1.10" fill-opacity="0.75"/><circle cx="194.0" cy="203.5" r="1.31" fill-opacity="0.97"/><circle cx="185.3" cy="173.7" r="1.42" fill-opacity="0.58"/><circle cx="214.2" cy="191.9" r="1.41" fill-opacity="0.68"/><circle cx="164.5" cy="188.8" r="1.20" fill-opacity="0.80"/><circle cx="173.3" cy="197.2" r="0.98" fill-opacity="0.59"/><circle cx="190.4" cy="171.8" r="1.43" fill-opacity="0.67"/><circle cx="241.1" cy="181.5" r="1.36" fill-opacity="0.83"/><circle cx="196.4" cy="211.6" r="1.07" fill-opacity="0.67"/><circle cx="258.3" cy="196.0" r="1.40" fill-opacity="0.63"/><circle cx="164.4" cy="164.3" r="1.32" fill-opacity="0.80"/><circle cx="148.2" cy="163.6" r="1.36" fill-opacity="0.77"/><circle cx="257.7" cy="163.3" r="1.24" fill-opacity="0.60"/><circle cx="224.7" cy="178.2" r="1.42" fill-opacity="0.60"/><circle cx="155.1" cy="216.1" r="1.00" fill-opacity="0.58"/><circle cx="155.8" cy="212.7" r="1.37" fill-opacity="0.60"/><circle cx="242.8" cy="181.2" r="1.10" fill-opacity="0.55"/><circle cx="166.7" cy="177.7" r="1.08" fill-opacity="0.98"/><circle cx="173.1" cy="167.2" r="1.13" fill-opacity="0.59"/><circle cx="201.0" cy="211.0" r="1.28" fill-opacity="0.63"/><circle cx="164.6" cy="200.3" r="1.29" fill-opacity="0.75"/><circle cx="165.4" cy="182.0" r="1.20" fill-opacity="0.79"/><circle cx="231.1" cy="194.4" r="1.34" fill-opacity="0.93"/><circle cx="184.3" cy="168.8" r="1.08" fill-opacity="0.71"/><circle cx="260.0" cy="181.7" r="1.26" fill-opacity="0.84"/><circle cx="268.4" cy="169.6" r="1.33" fill-opacity="0.70"/><circle cx="160.1" cy="211.8" r="1.37" fill-opacity="0.81"/><circle cx="195.8" cy="212.2" r="1.31" fill-opacity="0.67"/><circle cx="198.9" cy="187.0" r="1.00" fill-opacity="0.58"/><circle cx="238.0" cy="193.7" r="1.38" fill-opacity="0.58"/><circle cx="185.3" cy="174.8" r="1.42" fill-opacity="0.91"/><circle cx="160.2" cy="194.1" r="1.06" fill-opacity="0.56"/><circle cx="218.8" cy="183.8" r="1.00" fill-opacity="0.78"/><circle cx="206.2" cy="168.4" r="1.33" fill-opacity="0.60"/><circle cx="215.2" cy="166.9" r="1.44" fill-opacity="0.79"/><circle cx="202.6" cy="182.3" r="1.23" fill-opacity="0.99"/><circle cx="201.3" cy="177.2" r="1.21" fill-opacity="0.96"/><circle cx="195.5" cy="212.0" r="1.41" fill-opacity="0.70"/><circle cx="164.7" cy="164.4" r="1.42" fill-opacity="0.76"/><circle cx="219.9" cy="201.0" r="1.09" fill-opacity="0.88"/><circle cx="179.5" cy="198.6" r="1.33" fill-opacity="0.82"/><circle cx="164.0" cy="176.6" r="1.30" fill-opacity="0.88"/><circle cx="163.9" cy="173.8" r="0.99" fill-opacity="0.75"/><circle cx="167.7" cy="217.3" r="1.00" fill-opacity="0.81"/><circle cx="179.0" cy="189.2" r="0.98" fill-opacity="0.87"/><circle cx="162.5" cy="222.7" r="1.12" fill-opacity="0.82"/><circle cx="228.2" cy="200.1" r="1.39" fill-opacity="0.96"/><circle cx="182.8" cy="187.4" r="1.39" fill-opacity="0.61"/><circle cx="200.3" cy="194.0" r="1.44" fill-opacity="0.61"/><circle cx="239.5" cy="160.1" r="1.42" fill-opacity="0.69"/><circle cx="232.8" cy="187.9" r="1.32" fill-opacity="0.78"/><circle cx="248.1" cy="173.1" r="1.20" fill-opacity="0.55"/><circle cx="253.3" cy="163.5" r="1.22" fill-opacity="0.77"/><circle cx="162.2" cy="176.6" r="1.44" fill-opacity="0.93"/><circle cx="229.7" cy="191.6" r="1.27" fill-opacity="0.65"/><circle cx="181.8" cy="160.8" r="1.28" fill-opacity="0.81"/><circle cx="202.2" cy="185.1" r="1.32" fill-opacity="0.72"/><circle cx="154.8" cy="181.4" r="1.37" fill-opacity="0.62"/><circle cx="154.2" cy="161.2" r="1.33" fill-opacity="0.60"/><circle cx="205.2" cy="196.0" r="1.35" fill-opacity="0.76"/><circle cx="213.3" cy="162.0" r="1.35" fill-opacity="0.90"/><circle cx="149.6" cy="232.5" r="1.44" fill-opacity="0.64"/><circle cx="155.4" cy="187.9" r="1.00" fill-opacity="0.72"/><circle cx="158.3" cy="178.1" r="0.95" fill-opacity="0.74"/><circle cx="185.1" cy="219.8" r="1.14" fill-opacity="0.62"/><circle cx="234.5" cy="177.8" r="1.15" fill-opacity="0.75"/><circle cx="198.9" cy="162.2" r="1.18" fill-opacity="0.90"/><circle cx="247.7" cy="194.1" r="1.28" fill-opacity="0.85"/><circle cx="203.3" cy="175.6" r="1.11" fill-opacity="0.66"/><circle cx="171.4" cy="203.7" r="1.37" fill-opacity="0.71"/><circle cx="159.0" cy="209.7" r="1.13" fill-opacity="0.61"/><circle cx="183.6" cy="160.6" r="1.02" fill-opacity="0.74"/><circle cx="160.3" cy="160.5" r="1.22" fill-opacity="0.98"/><circle cx="252.9" cy="186.7" r="1.41" fill-opacity="0.59"/><circle cx="166.1" cy="160.6" r="0.98" fill-opacity="0.82"/><circle cx="243.1" cy="199.2" r="1.35" fill-opacity="0.75"/><circle cx="215.2" cy="174.0" r="1.16" fill-opacity="0.75"/><circle cx="251.5" cy="178.8" r="1.10" fill-opacity="0.92"/><circle cx="156.0" cy="204.0" r="1.06" fill-opacity="0.85"/><circle cx="222.5" cy="167.7" r="1.32" fill-opacity="0.73"/><circle cx="245.9" cy="185.4" r="1.29" fill-opacity="0.61"/><circle cx="212.9" cy="166.8" r="1.27" fill-opacity="0.96"/><circle cx="227.8" cy="163.3" r="1.21" fill-opacity="0.76"/><circle cx="203.3" cy="172.4" r="1.09" fill-opacity="0.75"/><circle cx="156.0" cy="215.3" r="1.07" fill-opacity="0.68"/><circle cx="158.5" cy="184.8" r="1.42" fill-opacity="0.68"/><circle cx="159.2" cy="188.4" r="1.42" fill-opacity="0.59"/><circle cx="190.5" cy="177.1" r="1.29" fill-opacity="0.76"/><circle cx="159.5" cy="230.7" r="1.11" fill-opacity="0.86"/><circle cx="154.4" cy="178.7" r="1.09" fill-opacity="0.67"/><circle cx="191.0" cy="201.6" r="1.37" fill-opacity="0.81"/><circle cx="225.1" cy="193.2" r="1.16" fill-opacity="0.61"/><circle cx="185.9" cy="189.9" r="1.25" fill-opacity="0.82"/><circle cx="169.3" cy="196.6" r="1.32" fill-opacity="0.57"/><circle cx="160.8" cy="221.9" r="1.40" fill-opacity="0.58"/><circle cx="157.3" cy="211.4" r="1.09" fill-opacity="0.85"/><circle cx="151.3" cy="197.4" r="1.03" fill-opacity="0.70"/><circle cx="235.1" cy="201.8" r="1.38" fill-opacity="0.93"/><circle cx="169.5" cy="198.9" r="1.11" fill-opacity="0.83"/><circle cx="273.6" cy="170.7" r="1.32" fill-opacity="0.88"/><circle cx="205.1" cy="182.8" r="1.04" fill-opacity="0.74"/><circle cx="265.3" cy="193.0" r="1.08" fill-opacity="0.83"/><circle cx="202.5" cy="210.3" r="1.18" fill-opacity="0.68"/><circle cx="151.5" cy="227.1" r="1.28" fill-opacity="0.66"/><circle cx="210.4" cy="207.6" r="1.20" fill-opacity="0.96"/><circle cx="245.9" cy="185.1" r="1.12" fill-opacity="0.83"/><circle cx="152.8" cy="201.0" r="1.09" fill-opacity="0.79"/><circle cx="152.8" cy="178.4" r="1.44" fill-opacity="0.90"/><circle cx="175.1" cy="197.4" r="0.97" fill-opacity="0.60"/><circle cx="186.6" cy="180.3" r="0.98" fill-opacity="0.60"/><circle cx="246.4" cy="180.9" r="1.03" fill-opacity="0.67"/><circle cx="155.3" cy="174.4" r="1.31" fill-opacity="0.77"/><circle cx="148.3" cy="185.0" r="1.37" fill-opacity="0.93"/><circle cx="195.7" cy="207.0" r="1.09" fill-opacity="0.57"/><circle cx="180.0" cy="197.5" r="1.01" fill-opacity="0.59"/></g>
<g fill="#a0a0a0"><circle cx="247.8" cy="273.3" r="1.09" fill-opacity="0.67"/><circle cx="147.1" cy="256.6" r="1.09" fill-opacity="0.89"/><circle cx="194.4" cy="267.9" r="1.01" fill-opacity="0.91"/><circle cx="239.7" cy="230.5" r="1.12" fill-opacity="0.86"/><circle cx="171.5" cy="245.1" r="1.22" fill-opacity="0.67"/><circle cx="249.0" cy="259.0" r="1.24" fill-opacity="0.70"/><circle cx="158.8" cy="271.0" r="1.22" fill-opacity="0.75"/><circle cx="227.6" cy="217.6" r="1.28" fill-opacity="0.81"/><circle cx="172.5" cy="255.8" r="1.04" fill-opacity="0.97"/><circle cx="262.5" cy="241.0" r="1.16" fill-opacity="0.86"/><circle cx="249.3" cy="289.5" r="0.91" fill-opacity="0.71"/><circle cx="223.4" cy="219.0" r="1.14" fill-opacity="0.59"/><circle cx="258.8" cy="242.2" r="0.95" fill-opacity="0.85"/><circle cx="173.7" cy="277.9" r="1.18" fill-opacity="0.56"/><circle cx="189.3" cy="282.0" r="1.15" fill-opacity="0.69"/><circle cx="194.9" cy="227.9" r="0.95" fill-opacity="1.00"/><circle cx="241.8" cy="228.8" r="1.29" fill-opacity="0.66"/><circle cx="271.4" cy="280.7" r="1.17" fill-opacity="0.95"/><circle cx="203.8" cy="274.3" r="1.22" fill-opacity="0.78"/><circle cx="206.8" cy="261.1" r="1.06" fill-opacity="0.59"/><circle cx="241.8" cy="214.9" r="1.10" fill-opacity="0.90"/><circle cx="162.7" cy="248.9" r="1.04" fill-opacity="0.67"/><circle cx="204.3" cy="284.4" r="1.00" fill-opacity="0.73"/><circle cx="258.7" cy="251.3" r="1.01" fill-opacity="0.76"/><circle cx="194.9" cy="219.1" r="1.22" fill-opacity="0.70"/><circle cx="230.7" cy="288.9" r="1.27" fill-opacity="0.72"/><circle cx="223.6" cy="220.6" r="1.06" fill-opacity="0.77"/><circle cx="247.8" cy="285.3" r="1.02" fill-opacity="0.55"/><circle cx="150.8" cy="268.2" r="0.94" fill-opacity="0.87"/><circle cx="193.0" cy="285.5" r="1.24" fill-opacity="0.58"/><circle cx="171.5" cy="286.5" r="1.15" fill-opacity="0.74"/><circle cx="246.4" cy="272.4" r="1.10" fill-opacity="0.76"/><circle cx="165.4" cy="252.7" r="1.14" fill-opacity="0.61"/><circle cx="160.4" cy="254.8" r="1.09" fill-opacity="0.95"/><circle cx="226.9" cy="260.6" r="0.95" fill-opacity="0.92"/><circle cx="157.6" cy="251.9" r="1.26" fill-opacity="0.96"/><circle cx="260.4" cy="234.5" r="1.18" fill-opacity="0.91"/><circle cx="164.4" cy="286.1" r="1.26" fill-opacity="0.75"/><circle cx="245.9" cy="233.9" r="1.01" fill-opacity="0.87"/><circle cx="155.1" cy="271.0" r="1.29" fill-opacity="0.68"/><circle cx="266.3" cy="195.8" r="1.24" fill-opacity="0.68"/><circle cx="269.7" cy="232.2" r="1.27" fill-opacity="0.56"/><circle cx="157.9" cy="272.7" r="1.16" fill-opacity="0.79"/><circle cx="273.1" cy="267.3" r="1.28" fill-opacity="0.87"/><circle cx="239.9" cy="199.0" r="1.12" fill-opacity="0.76"/><circle cx="156.4" cy="241.6" r="0.91" fill-opacity="0.79"/><circle cx="166.2" cy="246.7" r="1.06" fill-opacity="0.65"/><circle cx="175.1" cy="246.2" r="1.26" fill-opacity="0.74"/><circle cx="177.5" cy="247.1" r="1.21" fill-opacity="0.81"/><circle cx="195.4" cy="233.3" r="1.06" fill-opacity="1.00"/><circle cx="217.0" cy="256.5" r="1.19" fill-opacity="0.84"/><circle cx="249.3" cy="226.1" r="1.17" fill-opacity="0.99"/><circle cx="167.8" cy="252.7" r="1.05" fill-opacity="0.58"/><circle cx="152.1" cy="266.7" r="0.95" fill-opacity="0.87"/><circle cx="151.1" cy="244.0" r="1.21" fill-opacity="0.65"/><circle cx="218.8" cy="283.8" r="1.02" fill-opacity="0.76"/><circle cx="239.0" cy="277.7" r="0.97" fill-opacity="0.85"/><circle cx="271.9" cy="192.3" r="1.27" fill-opacity="0.89"/><circle cx="232.8" cy="263.6" r="1.16" fill-opacity="0.68"/><circle cx="256.1" cy="268.8" r="1.22" fill-opacity="0.65"/><circle cx="222.2" cy="213.8" r="1.22" fill-opacity="0.89"/><circle cx="273.4" cy="261.4" r="1.17" fill-opacity="0.90"/><circle cx="158.9" cy="249.5" r="0.91" fill-opacity="0.72"/><circle cx="161.9" cy="286.6" r="0.91" fill-opacity="0.96"/><circle cx="267.4" cy="232.7" r="1.23" fill-opacity="0.57"/><circle cx="252.2" cy="196.2" r="1.14" fill-opacity="0.67"/><circle cx="163.8" cy="231.0" r="0.97" fill-opacity="0.99"/><circle cx="195.8" cy="249.4" r="1.13" fill-opacity="0.83"/><circle cx="208.0" cy="215.4" r="0.95" fill-opacity="0.95"/><circle cx="171.5" cy="234.1" r="1.22" fill-opacity="0.81"/><circle cx="267.4" cy="272.0" r="1.11" fill-opacity="0.60"/><circle cx="222.3" cy="236.7" r="1.24" fill-opacity="0.79"/><circle cx="235.2" cy="272.2" r="1.09" fill-opacity="0.93"/><circle cx="261.2" cy="203.2" r="1.27" fill-opacity="0.94"/><circle cx="255.6" cy="222.5" r="1.00" fill-opacity="0.61"/><circle cx="194.1" cy="276.8" r="1.05" fill-opacity="0.55"/><circle cx="226.1" cy="267.7" r="1.27" fill-opacity="0.59"/><circle cx="262.6" cy="274.9" r="1.11" fill-opacity="0.98"/><circle cx="213.1" cy="268.5" r="1.10" fill-opacity="0.71"/><circle cx="273.3" cy="275.4" r="1.14" fill-opacity="0.94"/><circle cx="229.5" cy="270.8" r="0.93" fill-opacity="0.61"/><circle cx="160.9" cy="250.3" r="1.19" fill-opacity="0.62"/><circle cx="234.3" cy="268.8" r="0.93" fill-opacity="0.99"/><circle cx="231.4" cy="200.1" r="1.04" fill-opacity="0.62"/><circle cx="239.5" cy="283.3" r="0.97" fill-opacity="0.63"/><circle cx="226.9" cy="277.2" r="1.20" fill-opacity="0.76"/><circle cx="161.0" cy="251.5" r="1.08" fill-opacity="0.91"/><circle cx="219.6" cy="264.1" r="1.29" fill-opacity="0.83"/><circle cx="262.8" cy="215.8" r="0.90" fill-opacity="0.95"/><circle cx="150.8" cy="291.3" r="1.08" fill-opacity="0.58"/><circle cx="181.9" cy="262.7" r="1.05" fill-opacity="0.83"/><circle cx="159.9" cy="274.7" r="1.05" fill-opacity="0.92"/><circle cx="165.7" cy="257.1" r="1.09" fill-opacity="0.73"/><circle cx="149.5" cy="242.8" r="1.24" fill-opacity="0.60"/><circle cx="273.3" cy="288.8" r="1.17" fill-opacity="0.77"/><circle cx="236.5" cy="270.4" r="1.30" fill-opacity="0.94"/><circle cx="202.6" cy="213.8" r="1.12" fill-opacity="0.71"/><circle cx="216.2" cy="279.8" r="1.08" fill-opacity="0.99"/><circle cx="241.9" cy="256.5" r="1.15" fill-opacity="0.55"/><circle cx="258.6" cy="239.0" r="1.11" fill-opacity="0.63"/><circle cx="239.4" cy="260.8" r="1.25" fill-opacity="0.65"/><circle cx="239.5" cy="249.4" r="0.94" fill-opacity="0.94"/><circle cx="170.3" cy="284.1" r="0.99" fill-opacity="0.72"/><circle cx="216.5" cy="224.7" r="1.16" fill-opacity="0.59"/><circle cx="201.6" cy="248.4" r="1.15" fill-opacity="0.82"/><circle cx="181.2" cy="254.0" r="1.29" fill-opacity="0.77"/><circle cx="228.8" cy="274.9" r="1.00" fill-opacity="0.67"/><circle cx="270.2" cy="218.6" r="1.07" fill-opacity="0.72"/><circle cx="273.1" cy="244.2" r="1.26" fill-opacity="0.62"/><circle cx="182.3" cy="255.2" r="1.03" fill-opacity="0.85"/><circle cx="161.2" cy="233.1" r="1.11" fill-opacity="0.63"/><circle cx="180.8" cy="219.5" r="1.06" fill-opacity="0.82"/><circle cx="255.3" cy="262.3" r="1.20" fill-opacity="0.68"/><circle cx="209.9" cy="263.3" r="1.26" fill-opacity="0.66"/><circle cx="212.5" cy="278.6" r="0.96" fill-opacity="0.90"/><circle cx="228.4" cy="277.7" r="1.26" fill-opacity="0.60"/><circle cx="247.8" cy="201.2" r="0.95" fill-opacity="0.73"/><circle cx="188.6" cy="231.1" r="1.18" fill-opacity="0.83"/><circle cx="209.0" cy="220.9" r="1.15" fill-opacity="0.64"/><circle cx="232.0" cy="201.6" r="0.99" fill-opacity="0.71"/><circle cx="218.6" cy="255.0" r="1.14" fill-opacity="0.82"/><circle cx="171.5" cy="282.8" r="1.19" fill-opacity="0.73"/><circle cx="197.4" cy="247.6" r="0.95" fill-opacity="0.84"/><circle cx="261.7" cy="225.2" r="1.10" fill-opacity="0.66"/><circle cx="262.5" cy="226.6" r="1.04" fill-opacity="0.87"/><circle cx="194.3" cy="282.0" r="1.06" fill-opacity="0.82"/><circle cx="185.7" cy="248.9" r="1.09" fill-opacity="0.60"/><circle cx="259.9" cy="203.8" r="1.13" fill-opacity="0.85"/><circle cx="206.5" cy="221.4" r="1.08" fill-opacity="1.00"/><circle cx="148.5" cy="279.9" r="1.14" fill-opacity="0.77"/><circle cx="228.0" cy="254.2" r="1.23" fill-opacity="0.99"/><circle cx="212.4" cy="223.9" r="1.04" fill-opacity="0.96"/><circle cx="191.0" cy="255.3" r="1.15" fill-opacity="0.79"/><circle cx="252.4" cy="250.9" r="1.29" fill-opacity="0.92"/><circle cx="180.6" cy="269.1" r="1.04" fill-opacity="0.98"/><circle cx="225.6" cy="230.9" r="0.97" fill-opacity="0.93"/><circle cx="228.9" cy="246.0" r="1.09" fill-opacity="0.97"/><circle cx="206.7" cy="208.6" r="1.30" fill-opacity="0.60"/><circle cx="271.0" cy="230.9" r="1.04" fill-opacity="0.72"/><circle cx="194.0" cy="266.3" r="1.16" fill-opacity="0.68"/><circle cx="171.2" cy="272.7" r="1.12" fill-opacity="0.78"/><circle cx="172.5" cy="289.5" r="1.11" fill-opacity="0.96"/><circle cx="232.6" cy="254.1" r="0.91" fill-opacity="0.96"/><circle cx="255.5" cy="195.0" r="0.93" fill-opacity="0.85"/><circle cx="231.8" cy="207.3" r="1.30" fill-opacity="0.59"/><circle cx="219.3" cy="237.6" r="1.03" fill-opacity="0.85"/><circle cx="203.0" cy="267.6" r="1.21" fill-opacity="0.55"/><circle cx="188.4" cy="244.0" r="1.02" fill-opacity="0.82"/><circle cx="212.0" cy="209.6" r="0.98" fill-opacity="0.74"/><circle cx="222.5" cy="255.7" r="1.14" fill-opacity="0.77"/><circle cx="202.0" cy="278.3" r="1.25" fill-opacity="0.95"/><circle cx="266.8" cy="257.5" r="0.98" fill-opacity="0.87"/><circle cx="182.9" cy="218.6" r="1.06" fill-opacity="0.56"/><circle cx="176.6" cy="232.3" r="1.20" fill-opacity="0.84"/><circle cx="187.0" cy="262.9" r="1.06" fill-opacity="0.71"/><circle cx="198.9" cy="217.0" r="0.96" fill-opacity="0.99"/><circle cx="222.7" cy="255.9" r="1.14" fill-opacity="0.78"/><circle cx="155.3" cy="243.1" r="1.09" fill-opacity="0.56"/><circle cx="269.9" cy="274.9" r="0.92" fill-opacity="0.72"/><circle cx="183.8" cy="290.9" r="1.27" fill-opacity="0.67"/><circle cx="246.1" cy="200.6" r="1.15" fill-opacity="0.59"/><circle cx="228.5" cy="249.8" r="1.30" fill-opacity="0.81"/><circle cx="262.8" cy="212.5" r="1.15" fill-opacity="0.64"/><circle cx="155.8" cy="290.2" r="0.91" fill-opacity="0.71"/><circle cx="255.8" cy="266.2" r="1.05" fill-opacity="0.80"/><circle cx="252.4" cy="193.2" r="1.16" fill-opacity="0.93"/><circle cx="223.9" cy="242.0" r="1.00" fill-opacity="0.63"/><circle cx="169.4" cy="224.5" r="1.01" fill-opacity="0.90"/><circle cx="248.4" cy="234.5" r="0.95" fill-opacity="0.92"/><circle cx="198.5" cy="241.4" r="1.00" fill-opacity="0.97"/><circle cx="220.8" cy="221.3" r="1.16" fill-opacity="0.72"/><circle cx="218.2" cy="249.7" r="1.00" fill-opacity="0.94"/><circle cx="158.9" cy="285.0" r="1.07" fill-opacity="0.78"/><circle cx="160.6" cy="240.7" r="1.03" fill-opacity="0.83"/><circle cx="156.2" cy="281.1" r="0.98" fill-opacity="0.86"/><circle cx="239.8" cy="269.1" r="0.90" fill-opacity="0.84"/><circle cx="147.9" cy="279.9" r="1.18" fill-opacity="0.87"/><circle cx="244.6" cy="251.1" r="0.98" fill-opacity="0.62"/><circle cx="148.9" cy="256.2" r="1.17" fill-opacity="1.00"/><circle cx="195.1" cy="285.8" r="0.99" fill-opacity="0.95"/><circle cx="228.0" cy="267.7" r="0.95" fill-opacity="0.91"/><circle cx="197.8" cy="264.9" r="0.92" fill-opacity="0.68"/><circle cx="218.9" cy="215.6" r="1.12" fill-opacity="0.60"/><circle cx="179.6" cy="253.6" r="1.03" fill-opacity="0.99"/><circle cx="193.5" cy="219.0" r="1.06" fill-opacity="0.84"/><circle cx="187.1" cy="289.8" r="0.98" fill-opacity="0.81"/><circle cx="257.7" cy="215.3" r="0.99" fill-opacity="0.78"/><circle cx="254.8" cy="276.2" r="1.24" fill-opacity="0.87"/><circle cx="156.9" cy="283.5" r="0.96" fill-opacity="0.56"/><circle cx="271.8" cy="215.9" r="1.24" fill-opacity="0.97"/><circle cx="174.5" cy="254.1" r="1.18" fill-opacity="0.70"/><circle cx="246.1" cy="194.5" r="0.91" fill-opacity="0.71"/><circle cx="230.7" cy="275.8" r="1.28" fill-opacity="0.96"/><circle cx="270.2" cy="251.3" r="1.07" fill-opacity="0.57"/><circle cx="219.3" cy="283.2" r="1.21" fill-opacity="0.76"/><circle cx="228.5" cy="267.9" r="1.30" fill-opacity="0.87"/><circle cx="222.0" cy="287.7" r="1.29" fill-opacity="0.55"/><circle cx="269.5" cy="217.7" r="0.90" fill-opacity="0.68"/><circle cx="249.1" cy="226.1" r="0.95" fill-opacity="0.88"/><circle cx="172.5" cy="223.4" r="1.06" fill-opacity="0.70"/><circle cx="240.2" cy="207.2" r="1.22" fill-opacity="0.76"/><circle cx="201.6" cy="221.7" r="1.27" fill-opacity="0.66"/><circle cx="199.8" cy="214.4" r="0.95" fill-opacity="0.56"/><circle cx="233.5" cy="272.5" r="1.03" fill-opacity="0.75"/><circle cx="250.7" cy="192.7" r="1.01" fill-opacity="0.88"/><circle cx="214.3" cy="215.7" r="0.96" fill-opacity="0.57"/><circle cx="271.9" cy="272.1" r="1.00" fill-opacity="0.60"/><circle cx="213.1" cy="243.5" r="1.27" fill-opacity="0.72"/><circle cx="163.7" cy="275.9" r="0.96" fill-opacity="0.66"/><circle cx="174.9" cy="278.4" r="1.29" fill-opacity="0.72"/><circle cx="227.1" cy="260.9" r="1.08" fill-opacity="0.91"/><circle cx="187.0" cy="264.1" r="0.97" fill-opacity="0.61"/><circle cx="269.3" cy="212.8" r="1.16" fill-opacity="0.56"/><circle cx="257.4" cy="265.3" r="1.17" fill-opacity="0.99"/><circle cx="151.1" cy="267.0" r="0.95" fill-opacity="0.97"/><circle cx="216.9" cy="236.5" r="1.22" fill-opacity="0.58"/><circle cx="268.1" cy="269.6" r="0.91" fill-opacity="0.57"/><circle cx="213.4" cy="238.8" r="1.00" fill-opacity="0.99"/><circle cx="222.4" cy="240.7" r="1.23" fill-opacity="0.83"/><circle cx="257.9" cy="274.1" r="1.04" fill-opacity="0.94"/><circle cx="189.2" cy="259.0" r="1.18" fill-opacity="0.87"/><circle cx="245.1" cy="263.3" r="1.26" fill-opacity="0.67"/><circle cx="262.1" cy="280.4" r="1.22" fill-opacity="0.65"/><circle cx="223.5" cy="277.3" r="1.24" fill-opacity="0.65"/><circle cx="152.2" cy="244.6" r="0.93" fill-opacity="0.79"/><circle cx="258.5" cy="252.2" r="0.93" fill-opacity="0.79"/><circle cx="184.1" cy="234.3" r="1.20" fill-opacity="0.95"/><circle cx="263.6" cy="201.5" r="1.23" fill-opacity="0.84"/><circle cx="220.9" cy="253.5" r="1.06" fill-opacity="0.93"/><circle cx="268.8" cy="216.4" r="1.00" fill-opacity="0.74"/><circle cx="194.2" cy="244.9" r="1.28" fill-opacity="0.70"/><circle cx="265.3" cy="215.9" r="1.05" fill-opacity="0.89"/><circle cx="233.2" cy="281.9" r="1.15" fill-opacity="0.68"/><circle cx="249.4" cy="213.4" r="0.91" fill-opacity="0.70"/><circle cx="269.9" cy="188.4" r="1.24" fill-opacity="0.86"/><circle cx="231.2" cy="251.3" r="0.98" fill-opacity="0.77"/><circle cx="273.7" cy="274.6" r="1.07" fill-opacity="0.75"/><circle cx="200.8" cy="225.2" r="1.05" fill-opacity="0.64"/><circle cx="264.0" cy="189.8" r="0.96" fill-opacity="0.82"/><circle cx="254.7" cy="258.9" r="0.96" fill-opacity="0.77"/><circle cx="272.1" cy="278.3" r="0.99" fill-opacity="0.99"/><circle cx="273.5" cy="203.1" r="1.24" fill-opacity="0.64"/><circle cx="271.2" cy="262.8" r="0.97" fill-opacity="0.93"/><circle cx="185.5" cy="269.7" r="1.12" fill-opacity="0.85"/><circle cx="210.2" cy="254.3" r="1.14" fill-opacity="0.97"/><circle cx="209.9" cy="275.9" r="1.11" fill-opacity="0.59"/><circle cx="224.8" cy="278.8" r="1.07" fill-opacity="0.74"/><circle cx="226.5" cy="214.1" r="0.99" fill-opacity="0.78"/><circle cx="160.4" cy="235.6" r="1.08" fill-opacity="0.76"/><circle cx="204.3" cy="245.6" r="1.21" fill-opacity="0.95"/><circle cx="201.9" cy="258.1" r="1.01" fill-opacity="0.64"/><circle cx="208.1" cy="216.9" r="1.02" fill-opacity="0.85"/><circle cx="216.9" cy="204.9" r="1.14" fill-opacity="1.00"/><circle cx="178.5" cy="262.7" r="1.03" fill-opacity="0.87"/><circle cx="264.2" cy="289.9" r="1.24" fill-opacity="0.68"/><circle cx="254.7" cy="199.5" r="1.23" fill-opacity="0.85"/><circle cx="270.6" cy="227.8" r="1.26" fill-opacity="0.77"/><circle cx="157.7" cy="284.4" r="0.96" fill-opacity="0.84"/><circle cx="234.2" cy="257.4" r="1.16" fill-opacity="0.98"/><circle cx="218.8" cy="286.4" r="1.22" fill-opacity="0.75"/><circle cx="215.3" cy="266.0" r="1.22" fill-opacity="0.57"/><circle cx="182.7" cy="228.2" r="0.91" fill-opacity="0.84"/><circle cx="224.9" cy="216.0" r="1.14" fill-opacity="0.99"/><circle cx="204.9" cy="258.0" r="0.97" fill-opacity="0.84"/><circle cx="218.6" cy="211.4" r="0.95" fill-opacity="0.74"/><circle cx="246.4" cy="228.2" r="1.13" fill-opacity="0.80"/><circle cx="273.5" cy="252.2" r="0.93" fill-opacity="0.82"/><circle cx="212.5" cy="211.3" r="1.18" fill-opacity="0.96"/><circle cx="271.0" cy="243.6" r="1.25" fill-opacity="0.96"/><circle cx="185.1" cy="239.4" r="0.98" fill-opacity="0.90"/><circle cx="262.5" cy="261.8" r="1.04" fill-opacity="0.90"/><circle cx="201.7" cy="213.2" r="1.28" fill-opacity="0.56"/><circle cx="253.1" cy="231.6" r="0.91" fill-opacity="0.93"/><circle cx="230.6" cy="237.0" r="1.08" fill-opacity="0.70"/><circle cx="168.6" cy="280.1" r="0.94" fill-opacity="0.58"/><circle cx="206.5" cy="259.6" r="1.04" fill-opacity="0.97"/><circle cx="256.5" cy="246.4" r="1.25" fill-opacity="0.97"/><circle cx="266.7" cy="222.5" r="1.28" fill-opacity="0.89"/><circle cx="230.0" cy="256.8" r="1.18" fill-opacity="0.93"/><circle cx="243.5" cy="203.2" r="0.90" fill-opacity="0.69"/><circle cx="180.8" cy="273.3" r="1.21" fill-opacity="0.55"/><circle cx="195.0" cy="251.4" r="1.02" fill-opacity="0.98"/><circle cx="252.3" cy="194.4" r="1.02" fill-opacity="0.97"/><circle cx="271.7" cy="202.1" r="0.99" fill-opacity="0.88"/><circle cx="233.1" cy="257.8" r="0.91" fill-opacity="0.75"/><circle cx="216.4" cy="219.1" r="1.00" fill-opacity="0.95"/><circle cx="167.0" cy="227.7" r="1.10" fill-opacity="0.95"/><circle cx="218.8" cy="232.4" r="0.94" fill-opacity="0.59"/><circle cx="232.6" cy="258.4" r="0.98" fill-opacity="0.63"/><circle cx="259.5" cy="263.2" r="1.23" fill-opacity="0.89"/><circle cx="265.7" cy="230.4" r="1.23" fill-opacity="0.69"/><circle cx="165.4" cy="252.1" r="0.97" fill-opacity="0.94"/><circle cx="211.6" cy="226.2" r="1.04" fill-opacity="0.86"/><circle cx="187.7" cy="218.0" r="1.24" fill-opacity="0.82"/><circle cx="159.2" cy="269.4" r="1.08" fill-opacity="0.65"/><circle cx="177.6" cy="269.1" r="0.98" fill-opacity="0.84"/><circle cx="168.9" cy="227.9" r="1.13" fill-opacity="0.65"/><circle cx="203.7" cy="220.6" r="1.18" fill-opacity="0.58"/><circle cx="248.8" cy="254.8" r="1.21" fill-opacity="0.84"/><circle cx="270.0" cy="218.2" r="0.90" fill-opacity="0.84"/><circle cx="158.5" cy="258.1" r="1.24" fill-opacity="0.62"/><circle cx="189.6" cy="284.2" r="1.20" fill-opacity="1.00"/><circle cx="178.4" cy="255.2" r="0.90" fill-opacity="0.73"/><circle cx="205.0" cy="211.7" r="1.04" fill-opacity="0.56"/><circle cx="256.6" cy="199.7" r="1.08" fill-opacity="0.64"/><circle cx="211.3" cy="224.7" r="1.23" fill-opacity="0.86"/><circle cx="260.5" cy="246.9" r="0.91" fill-opacity="0.91"/><circle cx="177.8" cy="272.0" r="1.17" fill-opacity="0.66"/><circle cx="268.6" cy="260.1" r="1.10" fill-opacity="0.67"/><circle cx="175.5" cy="281.3" r="1.02" fill-opacity="0.99"/><circle cx="155.1" cy="291.6" r="0.96" fill-opacity="0.81"/><circle cx="230.6" cy="222.4" r="0.96" fill-opacity="0.79"/><circle cx="207.8" cy="234.9" r="0.96" fill-opacity="0.62"/><circle cx="199.7" cy="212.5" r="1.18" fill-opacity="0.80"/><circle cx="197.6" cy="240.7" r="1.18" fill-opacity="0.92"/><circle cx="267.1" cy="240.1" r="1.08" fill-opacity="0.70"/><circle cx="212.0" cy="218.3" r="1.30" fill-opacity="0.83"/><circle cx="209.7" cy="262.6" r="1.20" fill-opacity="0.68"/><circle cx="235.7" cy="266.6" r="1.04" fill-opacity="0.80"/><circle cx="239.6" cy="225.7" r="1.04" fill-opacity="0.90"/><circle cx="214.2" cy="212.8" r="1.27" fill-opacity="0.67"/><circle cx="251.9" cy="227.7" r="1.23" fill-opacity="0.90"/><circle cx="247.9" cy="264.0" r="1.27" fill-opacity="0.96"/><circle cx="227.5" cy="281.9" r="0.99" fill-opacity="0.59"/><circle cx="251.1" cy="243.7" r="1.15" fill-opacity="0.56"/><circle cx="171.1" cy="268.5" r="0.96" fill-opacity="0.93"/><circle cx="265.4" cy="266.1" r="0.95" fill-opacity="0.86"/><circle cx="263.4" cy="191.5" r="1.06" fill-opacity="0.59"/><circle cx="262.7" cy="203.4" r="1.24" fill-opacity="0.90"/><circle cx="248.1" cy="287.4" r="1.24" fill-opacity="0.59"/><circle cx="246.0" cy="222.1" r="1.29" fill-opacity="0.70"/><circle cx="181.5" cy="240.7" r="1.06" fill-opacity="0.84"/><circle cx="203.2" cy="231.9" r="1.13" fill-opacity="0.99"/><circle cx="203.3" cy="271.4" r="1.18" fill-opacity="0.70"/><circle cx="168.7" cy="245.1" r="1.09" fill-opacity="0.69"/><circle cx="210.6" cy="230.1" r="1.07" fill-opacity="0.77"/><circle cx="263.4" cy="257.4" r="1.26" fill-opacity="0.88"/><circle cx="206.9" cy="213.8" r="1.18" fill-opacity="0.85"/><circle cx="268.2" cy="216.4" r="0.90" fill-opacity="0.94"/><circle cx="270.0" cy="257.6" r="1.22" fill-opacity="0.69"/><circle cx="192.9" cy="245.9" r="0.94" fill-opacity="0.69"/><circle cx="226.2" cy="226.8" r="1.16" fill-opacity="0.98"/><circle cx="273.3" cy="288.8" r="1.04" fill-opacity="0.80"/><circle cx="243.1" cy="221.2" r="1.08" fill-opacity="0.61"/><circle cx="178.9" cy="280.5" r="1.22" fill-opacity="0.98"/><circle cx="213.5" cy="208.8" r="1.13" fill-opacity="0.66"/><circle cx="185.1" cy="221.1" r="1.19" fill-opacity="0.88"/><circle cx="180.8" cy="275.4" r="1.24" fill-opacity="0.62"/><circle cx="155.9" cy="242.0" r="0.97" fill-opacity="1.00"/><circle cx="171.0" cy="255.9" r="0.93" fill-opacity="0.83"/><circle cx="206.9" cy="213.8" r="1.17" fill-opacity="0.94"/><circle cx="181.7" cy="226.7" r="1.10" fill-opacity="0.95"/><circle cx="168.9" cy="282.0" r="1.02" fill-opacity="0.91"/><circle cx="256.9" cy="280.3" r="1.08" fill-opacity="0.71"/><circle cx="185.7" cy="236.5" r="1.24" fill-opacity="0.68"/><circle cx="267.2" cy="275.6" r="0.96" fill-opacity="0.66"/><circle cx="231.4" cy="206.2" r="0.92" fill-opacity="0.71"/><circle cx="202.4" cy="219.6" r="1.14" fill-opacity="0.86"/><circle cx="264.1" cy="256.3" r="1.21" fill-opacity="0.57"/><circle cx="231.6" cy="237.4" r="1.00" fill-opacity="0.56"/><circle cx="268.5" cy="202.6" r="0.95" fill-opacity="0.67"/><circle cx="170.3" cy="249.2" r="1.09" fill-opacity="0.66"/><circle cx="208.5" cy="272.9" r="1.10" fill-opacity="0.98"/><circle cx="243.2" cy="214.1" r="1.11" fill-opacity="0.65"/><circle cx="243.8" cy="209.5" r="1.27" fill-opacity="0.59"/><circle cx="234.7" cy="218.2" r="0.96" fill-opacity="0.82"/><circle cx="236.1" cy="222.0" r="1.03" fill-opacity="0.62"/><circle cx="229.0" cy="231.3" r="1.28" fill-opacity="0.89"/><circle cx="227.7" cy="274.6" r="1.28" fill-opacity="0.77"/><circle cx="209.7" cy="221.4" r="0.91" fill-opacity="0.99"/><circle cx="180.4" cy="278.4" r="1.01" fill-opacity="0.98"/><circle cx="226.7" cy="229.7" r="1.05" fill-opacity="0.78"/><circle cx="240.6" cy="261.7" r="0.95" fill-opacity="0.76"/><circle cx="229.8" cy="207.0" r="1.01" fill-opacity="0.98"/><circle cx="189.3" cy="247.1" r="1.20" fill-opacity="0.69"/><circle cx="182.5" cy="275.6" r="1.14" fill-opacity="0.82"/><circle cx="269.6" cy="211.9" r="1.07" fill-opacity="0.81"/><circle cx="183.6" cy="223.2" r="1.17" fill-opacity="0.97"/><circle cx="196.6" cy="226.9" r="1.11" fill-opacity="0.94"/><circle cx="241.4" cy="196.9" r="1.21" fill-opacity="0.77"/></g>
<path d="M139.00,198.30 C141.62,201.17 150.17,209.43 154.70,215.50 C159.23,221.57 162.37,228.63 166.20,234.70 C170.03,240.77 174.20,246.17 177.70,251.90 C181.20,257.63 183.70,264.32 187.20,269.10 C190.70,273.88 194.23,277.57 198.70,280.60 C203.17,283.63 208.90,286.03 214.00,287.30 C219.10,288.57 224.20,288.68 229.30,288.20 C234.40,287.72 239.82,286.63 244.60,284.40 C249.38,282.17 254.48,278.63 258.00,274.80 C261.52,270.97 263.78,266.82 265.70,261.40 C267.62,255.98 268.55,249.30 269.50,242.30 C270.45,235.30 271.08,228.00 271.40,219.40 C271.72,210.80 271.88,198.67 271.40,190.70 C270.92,182.73 269.30,178.05 268.50,171.60 C267.70,165.15 266.92,155.27 266.60,152.00" fill="none" stroke="#a020a8" stroke-opacity="0.4" stroke-width="5"/>
<path d="M139.00,198.30 C141.62,201.17 150.17,209.43 154.70,215.50 C159.23,221.57 162.37,228.63 166.20,234.70 C170.03,240.77 174.20,246.17 177.70,251.90 C181.20,257.63 183.70,264.32 187.20,269.10 C190.70,273.88 194.23,277.57 198.70,280.60 C203.17,283.63 208.90,286.03 214.00,287.30 C219.10,288.57 224.20,288.68 229.30,288.20 C234.40,287.72 239.82,286.63 244.60,284.40 C249.38,282.17 254.48,278.63 258.00,274.80 C261.52,270.97 263.78,266.82 265.70,261.40 C267.62,255.98 268.55,249.30 269.50,242.30 C270.45,235.30 271.08,228.00 271.40,219.40 C271.72,210.80 271.88,198.67 271.40,190.70 C270.92,182.73 269.30,178.05 268.50,171.60 C267.70,165.15 266.92,155.27 266.60,152.00" fill="none" stroke="#fff" stroke-opacity="1.0" stroke-width="11" filter="url(#k11)"/>
<path d="M139.00,198.30 C141.62,201.17 150.17,209.43 154.70,215.50 C159.23,221.57 162.37,228.63 166.20,234.70 C170.03,240.77 174.20,246.17 177.70,251.90 C181.20,257.63 183.70,264.32 187.20,269.10 C190.70,273.88 194.23,277.57 198.70,280.60 C203.17,283.63 208.90,286.03 214.00,287.30 C219.10,288.57 224.20,288.68 229.30,288.20 C234.40,287.72 239.82,286.63 244.60,284.40 C249.38,282.17 254.48,278.63 258.00,274.80 C261.52,270.97 263.78,266.82 265.70,261.40 C267.62,255.98 268.55,249.30 269.50,242.30 C270.45,235.30 271.08,228.00 271.40,219.40 C271.72,210.80 271.88,198.67 271.40,190.70 C270.92,182.73 269.30,178.05 268.50,171.60 C267.70,165.15 266.92,155.27 266.60,152.00" fill="none" stroke="#fff" stroke-opacity="0.4" stroke-width="14" filter="url(#k12)"/>
</g>
<line x1="162.4" y1="238.5" x2="274.3" y2="179.6" stroke="#f4f4f4" stroke-width="1.7" stroke-dasharray="10.5,10.3" stroke-dashoffset="3.5"/>
<line x1="250.4" y1="289.4" x2="276.8" y2="289.4" stroke="#a0a0a0" stroke-width="1.0"/>
</g>
<clipPath id="ci3"><rect x="14" y="297" width="131" height="130"/></clipPath>
<clipPath id="ct3"><path d="M25.50,287.00 C8.03,291.85 25.58,307.10 25.90,316.10 C26.22,325.10 26.20,333.67 27.40,341.00 C28.60,348.33 29.92,354.05 33.10,360.10 C36.28,366.15 41.40,371.57 46.50,377.30 C51.60,383.03 58.28,389.08 63.70,394.50 C69.12,399.92 74.53,405.65 79.00,409.80 C83.47,413.95 87.50,416.95 90.50,419.40 C93.50,421.85 94.77,423.87 97.00,424.50 C99.23,425.13 101.80,424.68 103.90,423.20 C106.00,421.72 107.68,420.07 109.60,415.60 C111.52,411.13 113.17,403.42 115.40,396.40 C117.63,389.38 120.45,380.50 123.00,373.50 C125.55,366.50 128.78,360.78 130.70,354.40 C132.62,348.02 133.87,341.58 134.50,335.20 C135.13,328.82 135.13,324.13 134.50,316.10 C133.87,308.07 148.87,291.85 130.70,287.00 C112.53,282.15 42.97,282.15 25.50,287.00Z"/></clipPath>
<rect x="14" y="297" width="131" height="130" fill="#000"/>
<g clip-path="url(#ci3)">
<g clip-path="url(#ct3)">
<path d="M25.50,287.00 C8.03,291.85 25.58,307.10 25.90,316.10 C26.22,325.10 26.20,333.67 27.40,341.00 C28.60,348.33 29.92,354.05 33.10,360.10 C36.28,366.15 41.40,371.57 46.50,377.30 C51.60,383.03 58.28,389.08 63.70,394.50 C69.12,399.92 74.53,405.65 79.00,409.80 C83.47,413.95 87.50,416.95 90.50,419.40 C93.50,421.85 94.77,423.87 97.00,424.50 C99.23,425.13 101.80,424.68 103.90,423.20 C106.00,421.72 107.68,420.07 109.60,415.60 C111.52,411.13 113.17,403.42 115.40,396.40 C117.63,389.38 120.45,380.50 123.00,373.50 C125.55,366.50 128.78,360.78 130.70,354.40 C132.62,348.02 133.87,341.58 134.50,335.20 C135.13,328.82 135.13,324.13 134.50,316.10 C133.87,308.07 148.87,291.85 130.70,287.00 C112.53,282.15 42.97,282.15 25.50,287.00Z" fill="#fff" fill-opacity="0.9" filter="url(#k13)"/>
<path d="M19.00,292.00 C38.17,281.17 119.83,281.17 139.00,292.00 C158.17,302.83 144.83,343.67 134.00,357.00 C123.17,370.33 92.33,372.00 74.00,372.00 C55.67,372.00 33.17,370.33 24.00,357.00 C14.83,343.67 -0.17,302.83 19.00,292.00Z" fill="#fff" fill-opacity="0.9" filter="url(#k14)"/>
<path d="M25.50,287.00 C8.03,291.85 25.58,307.10 25.90,316.10 C26.22,325.10 26.20,333.67 27.40,341.00 C28.60,348.33 29.92,354.05 33.10,360.10 C36.28,366.15 41.40,371.57 46.50,377.30 C51.60,383.03 58.28,389.08 63.70,394.50 C69.12,399.92 74.53,405.65 79.00,409.80 C83.47,413.95 87.50,416.95 90.50,419.40 C93.50,421.85 94.77,423.87 97.00,424.50 C99.23,425.13 101.80,424.68 103.90,423.20 C106.00,421.72 107.68,420.07 109.60,415.60 C111.52,411.13 113.17,403.42 115.40,396.40 C117.63,389.38 120.45,380.50 123.00,373.50 C125.55,366.50 128.78,360.78 130.70,354.40 C132.62,348.02 133.87,341.58 134.50,335.20 C135.13,328.82 135.13,324.13 134.50,316.10 C133.87,308.07 148.87,291.85 130.70,287.00 C112.53,282.15 42.97,282.15 25.50,287.00Z" fill="#fff" fill-opacity="0.7" filter="url(#k15)"/>
<path d="M44.00,372.00 C50.67,362.00 112.33,353.67 124.00,362.00 C135.67,370.33 120.67,412.00 114.00,422.00 C107.33,432.00 95.67,430.33 84.00,422.00 C72.33,413.67 37.33,382.00 44.00,372.00Z" fill="#fff" fill-opacity="0.7" filter="url(#k16)"/>
<path d="M25.50,287.00 C25.57,291.85 25.58,307.10 25.90,316.10 C26.22,325.10 26.20,333.67 27.40,341.00 C28.60,348.33 29.92,354.05 33.10,360.10 C36.28,366.15 41.40,371.57 46.50,377.30 C51.60,383.03 58.28,389.08 63.70,394.50 C69.12,399.92 74.53,405.65 79.00,409.80 C83.47,413.95 87.50,416.95 90.50,419.40 C93.50,421.85 94.77,423.87 97.00,424.50 C99.23,425.13 101.80,424.68 103.90,423.20 C106.00,421.72 107.68,420.07 109.60,415.60 C111.52,411.13 113.17,403.42 115.40,396.40 C117.63,389.38 120.45,380.50 123.00,373.50 C125.55,366.50 128.78,360.78 130.70,354.40 C132.62,348.02 133.87,341.58 134.50,335.20 C135.13,328.82 135.13,324.13 134.50,316.10 C133.87,308.07 131.33,291.85 130.70,287.00" fill="none" stroke="#a020a8" stroke-opacity="0.4" stroke-width="3"/>
<path d="M25.50,287.00 C25.57,291.85 25.58,307.10 25.90,316.10 C26.22,325.10 26.20,333.67 27.40,341.00 C28.60,348.33 29.92,354.05 33.10,360.10 C36.28,366.15 41.40,371.57 46.50,377.30 C51.60,383.03 58.28,389.08 63.70,394.50 C69.12,399.92 74.53,405.65 79.00,409.80 C83.47,413.95 87.50,416.95 90.50,419.40 C93.50,421.85 94.77,423.87 97.00,424.50 C99.23,425.13 101.80,424.68 103.90,423.20 C106.00,421.72 107.68,420.07 109.60,415.60 C111.52,411.13 113.17,403.42 115.40,396.40 C117.63,389.38 120.45,380.50 123.00,373.50 C125.55,366.50 128.78,360.78 130.70,354.40 C132.62,348.02 133.87,341.58 134.50,335.20 C135.13,328.82 135.13,324.13 134.50,316.10 C133.87,308.07 131.33,291.85 130.70,287.00" fill="none" stroke="#fff" stroke-opacity="1.0" stroke-width="7" filter="url(#k17)"/>
</g>
<line x1="18.8" y1="327.2" x2="140.2" y2="331.0" stroke="#f4f4f4" stroke-width="1.7" stroke-dasharray="12.4,11.4" stroke-dashoffset="5.6"/>
<line x1="124.5" y1="424.4" x2="141.8" y2="424.4" stroke="#a0a0a0" stroke-width="1.0"/>
</g>
<clipPath id="ci4"><rect x="149" y="297" width="131" height="130"/></clipPath>
<clipPath id="ct4"><path d="M139.00,287.00 C157.88,278.97 231.83,283.73 252.30,287.00 C272.77,290.27 259.10,300.78 261.80,306.60 C264.50,312.42 266.90,315.53 268.50,321.90 C270.10,328.27 270.92,336.83 271.40,344.80 C271.88,352.77 271.88,362.68 271.40,369.70 C270.92,376.72 269.78,381.17 268.50,386.90 C267.22,392.63 265.77,399.32 263.70,404.10 C261.63,408.88 259.92,412.57 256.10,415.60 C252.28,418.63 245.90,421.35 240.80,422.30 C235.70,423.25 231.23,423.07 225.50,421.30 C219.77,419.53 212.78,415.85 206.40,411.70 C200.02,407.55 192.95,401.50 187.20,396.40 C181.45,391.30 176.35,386.20 171.90,381.10 C167.45,376.00 163.68,370.90 160.50,365.80 C157.32,360.70 156.38,355.60 152.80,350.50 C149.22,345.40 141.30,345.78 139.00,335.20 C136.70,324.62 120.12,295.03 139.00,287.00Z"/></clipPath>
<rect x="149" y="297" width="131" height="130" fill="#000"/>
<g clip-path="url(#ci4)">
<g clip-path="url(#ct4)">
<path d="M139.00,287.00 C157.88,278.97 231.83,283.73 252.30,287.00 C272.77,290.27 259.10,300.78 261.80,306.60 C264.50,312.42 266.90,315.53 268.50,321.90 C270.10,328.27 270.92,336.83 271.40,344.80 C271.88,352.77 271.88,362.68 271.40,369.70 C270.92,376.72 269.78,381.17 268.50,386.90 C267.22,392.63 265.77,399.32 263.70,404.10 C261.63,408.88 259.92,412.57 256.10,415.60 C252.28,418.63 245.90,421.35 240.80,422.30 C235.70,423.25 231.23,423.07 225.50,421.30 C219.77,419.53 212.78,415.85 206.40,411.70 C200.02,407.55 192.95,401.50 187.20,396.40 C181.45,391.30 176.35,386.20 171.90,381.10 C167.45,376.00 163.68,370.90 160.50,365.80 C157.32,360.70 156.38,355.60 152.80,350.50 C149.22,345.40 141.30,345.78 139.00,335.20 C136.70,324.62 120.12,295.03 139.00,287.00Z" fill="#fff" fill-opacity="0.75" filter="url(#k18)"/>
<path d="M139.00,287.00 C157.88,278.97 231.83,283.73 252.30,287.00 C272.77,290.27 259.10,300.78 261.80,306.60 C264.50,312.42 266.90,315.53 268.50,321.90 C270.10,328.27 270.92,336.83 271.40,344.80 C271.88,352.77 271.88,362.68 271.40,369.70 C270.92,376.72 269.78,381.17 268.50,386.90 C267.22,392.63 265.77,399.32 263.70,404.10 C261.63,408.88 259.92,412.57 256.10,415.60 C252.28,418.63 245.90,421.35 240.80,422.30 C235.70,423.25 231.23,423.07 225.50,421.30 C219.77,419.53 212.78,415.85 206.40,411.70 C200.02,407.55 192.95,401.50 187.20,396.40 C181.45,391.30 176.35,386.20 171.90,381.10 C167.45,376.00 163.68,370.90 160.50,365.80 C157.32,360.70 156.38,355.60 152.80,350.50 C149.22,345.40 141.30,345.78 139.00,335.20 C136.70,324.62 120.12,295.03 139.00,287.00Z" fill="#fff" fill-opacity="0.9" filter="url(#k19)"/>
<path d="M144.00,327.00 C149.83,308.67 166.50,315.00 179.00,317.00 C191.50,319.00 203.17,338.17 219.00,339.00 C234.83,339.83 264.83,307.33 274.00,322.00 C283.17,336.67 295.67,409.50 274.00,427.00 C252.33,444.50 165.67,443.67 144.00,427.00 C122.33,410.33 138.17,345.33 144.00,327.00Z" fill="#fff" fill-opacity="0.7" filter="url(#k20)"/>
<path d="M154.00,372.00 C160.67,364.50 189.83,348.67 209.00,342.00 C228.17,335.33 259.00,321.17 269.00,332.00 C279.00,342.83 275.67,392.00 269.00,407.00 C262.33,422.00 245.67,425.33 229.00,422.00 C212.33,418.67 181.50,395.33 169.00,387.00 C156.50,378.67 147.33,379.50 154.00,372.00Z" fill="#fff" fill-opacity="0.8" filter="url(#k21)"/>
<path d="M179.00,292.00 C189.83,287.00 238.17,286.17 249.00,292.00 C259.83,297.83 250.67,319.50 244.00,327.00 C237.33,334.50 219.00,337.83 209.00,337.00 C199.00,336.17 189.00,329.50 184.00,322.00 C179.00,314.50 168.17,297.00 179.00,292.00Z" fill="#fff" fill-opacity="0.5" filter="url(#k22)"/>
<path d="M154.00,372.00 C160.67,364.50 189.83,348.67 209.00,342.00 C228.17,335.33 259.00,321.17 269.00,332.00 C279.00,342.83 275.67,392.00 269.00,407.00 C262.33,422.00 245.67,425.33 229.00,422.00 C212.33,418.67 181.50,395.33 169.00,387.00 C156.50,378.67 147.33,379.50 154.00,372.00Z" fill="#fff" fill-opacity="0.6" filter="url(#k23)"/>
<path d="M252.30,287.00 C253.88,290.27 259.10,300.78 261.80,306.60 C264.50,312.42 266.90,315.53 268.50,321.90 C270.10,328.27 270.92,336.83 271.40,344.80 C271.88,352.77 271.88,362.68 271.40,369.70 C270.92,376.72 269.78,381.17 268.50,386.90 C267.22,392.63 265.77,399.32 263.70,404.10 C261.63,408.88 259.92,412.57 256.10,415.60 C252.28,418.63 245.90,421.35 240.80,422.30 C235.70,423.25 231.23,423.07 225.50,421.30 C219.77,419.53 212.78,415.85 206.40,411.70 C200.02,407.55 192.95,401.50 187.20,396.40 C181.45,391.30 176.35,386.20 171.90,381.10 C167.45,376.00 163.68,370.90 160.50,365.80 C157.32,360.70 156.38,355.60 152.80,350.50 C149.22,345.40 141.30,337.75 139.00,335.20" fill="none" stroke="#a020a8" stroke-opacity="0.4" stroke-width="4"/>
<path d="M252.30,287.00 C253.88,290.27 259.10,300.78 261.80,306.60 C264.50,312.42 266.90,315.53 268.50,321.90 C270.10,328.27 270.92,336.83 271.40,344.80 C271.88,352.77 271.88,362.68 271.40,369.70 C270.92,376.72 269.78,381.17 268.50,386.90 C267.22,392.63 265.77,399.32 263.70,404.10 C261.63,408.88 259.92,412.57 256.10,415.60 C252.28,418.63 245.90,421.35 240.80,422.30 C235.70,423.25 231.23,423.07 225.50,421.30 C219.77,419.53 212.78,415.85 206.40,411.70 C200.02,407.55 192.95,401.50 187.20,396.40 C181.45,391.30 176.35,386.20 171.90,381.10 C167.45,376.00 163.68,370.90 160.50,365.80 C157.32,360.70 156.38,355.60 152.80,350.50 C149.22,345.40 141.30,337.75 139.00,335.20" fill="none" stroke="#fff" stroke-opacity="1.0" stroke-width="10" filter="url(#k24)"/>
</g>
<line x1="150.0" y1="359.2" x2="269.5" y2="309.4" stroke="#f4f4f4" stroke-width="1.7" stroke-dasharray="11,10.7" stroke-dashoffset="5.1"/>
<line x1="256.1" y1="424.4" x2="276.8" y2="424.4" stroke="#a0a0a0" stroke-width="1.0"/>
</g>
<clipPath id="ci5"><rect x="14" y="631.5" width="131" height="130"/></clipPath>
<clipPath id="ct5"><path d="M17.80,656.40 C19.23,652.58 22.32,649.52 25.50,646.80 C28.68,644.08 32.45,641.85 36.90,640.10 C41.35,638.35 46.45,637.42 52.20,636.30 C57.95,635.18 64.38,634.03 71.40,633.40 C78.42,632.77 87.30,632.02 94.30,632.50 C101.30,632.98 107.67,635.52 113.40,636.30 C119.13,637.08 124.55,636.40 128.70,637.20 C132.85,638.00 136.22,638.55 138.30,641.10 C140.38,643.65 140.88,647.73 141.20,652.50 C141.52,657.27 141.00,663.63 140.20,669.70 C139.40,675.77 138.95,682.52 136.40,688.90 C133.85,695.28 129.37,701.63 124.90,708.00 C120.43,714.37 114.70,721.05 109.60,727.10 C104.50,733.15 98.77,739.20 94.30,744.30 C89.83,749.40 85.67,754.83 82.80,757.70 C79.93,760.57 79.65,762.45 77.10,761.50 C74.55,760.55 71.65,756.77 67.50,752.00 C63.35,747.23 57.30,739.60 52.20,732.90 C47.10,726.20 41.35,718.50 36.90,711.80 C32.45,705.10 28.83,699.72 25.50,692.70 C22.17,685.68 18.18,675.75 16.90,669.70 C15.62,663.65 16.37,660.22 17.80,656.40Z"/></clipPath>
<rect x="14" y="631.5" width="131" height="130" fill="#000"/>
<g clip-path="url(#ci5)">
<g clip-path="url(#ct5)">
<path d="M17.80,656.40 C19.23,652.58 22.32,649.52 25.50,646.80 C28.68,644.08 32.45,641.85 36.90,640.10 C41.35,638.35 46.45,637.42 52.20,636.30 C57.95,635.18 64.38,634.03 71.40,633.40 C78.42,632.77 87.30,632.02 94.30,632.50 C101.30,632.98 107.67,635.52 113.40,636.30 C119.13,637.08 124.55,636.40 128.70,637.20 C132.85,638.00 136.22,638.55 138.30,641.10 C140.38,643.65 140.88,647.73 141.20,652.50 C141.52,657.27 141.00,663.63 140.20,669.70 C139.40,675.77 138.95,682.52 136.40,688.90 C133.85,695.28 129.37,701.63 124.90,708.00 C120.43,714.37 114.70,721.05 109.60,727.10 C104.50,733.15 98.77,739.20 94.30,744.30 C89.83,749.40 85.67,754.83 82.80,757.70 C79.93,760.57 79.65,762.45 77.10,761.50 C74.55,760.55 71.65,756.77 67.50,752.00 C63.35,747.23 57.30,739.60 52.20,732.90 C47.10,726.20 41.35,718.50 36.90,711.80 C32.45,705.10 28.83,699.72 25.50,692.70 C22.17,685.68 18.18,675.75 16.90,669.70 C15.62,663.65 16.37,660.22 17.80,656.40Z" fill="#fff" fill-opacity="0.9" filter="url(#k25)"/>
<path d="M17.80,656.40 C19.23,652.58 22.32,649.52 25.50,646.80 C28.68,644.08 32.45,641.85 36.90,640.10 C41.35,638.35 46.45,637.42 52.20,636.30 C57.95,635.18 64.38,634.03 71.40,633.40 C78.42,632.77 87.30,632.02 94.30,632.50 C101.30,632.98 107.67,635.52 113.40,636.30 C119.13,637.08 124.55,636.40 128.70,637.20 C132.85,638.00 136.22,638.55 138.30,641.10 C140.38,643.65 140.88,647.73 141.20,652.50 C141.52,657.27 141.00,663.63 140.20,669.70 C139.40,675.77 138.95,682.52 136.40,688.90 C133.85,695.28 129.37,701.63 124.90,708.00 C120.43,714.37 114.70,721.05 109.60,727.10 C104.50,733.15 98.77,739.20 94.30,744.30 C89.83,749.40 85.67,754.83 82.80,757.70 C79.93,760.57 79.65,762.45 77.10,761.50 C74.55,760.55 71.65,756.77 67.50,752.00 C63.35,747.23 57.30,739.60 52.20,732.90 C47.10,726.20 41.35,718.50 36.90,711.80 C32.45,705.10 28.83,699.72 25.50,692.70 C22.17,685.68 18.18,675.75 16.90,669.70 C15.62,663.65 16.37,660.22 17.80,656.40Z" fill="#fff" fill-opacity="0.9" filter="url(#k26)"/>
<path d="M59.00,651.50 C64.83,644.00 91.50,644.83 99.00,651.50 C106.50,658.17 109.83,684.00 104.00,691.50 C98.17,699.00 71.50,703.17 64.00,696.50 C56.50,689.83 53.17,659.00 59.00,651.50Z" fill="#fff" fill-opacity="0.8" filter="url(#k27)"/>
<path d="M29.00,706.50 C41.50,701.50 118.17,699.33 129.00,706.50 C139.83,713.67 103.17,741.17 94.00,749.50 C84.83,757.83 80.67,758.67 74.00,756.50 C67.33,754.33 61.50,744.83 54.00,736.50 C46.50,728.17 16.50,711.50 29.00,706.50Z" fill="#fff" fill-opacity="0.7" filter="url(#k28)"/>
<path d="M29.00,706.50 C41.50,701.50 118.17,699.33 129.00,706.50 C139.83,713.67 103.17,741.17 94.00,749.50 C84.83,757.83 80.67,758.67 74.00,756.50 C67.33,754.33 61.50,744.83 54.00,736.50 C46.50,728.17 16.50,711.50 29.00,706.50Z" fill="#fff" fill-opacity="0.8" filter="url(#k29)"/>
<path d="M29.00,706.50 C41.50,701.50 118.17,699.33 129.00,706.50 C139.83,713.67 103.17,741.17 94.00,749.50 C84.83,757.83 80.67,758.67 74.00,756.50 C67.33,754.33 61.50,744.83 54.00,736.50 C46.50,728.17 16.50,711.50 29.00,706.50Z" fill="#fff" fill-opacity="0.6" filter="url(#k30)"/>
<path d="M24.00,686.50 C39.00,681.50 119.00,681.50 134.00,686.50 C149.00,691.50 129.00,711.50 114.00,716.50 C99.00,721.50 59.00,721.50 44.00,716.50 C29.00,711.50 9.00,691.50 24.00,686.50Z" fill="#fff" fill-opacity="0.6" filter="url(#k31)"/>
<path d="M17.80,656.40 C19.23,652.58 22.32,649.52 25.50,646.80 C28.68,644.08 32.45,641.85 36.90,640.10 C41.35,638.35 46.45,637.42 52.20,636.30 C57.95,635.18 64.38,634.03 71.40,633.40 C78.42,632.77 87.30,632.02 94.30,632.50 C101.30,632.98 107.67,635.52 113.40,636.30 C119.13,637.08 124.55,636.40 128.70,637.20 C132.85,638.00 136.22,638.55 138.30,641.10 C140.38,643.65 140.88,647.73 141.20,652.50 C141.52,657.27 141.00,663.63 140.20,669.70 C139.40,675.77 138.95,682.52 136.40,688.90 C133.85,695.28 129.37,701.63 124.90,708.00 C120.43,714.37 114.70,721.05 109.60,727.10 C104.50,733.15 98.77,739.20 94.30,744.30 C89.83,749.40 85.67,754.83 82.80,757.70 C79.93,760.57 79.65,762.45 77.10,761.50 C74.55,760.55 71.65,756.77 67.50,752.00 C63.35,747.23 57.30,739.60 52.20,732.90 C47.10,726.20 41.35,718.50 36.90,711.80 C32.45,705.10 28.83,699.72 25.50,692.70 C22.17,685.68 18.18,675.75 16.90,669.70 C15.62,663.65 16.37,660.22 17.80,656.40Z" fill="none" stroke="#fff" stroke-opacity="0.8" stroke-width="5" filter="url(#k32)"/>
<path d="M17.80,656.40 C19.23,652.58 22.32,649.52 25.50,646.80 C28.68,644.08 32.45,641.85 36.90,640.10 C41.35,638.35 46.45,637.42 52.20,636.30 C57.95,635.18 64.38,634.03 71.40,633.40 C78.42,632.77 87.30,632.02 94.30,632.50 C101.30,632.98 107.67,635.52 113.40,636.30 C119.13,637.08 124.55,636.40 128.70,637.20 C132.85,638.00 136.22,638.55 138.30,641.10 C140.38,643.65 140.88,647.73 141.20,652.50 C141.52,657.27 141.00,663.63 140.20,669.70 C139.40,675.77 138.95,682.52 136.40,688.90 C133.85,695.28 129.37,701.63 124.90,708.00 C120.43,714.37 114.70,721.05 109.60,727.10 C104.50,733.15 98.77,739.20 94.30,744.30 C89.83,749.40 85.67,754.83 82.80,757.70 C79.93,760.57 79.65,762.45 77.10,761.50 C74.55,760.55 71.65,756.77 67.50,752.00 C63.35,747.23 57.30,739.60 52.20,732.90 C47.10,726.20 41.35,718.50 36.90,711.80 C32.45,705.10 28.83,699.72 25.50,692.70 C22.17,685.68 18.18,675.75 16.90,669.70 C15.62,663.65 16.37,660.22 17.80,656.40Z" fill="none" stroke="#fff" stroke-opacity="0.7" stroke-width="3" filter="url(#k33)"/>
</g>
<line x1="19.7" y1="703.1" x2="136.4" y2="703.1" stroke="#f4f4f4" stroke-width="1.7" stroke-dasharray="12.5,10.9" stroke-dashoffset="7.1"/>
<line x1="121.1" y1="758.9" x2="141.8" y2="758.9" stroke="#a0a0a0" stroke-width="1.0"/>
</g>
<clipPath id="ci6"><rect x="149" y="631.5" width="131" height="130"/></clipPath>
<clipPath id="ct6"><path d="M139.00,621.50 C116.45,632.08 136.07,671.87 139.00,685.00 C141.93,698.13 152.07,695.20 156.60,700.30 C161.13,705.40 163.32,710.50 166.20,715.60 C169.08,720.70 171.03,726.12 173.90,730.90 C176.77,735.68 179.58,740.47 183.40,744.30 C187.22,748.13 192.02,751.50 196.80,753.90 C201.58,756.30 206.68,757.90 212.10,758.70 C217.52,759.50 223.88,759.33 229.30,758.70 C234.72,758.07 239.82,757.30 244.60,754.90 C249.38,752.50 254.48,748.93 258.00,744.30 C261.52,739.67 263.47,733.78 265.70,727.10 C267.93,720.42 269.97,712.17 271.40,704.20 C272.83,696.23 273.67,688.23 274.30,679.30 C274.93,670.37 275.20,660.23 275.20,650.60 C275.20,640.97 297.00,626.35 274.30,621.50 C251.60,616.65 161.55,610.92 139.00,621.50Z"/></clipPath>
<rect x="149" y="631.5" width="131" height="130" fill="#000"/>
<g clip-path="url(#ci6)">
<g clip-path="url(#ct6)">
<path d="M139.00,621.50 C116.45,632.08 136.07,671.87 139.00,685.00 C141.93,698.13 152.07,695.20 156.60,700.30 C161.13,705.40 163.32,710.50 166.20,715.60 C169.08,720.70 171.03,726.12 173.90,730.90 C176.77,735.68 179.58,740.47 183.40,744.30 C187.22,748.13 192.02,751.50 196.80,753.90 C201.58,756.30 206.68,757.90 212.10,758.70 C217.52,759.50 223.88,759.33 229.30,758.70 C234.72,758.07 239.82,757.30 244.60,754.90 C249.38,752.50 254.48,748.93 258.00,744.30 C261.52,739.67 263.47,733.78 265.70,727.10 C267.93,720.42 269.97,712.17 271.40,704.20 C272.83,696.23 273.67,688.23 274.30,679.30 C274.93,670.37 275.20,660.23 275.20,650.60 C275.20,640.97 297.00,626.35 274.30,621.50 C251.60,616.65 161.55,610.92 139.00,621.50Z" fill="#fff" fill-opacity="0.7" filter="url(#k34)"/>
<path d="M139.00,621.50 C116.45,632.08 136.07,671.87 139.00,685.00 C141.93,698.13 152.07,695.20 156.60,700.30 C161.13,705.40 163.32,710.50 166.20,715.60 C169.08,720.70 171.03,726.12 173.90,730.90 C176.77,735.68 179.58,740.47 183.40,744.30 C187.22,748.13 192.02,751.50 196.80,753.90 C201.58,756.30 206.68,757.90 212.10,758.70 C217.52,759.50 223.88,759.33 229.30,758.70 C234.72,758.07 239.82,757.30 244.60,754.90 C249.38,752.50 254.48,748.93 258.00,744.30 C261.52,739.67 263.47,733.78 265.70,727.10 C267.93,720.42 269.97,712.17 271.40,704.20 C272.83,696.23 273.67,688.23 274.30,679.30 C274.93,670.37 275.20,660.23 275.20,650.60 C275.20,640.97 297.00,626.35 274.30,621.50 C251.60,616.65 161.55,610.92 139.00,621.50Z" fill="#fff" fill-opacity="0.8" filter="url(#k35)"/>
<path d="M139.00,621.50 C116.45,632.08 136.07,671.87 139.00,685.00 C141.93,698.13 152.07,695.20 156.60,700.30 C161.13,705.40 163.32,710.50 166.20,715.60 C169.08,720.70 171.03,726.12 173.90,730.90 C176.77,735.68 179.58,740.47 183.40,744.30 C187.22,748.13 192.02,751.50 196.80,753.90 C201.58,756.30 206.68,757.90 212.10,758.70 C217.52,759.50 223.88,759.33 229.30,758.70 C234.72,758.07 239.82,757.30 244.60,754.90 C249.38,752.50 254.48,748.93 258.00,744.30 C261.52,739.67 263.47,733.78 265.70,727.10 C267.93,720.42 269.97,712.17 271.40,704.20 C272.83,696.23 273.67,688.23 274.30,679.30 C274.93,670.37 275.20,660.23 275.20,650.60 C275.20,640.97 297.00,626.35 274.30,621.50 C251.60,616.65 161.55,610.92 139.00,621.50Z" fill="#fff" fill-opacity="0.7" filter="url(#k36)"/>
<path d="M159.00,716.50 C159.00,707.67 177.33,702.67 189.00,696.50 C200.67,690.33 216.50,683.67 229.00,679.50 C241.50,675.33 258.17,661.17 264.00,671.50 C269.83,681.83 269.83,727.33 264.00,741.50 C258.17,755.67 241.50,755.17 229.00,756.50 C216.50,757.83 200.67,756.17 189.00,749.50 C177.33,742.83 159.00,725.33 159.00,716.50Z" fill="#fff" fill-opacity="0.9" filter="url(#k37)"/>
<path d="M159.00,716.50 C159.00,707.67 177.33,702.67 189.00,696.50 C200.67,690.33 216.50,683.67 229.00,679.50 C241.50,675.33 258.17,661.17 264.00,671.50 C269.83,681.83 269.83,727.33 264.00,741.50 C258.17,755.67 241.50,755.17 229.00,756.50 C216.50,757.83 200.67,756.17 189.00,749.50 C177.33,742.83 159.00,725.33 159.00,716.50Z" fill="#fff" fill-opacity="0.9" filter="url(#k38)"/>
<path d="M184.00,721.50 C186.50,715.33 199.00,708.17 209.00,706.50 C219.00,704.83 237.33,706.50 244.00,711.50 C250.67,716.50 252.33,729.83 249.00,736.50 C245.67,743.17 233.17,750.33 224.00,751.50 C214.83,752.67 200.67,748.50 194.00,743.50 C187.33,738.50 181.50,727.67 184.00,721.50Z" fill="#fff" fill-opacity="0.9" filter="url(#k39)"/>
<path d="M159.00,716.50 C159.00,707.67 177.33,702.67 189.00,696.50 C200.67,690.33 216.50,683.67 229.00,679.50 C241.50,675.33 258.17,661.17 264.00,671.50 C269.83,681.83 269.83,727.33 264.00,741.50 C258.17,755.67 241.50,755.17 229.00,756.50 C216.50,757.83 200.67,756.17 189.00,749.50 C177.33,742.83 159.00,725.33 159.00,716.50Z" fill="#fff" fill-opacity="0.8" filter="url(#k40)"/>
<path d="M154.00,711.50 C155.67,701.50 176.50,695.83 189.00,689.50 C201.50,683.17 216.00,677.83 229.00,673.50 C242.00,669.17 260.67,651.33 267.00,663.50 C273.33,675.67 273.33,730.50 267.00,746.50 C260.67,762.50 243.67,759.00 229.00,759.50 C214.33,760.00 191.50,757.50 179.00,749.50 C166.50,741.50 152.33,721.50 154.00,711.50Z" fill="#fff" fill-opacity="0.8" filter="url(#k41)"/>
<path d="M154.00,711.50 C155.67,701.50 176.50,695.83 189.00,689.50 C201.50,683.17 216.00,677.83 229.00,673.50 C242.00,669.17 260.67,651.33 267.00,663.50 C273.33,675.67 273.33,730.50 267.00,746.50 C260.67,762.50 243.67,759.00 229.00,759.50 C214.33,760.00 191.50,757.50 179.00,749.50 C166.50,741.50 152.33,721.50 154.00,711.50Z" fill="#fff" fill-opacity="0.7" filter="url(#k42)"/>
<g fill="#a8a8a8"><circle cx="188.1" cy="641.9" r="1.31" fill-opacity="0.58"/><circle cx="215.1" cy="659.5" r="0.98" fill-opacity="0.78"/><circle cx="151.8" cy="665.1" r="0.99" fill-opacity="0.59"/><circle cx="162.7" cy="647.8" r="1.30" fill-opacity="0.98"/><circle cx="220.3" cy="662.0" r="1.49" fill-opacity="0.57"/><circle cx="256.0" cy="653.2" r="1.03" fill-opacity="0.60"/><circle cx="170.0" cy="677.2" r="1.30" fill-opacity="0.72"/><circle cx="216.6" cy="634.6" r="0.98" fill-opacity="0.64"/><circle cx="233.4" cy="664.6" r="1.12" fill-opacity="0.81"/><circle cx="204.6" cy="654.1" r="1.39" fill-opacity="0.86"/><circle cx="178.0" cy="676.6" r="1.24" fill-opacity="0.94"/><circle cx="239.6" cy="653.1" r="1.49" fill-opacity="0.60"/><circle cx="166.3" cy="669.6" r="0.97" fill-opacity="0.85"/><circle cx="258.2" cy="655.2" r="1.33" fill-opacity="0.82"/><circle cx="220.6" cy="666.9" r="1.41" fill-opacity="0.98"/><circle cx="207.2" cy="684.0" r="0.98" fill-opacity="0.87"/><circle cx="251.4" cy="652.8" r="1.16" fill-opacity="0.85"/><circle cx="149.9" cy="667.4" r="1.04" fill-opacity="0.60"/><circle cx="154.5" cy="692.5" r="1.02" fill-opacity="0.66"/><circle cx="157.2" cy="666.3" r="1.25" fill-opacity="0.95"/><circle cx="182.4" cy="663.6" r="1.15" fill-opacity="0.95"/><circle cx="268.6" cy="641.9" r="1.05" fill-opacity="0.65"/><circle cx="176.6" cy="669.3" r="1.27" fill-opacity="0.67"/><circle cx="147.5" cy="663.9" r="1.15" fill-opacity="0.80"/><circle cx="212.5" cy="680.1" r="1.32" fill-opacity="0.57"/><circle cx="196.8" cy="662.2" r="1.01" fill-opacity="0.84"/><circle cx="154.9" cy="635.0" r="1.06" fill-opacity="0.62"/><circle cx="190.2" cy="633.8" r="0.95" fill-opacity="0.62"/><circle cx="159.9" cy="659.3" r="0.96" fill-opacity="0.94"/><circle cx="225.0" cy="641.7" r="1.09" fill-opacity="0.71"/><circle cx="193.2" cy="639.6" r="1.42" fill-opacity="1.00"/><circle cx="206.2" cy="669.2" r="1.00" fill-opacity="0.60"/><circle cx="190.5" cy="651.2" r="1.41" fill-opacity="0.62"/><circle cx="149.9" cy="707.5" r="1.24" fill-opacity="0.62"/><circle cx="216.0" cy="631.7" r="1.24" fill-opacity="0.99"/><circle cx="180.2" cy="659.6" r="1.04" fill-opacity="0.90"/><circle cx="188.9" cy="647.8" r="1.40" fill-opacity="0.99"/><circle cx="175.8" cy="671.9" r="1.15" fill-opacity="0.56"/><circle cx="150.5" cy="652.4" r="1.09" fill-opacity="0.86"/><circle cx="268.3" cy="659.4" r="1.07" fill-opacity="0.65"/><circle cx="172.0" cy="646.3" r="1.29" fill-opacity="0.96"/><circle cx="157.8" cy="683.7" r="1.45" fill-opacity="0.90"/><circle cx="242.3" cy="668.7" r="1.05" fill-opacity="0.91"/><circle cx="270.4" cy="662.0" r="1.17" fill-opacity="0.98"/><circle cx="239.0" cy="643.4" r="1.02" fill-opacity="0.62"/><circle cx="165.6" cy="697.3" r="1.49" fill-opacity="0.85"/><circle cx="191.5" cy="674.5" r="1.02" fill-opacity="0.56"/><circle cx="251.9" cy="646.8" r="1.09" fill-opacity="0.68"/><circle cx="177.5" cy="677.6" r="1.09" fill-opacity="0.74"/><circle cx="163.6" cy="704.1" r="1.14" fill-opacity="0.76"/><circle cx="210.7" cy="673.1" r="1.24" fill-opacity="0.56"/><circle cx="202.9" cy="644.5" r="0.95" fill-opacity="0.91"/><circle cx="168.9" cy="668.3" r="1.35" fill-opacity="0.80"/><circle cx="188.4" cy="672.0" r="1.26" fill-opacity="0.90"/><circle cx="160.5" cy="675.4" r="1.09" fill-opacity="0.67"/><circle cx="245.1" cy="671.1" r="1.26" fill-opacity="0.89"/><circle cx="224.8" cy="671.0" r="1.23" fill-opacity="0.86"/><circle cx="204.4" cy="673.2" r="1.21" fill-opacity="0.97"/><circle cx="266.7" cy="650.8" r="1.26" fill-opacity="0.97"/><circle cx="253.7" cy="640.7" r="1.02" fill-opacity="0.75"/><circle cx="156.2" cy="649.2" r="0.99" fill-opacity="0.85"/><circle cx="166.6" cy="688.2" r="1.31" fill-opacity="0.61"/><circle cx="197.6" cy="669.5" r="1.49" fill-opacity="0.92"/><circle cx="167.5" cy="664.9" r="1.23" fill-opacity="0.70"/><circle cx="171.9" cy="655.6" r="1.35" fill-opacity="0.56"/><circle cx="217.4" cy="665.6" r="0.96" fill-opacity="0.70"/><circle cx="226.2" cy="671.5" r="0.99" fill-opacity="0.99"/><circle cx="160.3" cy="651.3" r="0.97" fill-opacity="0.90"/><circle cx="181.3" cy="640.1" r="1.18" fill-opacity="0.96"/><circle cx="251.0" cy="650.7" r="1.03" fill-opacity="0.96"/><circle cx="158.4" cy="634.2" r="1.33" fill-opacity="0.74"/><circle cx="156.2" cy="706.4" r="1.30" fill-opacity="0.91"/><circle cx="157.6" cy="699.7" r="0.99" fill-opacity="0.94"/><circle cx="204.6" cy="657.3" r="1.25" fill-opacity="0.97"/><circle cx="181.0" cy="640.1" r="1.24" fill-opacity="0.66"/><circle cx="160.9" cy="642.7" r="0.98" fill-opacity="0.64"/><circle cx="186.6" cy="654.5" r="1.37" fill-opacity="0.68"/><circle cx="210.5" cy="644.1" r="1.14" fill-opacity="0.56"/><circle cx="178.8" cy="630.8" r="1.35" fill-opacity="0.80"/><circle cx="171.1" cy="668.4" r="1.46" fill-opacity="0.60"/><circle cx="251.0" cy="664.9" r="1.22" fill-opacity="0.93"/><circle cx="196.9" cy="671.0" r="1.33" fill-opacity="0.99"/><circle cx="198.4" cy="658.0" r="0.98" fill-opacity="0.61"/><circle cx="156.0" cy="690.3" r="1.09" fill-opacity="0.62"/><circle cx="157.7" cy="698.5" r="1.43" fill-opacity="0.85"/><circle cx="182.8" cy="649.4" r="1.11" fill-opacity="0.76"/><circle cx="167.0" cy="666.1" r="1.09" fill-opacity="0.98"/><circle cx="186.3" cy="658.7" r="0.95" fill-opacity="0.72"/><circle cx="207.3" cy="670.7" r="1.06" fill-opacity="0.78"/><circle cx="147.6" cy="651.2" r="1.00" fill-opacity="0.73"/><circle cx="152.3" cy="631.3" r="1.12" fill-opacity="0.65"/><circle cx="221.4" cy="672.9" r="1.36" fill-opacity="0.85"/><circle cx="196.5" cy="656.2" r="1.49" fill-opacity="0.62"/><circle cx="152.6" cy="698.0" r="1.44" fill-opacity="0.83"/><circle cx="164.7" cy="672.4" r="1.23" fill-opacity="0.93"/><circle cx="176.2" cy="632.1" r="1.02" fill-opacity="0.71"/><circle cx="160.3" cy="698.0" r="1.26" fill-opacity="0.83"/><circle cx="209.1" cy="629.8" r="1.39" fill-opacity="0.89"/><circle cx="210.9" cy="673.4" r="1.31" fill-opacity="0.58"/><circle cx="240.6" cy="650.2" r="0.99" fill-opacity="0.67"/><circle cx="239.6" cy="646.3" r="1.36" fill-opacity="0.99"/><circle cx="209.7" cy="660.9" r="1.21" fill-opacity="0.86"/><circle cx="228.6" cy="635.9" r="1.03" fill-opacity="0.66"/><circle cx="241.4" cy="654.5" r="1.26" fill-opacity="0.56"/><circle cx="154.7" cy="651.5" r="1.32" fill-opacity="0.86"/><circle cx="232.8" cy="653.4" r="1.23" fill-opacity="0.76"/><circle cx="206.2" cy="639.2" r="1.44" fill-opacity="0.64"/><circle cx="149.2" cy="667.1" r="1.40" fill-opacity="0.99"/><circle cx="204.1" cy="651.5" r="1.07" fill-opacity="0.98"/><circle cx="173.8" cy="677.2" r="1.03" fill-opacity="0.79"/><circle cx="268.0" cy="640.4" r="1.40" fill-opacity="0.78"/><circle cx="208.7" cy="631.5" r="0.95" fill-opacity="0.77"/><circle cx="204.2" cy="654.3" r="1.03" fill-opacity="0.70"/><circle cx="147.2" cy="691.1" r="1.41" fill-opacity="0.60"/><circle cx="261.5" cy="653.3" r="1.15" fill-opacity="0.73"/><circle cx="192.8" cy="664.6" r="1.10" fill-opacity="0.57"/><circle cx="159.9" cy="697.9" r="1.11" fill-opacity="0.97"/><circle cx="178.7" cy="651.3" r="1.23" fill-opacity="0.64"/><circle cx="238.4" cy="633.6" r="1.35" fill-opacity="0.75"/><circle cx="183.3" cy="633.5" r="1.46" fill-opacity="0.61"/><circle cx="207.0" cy="657.7" r="1.11" fill-opacity="0.88"/><circle cx="271.0" cy="650.8" r="1.31" fill-opacity="0.69"/><circle cx="217.8" cy="661.8" r="1.04" fill-opacity="0.62"/><circle cx="210.1" cy="647.5" r="1.45" fill-opacity="1.00"/><circle cx="204.1" cy="640.9" r="1.06" fill-opacity="0.59"/><circle cx="190.4" cy="637.0" r="1.08" fill-opacity="0.67"/><circle cx="242.2" cy="663.3" r="1.18" fill-opacity="0.79"/><circle cx="194.9" cy="657.2" r="0.98" fill-opacity="0.67"/><circle cx="269.9" cy="639.8" r="1.23" fill-opacity="0.83"/><circle cx="256.6" cy="647.2" r="1.10" fill-opacity="0.66"/><circle cx="197.8" cy="666.1" r="1.47" fill-opacity="0.93"/><circle cx="257.9" cy="631.3" r="0.97" fill-opacity="0.87"/><circle cx="221.6" cy="629.5" r="1.17" fill-opacity="0.97"/><circle cx="270.5" cy="649.9" r="1.01" fill-opacity="0.62"/><circle cx="205.1" cy="674.7" r="0.97" fill-opacity="0.90"/><circle cx="229.0" cy="654.4" r="1.02" fill-opacity="0.66"/><circle cx="161.2" cy="635.3" r="1.24" fill-opacity="0.81"/><circle cx="196.3" cy="647.8" r="1.28" fill-opacity="0.55"/><circle cx="185.3" cy="667.3" r="1.48" fill-opacity="0.84"/><circle cx="176.8" cy="649.8" r="1.48" fill-opacity="0.87"/><circle cx="186.0" cy="631.3" r="1.22" fill-opacity="0.85"/><circle cx="200.3" cy="650.6" r="1.32" fill-opacity="0.97"/><circle cx="175.8" cy="632.3" r="1.14" fill-opacity="0.74"/><circle cx="233.7" cy="645.7" r="1.39" fill-opacity="0.88"/><circle cx="211.1" cy="646.3" r="1.48" fill-opacity="0.69"/><circle cx="251.1" cy="648.4" r="1.07" fill-opacity="0.89"/><circle cx="210.0" cy="644.9" r="1.07" fill-opacity="0.74"/><circle cx="165.6" cy="661.8" r="1.07" fill-opacity="0.99"/><circle cx="165.0" cy="633.8" r="0.98" fill-opacity="0.73"/><circle cx="265.3" cy="656.5" r="1.05" fill-opacity="0.97"/><circle cx="241.8" cy="632.1" r="1.32" fill-opacity="0.72"/><circle cx="194.5" cy="656.7" r="1.04" fill-opacity="0.55"/><circle cx="182.5" cy="658.3" r="1.48" fill-opacity="0.61"/><circle cx="269.5" cy="646.5" r="1.15" fill-opacity="0.92"/><circle cx="251.4" cy="665.0" r="0.98" fill-opacity="0.76"/><circle cx="171.5" cy="659.4" r="1.44" fill-opacity="0.56"/><circle cx="244.4" cy="632.8" r="0.97" fill-opacity="0.58"/><circle cx="263.8" cy="650.6" r="1.36" fill-opacity="0.95"/><circle cx="190.1" cy="651.8" r="1.48" fill-opacity="0.83"/><circle cx="180.3" cy="688.3" r="1.12" fill-opacity="0.67"/><circle cx="147.5" cy="691.5" r="1.45" fill-opacity="0.84"/><circle cx="266.8" cy="631.5" r="1.08" fill-opacity="0.76"/><circle cx="196.1" cy="650.1" r="1.19" fill-opacity="0.77"/><circle cx="264.9" cy="644.5" r="1.39" fill-opacity="0.88"/><circle cx="224.1" cy="656.4" r="1.13" fill-opacity="0.71"/><circle cx="246.3" cy="636.0" r="1.06" fill-opacity="0.89"/><circle cx="178.4" cy="634.8" r="0.97" fill-opacity="0.80"/><circle cx="180.6" cy="636.4" r="1.00" fill-opacity="0.77"/><circle cx="237.1" cy="666.2" r="1.08" fill-opacity="0.74"/><circle cx="231.4" cy="639.4" r="1.41" fill-opacity="0.68"/><circle cx="219.0" cy="660.1" r="1.36" fill-opacity="0.64"/><circle cx="178.4" cy="649.6" r="1.03" fill-opacity="0.95"/><circle cx="220.4" cy="656.3" r="1.17" fill-opacity="1.00"/><circle cx="211.4" cy="648.5" r="1.39" fill-opacity="0.84"/><circle cx="272.9" cy="637.9" r="1.21" fill-opacity="0.92"/><circle cx="152.1" cy="653.6" r="1.02" fill-opacity="0.64"/><circle cx="265.1" cy="660.0" r="1.43" fill-opacity="0.75"/><circle cx="180.0" cy="693.3" r="1.47" fill-opacity="0.60"/><circle cx="174.6" cy="659.7" r="1.03" fill-opacity="0.64"/><circle cx="179.4" cy="678.7" r="1.31" fill-opacity="0.64"/><circle cx="148.4" cy="656.3" r="1.32" fill-opacity="0.63"/><circle cx="186.6" cy="646.2" r="1.39" fill-opacity="0.80"/><circle cx="155.0" cy="637.8" r="1.17" fill-opacity="0.80"/><circle cx="228.2" cy="637.0" r="1.04" fill-opacity="0.86"/><circle cx="199.0" cy="652.7" r="1.12" fill-opacity="0.98"/><circle cx="186.7" cy="676.0" r="1.15" fill-opacity="0.74"/><circle cx="193.2" cy="645.7" r="1.35" fill-opacity="0.64"/><circle cx="147.7" cy="703.4" r="1.18" fill-opacity="0.92"/><circle cx="205.5" cy="642.8" r="0.96" fill-opacity="0.80"/><circle cx="158.3" cy="680.5" r="1.15" fill-opacity="0.78"/><circle cx="165.5" cy="652.7" r="1.24" fill-opacity="0.97"/><circle cx="160.8" cy="669.7" r="1.39" fill-opacity="0.99"/><circle cx="172.1" cy="639.9" r="1.47" fill-opacity="0.99"/><circle cx="208.3" cy="633.9" r="1.46" fill-opacity="0.72"/><circle cx="251.7" cy="642.6" r="1.38" fill-opacity="0.65"/><circle cx="252.3" cy="644.5" r="1.07" fill-opacity="0.73"/><circle cx="212.8" cy="661.0" r="1.02" fill-opacity="0.66"/><circle cx="152.2" cy="675.6" r="1.37" fill-opacity="0.57"/><circle cx="253.5" cy="639.2" r="1.28" fill-opacity="0.80"/><circle cx="226.6" cy="654.6" r="1.18" fill-opacity="0.81"/><circle cx="201.1" cy="683.5" r="1.20" fill-opacity="0.75"/><circle cx="150.0" cy="680.2" r="1.22" fill-opacity="0.66"/><circle cx="205.2" cy="644.2" r="1.21" fill-opacity="0.60"/><circle cx="163.3" cy="664.8" r="1.00" fill-opacity="0.75"/><circle cx="211.8" cy="632.8" r="1.30" fill-opacity="0.59"/><circle cx="212.0" cy="633.9" r="1.23" fill-opacity="0.72"/><circle cx="267.8" cy="640.7" r="1.42" fill-opacity="1.00"/><circle cx="263.3" cy="643.0" r="1.38" fill-opacity="0.97"/><circle cx="155.3" cy="658.3" r="1.37" fill-opacity="0.62"/><circle cx="260.9" cy="652.0" r="1.40" fill-opacity="0.61"/><circle cx="173.5" cy="651.1" r="1.23" fill-opacity="0.69"/><circle cx="151.7" cy="644.4" r="1.04" fill-opacity="0.97"/><circle cx="168.4" cy="693.9" r="1.01" fill-opacity="0.79"/><circle cx="227.8" cy="659.0" r="1.43" fill-opacity="0.80"/><circle cx="227.0" cy="661.8" r="1.39" fill-opacity="0.67"/><circle cx="203.2" cy="644.0" r="1.36" fill-opacity="0.57"/><circle cx="251.1" cy="650.3" r="1.30" fill-opacity="0.99"/><circle cx="186.7" cy="629.6" r="0.97" fill-opacity="0.62"/><circle cx="225.2" cy="664.9" r="1.23" fill-opacity="0.95"/><circle cx="163.8" cy="648.1" r="1.31" fill-opacity="0.56"/><circle cx="147.3" cy="658.6" r="1.01" fill-opacity="0.71"/><circle cx="175.5" cy="677.4" r="1.27" fill-opacity="0.64"/><circle cx="226.2" cy="668.4" r="1.02" fill-opacity="0.97"/><circle cx="177.9" cy="641.7" r="1.00" fill-opacity="0.84"/><circle cx="198.0" cy="651.2" r="0.96" fill-opacity="0.84"/><circle cx="218.4" cy="658.2" r="1.31" fill-opacity="0.75"/><circle cx="152.6" cy="673.1" r="1.17" fill-opacity="0.66"/><circle cx="154.4" cy="693.4" r="0.96" fill-opacity="0.80"/><circle cx="266.5" cy="641.2" r="1.06" fill-opacity="0.82"/><circle cx="211.4" cy="682.1" r="1.40" fill-opacity="0.63"/><circle cx="186.3" cy="654.1" r="0.98" fill-opacity="0.95"/><circle cx="147.8" cy="698.7" r="1.36" fill-opacity="0.76"/><circle cx="241.2" cy="666.6" r="1.07" fill-opacity="0.60"/><circle cx="176.5" cy="632.7" r="1.13" fill-opacity="0.89"/><circle cx="237.4" cy="651.3" r="1.25" fill-opacity="0.75"/><circle cx="180.7" cy="682.1" r="1.48" fill-opacity="0.65"/><circle cx="258.8" cy="630.7" r="1.09" fill-opacity="0.66"/><circle cx="241.8" cy="656.3" r="1.43" fill-opacity="0.70"/><circle cx="219.4" cy="654.7" r="1.07" fill-opacity="0.83"/><circle cx="156.9" cy="704.2" r="1.03" fill-opacity="0.56"/><circle cx="160.5" cy="705.7" r="1.14" fill-opacity="0.61"/><circle cx="150.6" cy="632.9" r="1.33" fill-opacity="0.84"/><circle cx="155.4" cy="677.9" r="1.15" fill-opacity="0.92"/><circle cx="155.4" cy="700.7" r="1.45" fill-opacity="0.97"/><circle cx="160.6" cy="646.4" r="1.01" fill-opacity="0.57"/><circle cx="227.2" cy="653.1" r="1.00" fill-opacity="0.59"/><circle cx="243.2" cy="646.3" r="1.13" fill-opacity="0.74"/><circle cx="149.7" cy="650.5" r="1.11" fill-opacity="0.87"/><circle cx="193.7" cy="655.8" r="1.48" fill-opacity="0.78"/><circle cx="150.9" cy="663.4" r="1.19" fill-opacity="0.90"/><circle cx="191.0" cy="687.3" r="1.25" fill-opacity="0.65"/><circle cx="256.5" cy="637.0" r="1.40" fill-opacity="0.63"/><circle cx="147.2" cy="646.1" r="1.37" fill-opacity="0.99"/><circle cx="147.6" cy="669.7" r="1.22" fill-opacity="0.91"/><circle cx="170.4" cy="670.1" r="1.14" fill-opacity="0.92"/><circle cx="183.0" cy="647.1" r="1.33" fill-opacity="0.77"/><circle cx="161.0" cy="681.7" r="0.99" fill-opacity="0.90"/><circle cx="226.7" cy="658.7" r="1.17" fill-opacity="0.73"/><circle cx="260.1" cy="636.6" r="1.44" fill-opacity="0.56"/><circle cx="173.2" cy="651.1" r="1.45" fill-opacity="0.78"/><circle cx="176.7" cy="667.3" r="1.24" fill-opacity="0.89"/><circle cx="191.3" cy="656.3" r="1.04" fill-opacity="0.93"/><circle cx="168.5" cy="665.5" r="1.38" fill-opacity="0.81"/><circle cx="163.0" cy="667.4" r="1.44" fill-opacity="0.66"/><circle cx="171.3" cy="654.2" r="1.34" fill-opacity="0.93"/><circle cx="166.6" cy="642.3" r="1.09" fill-opacity="0.70"/><circle cx="213.3" cy="642.7" r="1.13" fill-opacity="0.64"/><circle cx="159.9" cy="661.0" r="1.49" fill-opacity="0.91"/><circle cx="240.1" cy="665.2" r="1.06" fill-opacity="0.84"/><circle cx="160.6" cy="646.4" r="1.16" fill-opacity="0.57"/><circle cx="235.1" cy="670.5" r="1.30" fill-opacity="0.76"/><circle cx="165.0" cy="679.0" r="1.17" fill-opacity="0.88"/><circle cx="262.3" cy="664.8" r="1.27" fill-opacity="0.89"/><circle cx="200.5" cy="648.2" r="1.35" fill-opacity="0.95"/><circle cx="228.5" cy="666.7" r="1.12" fill-opacity="0.83"/><circle cx="159.4" cy="663.9" r="1.38" fill-opacity="0.87"/><circle cx="227.0" cy="650.0" r="1.18" fill-opacity="0.75"/><circle cx="225.9" cy="663.1" r="1.32" fill-opacity="0.97"/><circle cx="170.2" cy="683.2" r="1.38" fill-opacity="0.72"/><circle cx="151.8" cy="674.1" r="1.04" fill-opacity="0.90"/><circle cx="159.8" cy="676.6" r="1.25" fill-opacity="0.87"/><circle cx="212.0" cy="681.9" r="1.41" fill-opacity="0.78"/><circle cx="173.7" cy="685.6" r="1.17" fill-opacity="0.89"/><circle cx="192.1" cy="634.1" r="1.10" fill-opacity="0.73"/><circle cx="148.7" cy="663.8" r="1.18" fill-opacity="0.86"/><circle cx="191.7" cy="651.2" r="1.07" fill-opacity="0.88"/><circle cx="174.8" cy="695.2" r="1.17" fill-opacity="0.65"/><circle cx="163.4" cy="693.2" r="1.40" fill-opacity="0.84"/><circle cx="206.6" cy="675.6" r="1.07" fill-opacity="0.98"/><circle cx="191.8" cy="681.9" r="1.40" fill-opacity="0.92"/><circle cx="206.4" cy="653.6" r="1.25" fill-opacity="0.61"/><circle cx="252.9" cy="658.6" r="1.42" fill-opacity="0.67"/><circle cx="194.8" cy="650.3" r="1.18" fill-opacity="0.63"/><circle cx="147.3" cy="688.7" r="1.10" fill-opacity="0.66"/><circle cx="185.3" cy="668.8" r="1.19" fill-opacity="0.84"/><circle cx="230.7" cy="659.2" r="1.46" fill-opacity="0.93"/><circle cx="154.2" cy="697.4" r="1.45" fill-opacity="0.90"/><circle cx="164.8" cy="697.7" r="1.30" fill-opacity="0.56"/><circle cx="148.5" cy="707.5" r="1.31" fill-opacity="0.66"/><circle cx="159.9" cy="641.2" r="1.08" fill-opacity="0.90"/><circle cx="191.0" cy="642.0" r="1.45" fill-opacity="0.91"/><circle cx="172.1" cy="686.3" r="1.24" fill-opacity="0.88"/><circle cx="217.5" cy="651.2" r="1.08" fill-opacity="0.61"/><circle cx="209.6" cy="634.3" r="1.21" fill-opacity="0.61"/><circle cx="209.4" cy="670.4" r="1.25" fill-opacity="0.94"/><circle cx="147.8" cy="698.4" r="1.21" fill-opacity="0.80"/><circle cx="194.6" cy="663.8" r="1.48" fill-opacity="0.58"/><circle cx="150.6" cy="679.5" r="1.33" fill-opacity="0.97"/><circle cx="211.8" cy="669.2" r="1.44" fill-opacity="0.57"/><circle cx="193.5" cy="668.4" r="1.24" fill-opacity="0.90"/><circle cx="173.8" cy="665.2" r="1.18" fill-opacity="0.80"/><circle cx="252.0" cy="653.5" r="1.41" fill-opacity="0.73"/><circle cx="211.0" cy="651.8" r="1.23" fill-opacity="0.99"/><circle cx="189.0" cy="655.5" r="1.11" fill-opacity="0.81"/><circle cx="152.1" cy="688.8" r="1.44" fill-opacity="0.80"/><circle cx="153.3" cy="654.1" r="0.95" fill-opacity="0.64"/><circle cx="233.5" cy="646.9" r="1.32" fill-opacity="0.76"/><circle cx="243.9" cy="637.8" r="1.05" fill-opacity="0.57"/><circle cx="230.3" cy="659.7" r="1.40" fill-opacity="0.90"/><circle cx="218.4" cy="650.7" r="1.12" fill-opacity="0.74"/><circle cx="187.4" cy="664.8" r="1.30" fill-opacity="0.97"/><circle cx="153.9" cy="676.0" r="0.97" fill-opacity="0.60"/><circle cx="148.8" cy="661.2" r="1.28" fill-opacity="0.97"/><circle cx="199.4" cy="637.9" r="1.30" fill-opacity="0.65"/><circle cx="166.3" cy="630.8" r="0.95" fill-opacity="0.86"/><circle cx="158.2" cy="700.8" r="1.02" fill-opacity="0.56"/><circle cx="238.4" cy="649.4" r="1.35" fill-opacity="0.63"/><circle cx="153.4" cy="693.0" r="1.34" fill-opacity="0.93"/><circle cx="239.7" cy="636.4" r="1.30" fill-opacity="0.87"/><circle cx="238.1" cy="630.4" r="0.96" fill-opacity="0.84"/><circle cx="250.8" cy="636.0" r="1.12" fill-opacity="0.88"/><circle cx="168.1" cy="700.1" r="1.22" fill-opacity="0.58"/><circle cx="193.7" cy="676.6" r="1.19" fill-opacity="0.85"/><circle cx="165.4" cy="694.9" r="1.15" fill-opacity="0.84"/><circle cx="227.0" cy="663.8" r="1.16" fill-opacity="0.90"/><circle cx="219.0" cy="653.5" r="0.98" fill-opacity="0.99"/><circle cx="189.2" cy="679.2" r="1.49" fill-opacity="0.92"/><circle cx="223.3" cy="654.8" r="1.19" fill-opacity="0.95"/><circle cx="194.8" cy="685.7" r="1.28" fill-opacity="0.95"/><circle cx="249.6" cy="652.7" r="0.95" fill-opacity="0.67"/></g>
<path d="M139.00,685.00 C141.93,687.55 152.07,695.20 156.60,700.30 C161.13,705.40 163.32,710.50 166.20,715.60 C169.08,720.70 171.03,726.12 173.90,730.90 C176.77,735.68 179.58,740.47 183.40,744.30 C187.22,748.13 192.02,751.50 196.80,753.90 C201.58,756.30 206.68,757.90 212.10,758.70 C217.52,759.50 223.88,759.33 229.30,758.70 C234.72,758.07 239.82,757.30 244.60,754.90 C249.38,752.50 254.48,748.93 258.00,744.30 C261.52,739.67 263.47,733.78 265.70,727.10 C267.93,720.42 269.97,712.17 271.40,704.20 C272.83,696.23 273.67,688.23 274.30,679.30 C274.93,670.37 275.20,660.23 275.20,650.60 C275.20,640.97 274.45,626.35 274.30,621.50" fill="none" stroke="#505050" stroke-opacity="0.5" stroke-width="14"/>
<path d="M139.00,685.00 C141.93,687.55 152.07,695.20 156.60,700.30 C161.13,705.40 163.32,710.50 166.20,715.60 C169.08,720.70 171.03,726.12 173.90,730.90 C176.77,735.68 179.58,740.47 183.40,744.30 C187.22,748.13 192.02,751.50 196.80,753.90 C201.58,756.30 206.68,757.90 212.10,758.70 C217.52,759.50 223.88,759.33 229.30,758.70 C234.72,758.07 239.82,757.30 244.60,754.90 C249.38,752.50 254.48,748.93 258.00,744.30 C261.52,739.67 263.47,733.78 265.70,727.10 C267.93,720.42 269.97,712.17 271.40,704.20 C272.83,696.23 273.67,688.23 274.30,679.30 C274.93,670.37 275.20,660.23 275.20,650.60 C275.20,640.97 274.45,626.35 274.30,621.50" fill="none" stroke="#fff" stroke-opacity="0.8" stroke-width="14" filter="url(#k43)"/>
<path d="M139.00,685.00 C141.93,687.55 152.07,695.20 156.60,700.30 C161.13,705.40 163.32,710.50 166.20,715.60 C169.08,720.70 171.03,726.12 173.90,730.90 C176.77,735.68 179.58,740.47 183.40,744.30 C187.22,748.13 192.02,751.50 196.80,753.90 C201.58,756.30 206.68,757.90 212.10,758.70 C217.52,759.50 223.88,759.33 229.30,758.70 C234.72,758.07 239.82,757.30 244.60,754.90 C249.38,752.50 254.48,748.93 258.00,744.30 C261.52,739.67 263.47,733.78 265.70,727.10 C267.93,720.42 269.97,712.17 271.40,704.20 C272.83,696.23 273.67,688.23 274.30,679.30 C274.93,670.37 275.20,660.23 275.20,650.60 C275.20,640.97 274.45,626.35 274.30,621.50" fill="none" stroke="#fff" stroke-opacity="0.7" stroke-width="14" filter="url(#k44)"/>
</g>
<line x1="158.6" y1="713.7" x2="276.7" y2="658.3" stroke="#f4f4f4" stroke-width="1.7" stroke-dasharray="12,10.4" stroke-dashoffset="6.6"/>
<line x1="252.3" y1="758.9" x2="276.8" y2="758.9" stroke="#a0a0a0" stroke-width="1.0"/>
</g>
<clipPath id="ci7"><rect x="14" y="767" width="131" height="130"/></clipPath>
<clipPath id="ct7"><path d="M22.60,757.00 C3.95,761.85 21.60,776.47 21.60,786.10 C21.60,795.73 21.32,806.18 22.60,814.80 C23.88,823.42 26.27,831.10 29.30,837.80 C32.33,844.50 36.98,849.58 40.80,855.00 C44.62,860.42 48.07,865.52 52.20,870.30 C56.33,875.08 61.13,879.88 65.60,883.70 C70.07,887.52 75.17,891.07 79.00,893.20 C82.83,895.33 85.42,896.18 88.60,896.50 C91.78,896.82 95.23,896.60 98.10,895.10 C100.97,893.60 103.25,892.28 105.80,887.50 C108.35,882.72 111.17,873.73 113.40,866.40 C115.63,859.07 117.43,851.15 119.20,843.50 C120.97,835.85 122.42,827.83 124.00,820.50 C125.58,813.17 127.27,805.87 128.70,799.50 C130.13,793.13 131.80,789.38 132.60,782.30 C133.40,775.22 151.83,761.22 133.50,757.00 C115.17,752.78 41.25,752.15 22.60,757.00Z"/></clipPath>
<rect x="14" y="767" width="131" height="130" fill="#000"/>
<g clip-path="url(#ci7)">
<g clip-path="url(#ct7)">
<path d="M22.60,757.00 C3.95,761.85 21.60,776.47 21.60,786.10 C21.60,795.73 21.32,806.18 22.60,814.80 C23.88,823.42 26.27,831.10 29.30,837.80 C32.33,844.50 36.98,849.58 40.80,855.00 C44.62,860.42 48.07,865.52 52.20,870.30 C56.33,875.08 61.13,879.88 65.60,883.70 C70.07,887.52 75.17,891.07 79.00,893.20 C82.83,895.33 85.42,896.18 88.60,896.50 C91.78,896.82 95.23,896.60 98.10,895.10 C100.97,893.60 103.25,892.28 105.80,887.50 C108.35,882.72 111.17,873.73 113.40,866.40 C115.63,859.07 117.43,851.15 119.20,843.50 C120.97,835.85 122.42,827.83 124.00,820.50 C125.58,813.17 127.27,805.87 128.70,799.50 C130.13,793.13 131.80,789.38 132.60,782.30 C133.40,775.22 151.83,761.22 133.50,757.00 C115.17,752.78 41.25,752.15 22.60,757.00Z" fill="#fff" fill-opacity="0.75" filter="url(#k45)"/>
<path d="M22.60,757.00 C3.95,761.85 21.60,776.47 21.60,786.10 C21.60,795.73 21.32,806.18 22.60,814.80 C23.88,823.42 26.27,831.10 29.30,837.80 C32.33,844.50 36.98,849.58 40.80,855.00 C44.62,860.42 48.07,865.52 52.20,870.30 C56.33,875.08 61.13,879.88 65.60,883.70 C70.07,887.52 75.17,891.07 79.00,893.20 C82.83,895.33 85.42,896.18 88.60,896.50 C91.78,896.82 95.23,896.60 98.10,895.10 C100.97,893.60 103.25,892.28 105.80,887.50 C108.35,882.72 111.17,873.73 113.40,866.40 C115.63,859.07 117.43,851.15 119.20,843.50 C120.97,835.85 122.42,827.83 124.00,820.50 C125.58,813.17 127.27,805.87 128.70,799.50 C130.13,793.13 131.80,789.38 132.60,782.30 C133.40,775.22 151.83,761.22 133.50,757.00 C115.17,752.78 41.25,752.15 22.60,757.00Z" fill="#fff" fill-opacity="0.8" filter="url(#k46)"/>
<path d="M24.00,792.00 C40.17,788.67 110.17,797.83 126.00,807.00 C141.83,816.17 121.83,837.83 119.00,847.00 C116.17,856.17 119.83,859.50 109.00,862.00 C98.17,864.50 67.33,867.83 54.00,862.00 C40.67,856.17 34.00,838.67 29.00,827.00 C24.00,815.33 7.83,795.33 24.00,792.00Z" fill="#fff" fill-opacity="0.9" filter="url(#k47)"/>
<path d="M39.00,822.00 C48.17,815.83 102.33,817.00 114.00,822.00 C125.67,827.00 118.17,845.83 109.00,852.00 C99.83,858.17 70.67,864.00 59.00,859.00 C47.33,854.00 29.83,828.17 39.00,822.00Z" fill="#fff" fill-opacity="0.75" filter="url(#k48)"/>
<path d="M54.00,857.00 C56.50,853.33 66.50,851.67 74.00,851.00 C81.50,850.33 94.00,850.00 99.00,853.00 C104.00,856.00 104.83,864.00 104.00,869.00 C103.17,874.00 99.00,880.50 94.00,883.00 C89.00,885.50 79.83,885.67 74.00,884.00 C68.17,882.33 62.33,877.50 59.00,873.00 C55.67,868.50 51.50,860.67 54.00,857.00Z" fill="#fff" fill-opacity="1.0" filter="url(#k49)"/>
<path d="M44.00,847.00 C47.67,841.17 63.17,837.83 74.00,837.00 C84.83,836.17 102.67,836.17 109.00,842.00 C115.33,847.83 113.67,864.50 112.00,872.00 C110.33,879.50 105.33,884.17 99.00,887.00 C92.67,889.83 81.83,891.50 74.00,889.00 C66.17,886.50 57.00,879.00 52.00,872.00 C47.00,865.00 40.33,852.83 44.00,847.00Z" fill="#fff" fill-opacity="0.9" filter="url(#k50)"/>
<g fill="#a0a0a0"><circle cx="69.4" cy="780.7" r="0.76" fill-opacity="0.94"/><circle cx="123.4" cy="768.4" r="0.92" fill-opacity="0.83"/><circle cx="99.2" cy="784.0" r="0.99" fill-opacity="0.62"/><circle cx="41.5" cy="769.7" r="0.90" fill-opacity="0.97"/><circle cx="85.2" cy="797.5" r="0.85" fill-opacity="0.89"/><circle cx="24.6" cy="777.2" r="0.97" fill-opacity="0.88"/><circle cx="64.3" cy="768.7" r="0.81" fill-opacity="0.64"/><circle cx="121.0" cy="767.3" r="0.85" fill-opacity="0.77"/><circle cx="124.4" cy="769.7" r="0.94" fill-opacity="0.60"/><circle cx="37.2" cy="765.3" r="0.73" fill-opacity="0.79"/><circle cx="14.2" cy="768.6" r="0.90" fill-opacity="0.96"/><circle cx="64.1" cy="781.7" r="0.96" fill-opacity="0.59"/><circle cx="83.9" cy="772.2" r="0.94" fill-opacity="0.98"/><circle cx="87.2" cy="771.3" r="0.81" fill-opacity="1.00"/><circle cx="95.6" cy="789.8" r="1.01" fill-opacity="0.59"/><circle cx="84.4" cy="784.0" r="0.86" fill-opacity="0.99"/><circle cx="83.2" cy="765.8" r="1.02" fill-opacity="0.70"/><circle cx="65.8" cy="774.0" r="0.88" fill-opacity="0.70"/><circle cx="112.1" cy="785.9" r="0.98" fill-opacity="0.66"/><circle cx="103.5" cy="782.9" r="0.79" fill-opacity="0.98"/><circle cx="61.7" cy="780.7" r="1.04" fill-opacity="0.72"/><circle cx="94.8" cy="772.2" r="1.04" fill-opacity="0.67"/><circle cx="13.5" cy="767.6" r="0.78" fill-opacity="0.72"/><circle cx="56.0" cy="770.9" r="0.92" fill-opacity="0.61"/><circle cx="98.3" cy="767.8" r="0.88" fill-opacity="0.87"/><circle cx="106.8" cy="781.1" r="1.05" fill-opacity="0.63"/><circle cx="100.7" cy="797.4" r="1.05" fill-opacity="0.77"/><circle cx="24.3" cy="767.0" r="0.91" fill-opacity="0.63"/><circle cx="90.1" cy="768.5" r="1.01" fill-opacity="0.65"/><circle cx="68.6" cy="788.5" r="0.86" fill-opacity="0.63"/><circle cx="122.2" cy="787.9" r="0.91" fill-opacity="0.79"/><circle cx="124.8" cy="767.8" r="0.96" fill-opacity="0.79"/><circle cx="101.4" cy="769.3" r="0.98" fill-opacity="0.75"/><circle cx="72.8" cy="791.7" r="0.72" fill-opacity="0.82"/><circle cx="102.5" cy="791.2" r="1.05" fill-opacity="0.57"/><circle cx="86.0" cy="790.8" r="0.97" fill-opacity="0.73"/><circle cx="20.6" cy="772.9" r="0.94" fill-opacity="0.63"/><circle cx="70.3" cy="787.5" r="0.71" fill-opacity="0.90"/><circle cx="25.2" cy="779.6" r="0.79" fill-opacity="0.90"/><circle cx="35.8" cy="774.3" r="0.74" fill-opacity="0.60"/><circle cx="128.3" cy="806.0" r="0.85" fill-opacity="0.88"/><circle cx="70.0" cy="786.9" r="0.85" fill-opacity="0.84"/><circle cx="41.3" cy="775.8" r="0.91" fill-opacity="0.64"/><circle cx="14.8" cy="769.3" r="1.02" fill-opacity="0.58"/><circle cx="87.1" cy="774.3" r="0.72" fill-opacity="0.67"/><circle cx="123.8" cy="804.1" r="1.05" fill-opacity="0.96"/><circle cx="132.0" cy="769.0" r="0.83" fill-opacity="0.66"/><circle cx="86.9" cy="785.7" r="0.84" fill-opacity="0.93"/><circle cx="61.5" cy="773.8" r="0.81" fill-opacity="0.76"/><circle cx="87.7" cy="788.9" r="0.88" fill-opacity="0.63"/><circle cx="61.9" cy="778.7" r="0.77" fill-opacity="0.79"/><circle cx="93.7" cy="770.8" r="0.95" fill-opacity="0.70"/><circle cx="67.4" cy="790.5" r="1.00" fill-opacity="0.95"/><circle cx="103.0" cy="773.9" r="0.92" fill-opacity="0.70"/><circle cx="75.8" cy="769.2" r="0.99" fill-opacity="0.68"/><circle cx="78.2" cy="768.0" r="0.70" fill-opacity="0.96"/><circle cx="17.2" cy="771.3" r="0.77" fill-opacity="0.59"/><circle cx="92.5" cy="781.6" r="1.06" fill-opacity="0.78"/><circle cx="56.5" cy="776.3" r="0.83" fill-opacity="0.72"/><circle cx="119.7" cy="789.0" r="0.70" fill-opacity="0.86"/><circle cx="119.4" cy="793.4" r="1.06" fill-opacity="0.89"/><circle cx="45.8" cy="771.0" r="0.88" fill-opacity="0.86"/><circle cx="40.8" cy="778.9" r="1.00" fill-opacity="0.71"/><circle cx="86.5" cy="787.9" r="1.07" fill-opacity="0.56"/><circle cx="95.0" cy="769.1" r="0.75" fill-opacity="0.64"/><circle cx="38.9" cy="773.5" r="0.97" fill-opacity="0.74"/><circle cx="128.1" cy="795.1" r="0.90" fill-opacity="0.58"/><circle cx="112.2" cy="781.7" r="0.89" fill-opacity="0.83"/><circle cx="131.5" cy="788.4" r="1.07" fill-opacity="0.98"/><circle cx="22.5" cy="779.9" r="1.06" fill-opacity="0.90"/><circle cx="132.2" cy="772.8" r="0.91" fill-opacity="0.97"/><circle cx="78.9" cy="793.2" r="1.09" fill-opacity="0.63"/><circle cx="84.1" cy="773.4" r="1.03" fill-opacity="0.68"/><circle cx="28.1" cy="777.5" r="0.71" fill-opacity="0.73"/><circle cx="108.7" cy="784.1" r="1.09" fill-opacity="0.57"/><circle cx="33.5" cy="771.0" r="0.93" fill-opacity="0.64"/><circle cx="94.7" cy="787.0" r="0.93" fill-opacity="0.93"/><circle cx="30.9" cy="780.9" r="1.08" fill-opacity="0.73"/><circle cx="47.4" cy="785.2" r="0.77" fill-opacity="0.93"/><circle cx="90.9" cy="769.0" r="1.09" fill-opacity="0.78"/><circle cx="129.7" cy="779.6" r="0.71" fill-opacity="0.64"/><circle cx="37.6" cy="765.6" r="0.89" fill-opacity="0.61"/><circle cx="50.5" cy="774.5" r="0.77" fill-opacity="0.84"/><circle cx="128.1" cy="780.5" r="0.96" fill-opacity="0.70"/><circle cx="125.5" cy="788.2" r="0.71" fill-opacity="0.88"/><circle cx="38.0" cy="767.0" r="0.71" fill-opacity="0.93"/><circle cx="100.0" cy="780.0" r="0.92" fill-opacity="0.87"/><circle cx="57.1" cy="792.8" r="1.06" fill-opacity="0.71"/><circle cx="50.8" cy="784.2" r="0.82" fill-opacity="0.91"/><circle cx="78.0" cy="796.4" r="0.74" fill-opacity="0.95"/></g>
<path d="M22.60,757.00 C22.43,761.85 21.60,776.47 21.60,786.10 C21.60,795.73 21.32,806.18 22.60,814.80 C23.88,823.42 26.27,831.10 29.30,837.80 C32.33,844.50 36.98,849.58 40.80,855.00 C44.62,860.42 48.07,865.52 52.20,870.30 C56.33,875.08 61.13,879.88 65.60,883.70 C70.07,887.52 75.17,891.07 79.00,893.20 C82.83,895.33 85.42,896.18 88.60,896.50 C91.78,896.82 95.23,896.60 98.10,895.10 C100.97,893.60 103.25,892.28 105.80,887.50 C108.35,882.72 111.17,873.73 113.40,866.40 C115.63,859.07 117.43,851.15 119.20,843.50 C120.97,835.85 122.42,827.83 124.00,820.50 C125.58,813.17 127.27,805.87 128.70,799.50 C130.13,793.13 131.80,789.38 132.60,782.30 C133.40,775.22 133.35,761.22 133.50,757.00" fill="none" stroke="#505050" stroke-opacity="0.5" stroke-width="15"/>
<path d="M22.60,757.00 C22.43,761.85 21.60,776.47 21.60,786.10 C21.60,795.73 21.32,806.18 22.60,814.80 C23.88,823.42 26.27,831.10 29.30,837.80 C32.33,844.50 36.98,849.58 40.80,855.00 C44.62,860.42 48.07,865.52 52.20,870.30 C56.33,875.08 61.13,879.88 65.60,883.70 C70.07,887.52 75.17,891.07 79.00,893.20 C82.83,895.33 85.42,896.18 88.60,896.50 C91.78,896.82 95.23,896.60 98.10,895.10 C100.97,893.60 103.25,892.28 105.80,887.50 C108.35,882.72 111.17,873.73 113.40,866.40 C115.63,859.07 117.43,851.15 119.20,843.50 C120.97,835.85 122.42,827.83 124.00,820.50 C125.58,813.17 127.27,805.87 128.70,799.50 C130.13,793.13 131.80,789.38 132.60,782.30 C133.40,775.22 133.35,761.22 133.50,757.00" fill="none" stroke="#fff" stroke-opacity="0.8" stroke-width="15" filter="url(#k51)"/>
<path d="M22.60,757.00 C22.43,761.85 21.60,776.47 21.60,786.10 C21.60,795.73 21.32,806.18 22.60,814.80 C23.88,823.42 26.27,831.10 29.30,837.80 C32.33,844.50 36.98,849.58 40.80,855.00 C44.62,860.42 48.07,865.52 52.20,870.30 C56.33,875.08 61.13,879.88 65.60,883.70 C70.07,887.52 75.17,891.07 79.00,893.20 C82.83,895.33 85.42,896.18 88.60,896.50 C91.78,896.82 95.23,896.60 98.10,895.10 C100.97,893.60 103.25,892.28 105.80,887.50 C108.35,882.72 111.17,873.73 113.40,866.40 C115.63,859.07 117.43,851.15 119.20,843.50 C120.97,835.85 122.42,827.83 124.00,820.50 C125.58,813.17 127.27,805.87 128.70,799.50 C130.13,793.13 131.80,789.38 132.60,782.30 C133.40,775.22 133.35,761.22 133.50,757.00" fill="none" stroke="#fff" stroke-opacity="0.6" stroke-width="15" filter="url(#k52)"/>
</g>
<line x1="15.9" y1="784.6" x2="125.9" y2="810.0" stroke="#f4f4f4" stroke-width="1.7" stroke-dasharray="11,11.5" stroke-dashoffset="4.8"/>
<line x1="124.0" y1="894.4" x2="141.8" y2="894.4" stroke="#a0a0a0" stroke-width="1.0"/>
</g>
<clipPath id="ci8"><rect x="149" y="767" width="131" height="130"/></clipPath>
<clipPath id="ct8"><path d="M139.00,757.00 C157.23,749.92 228.88,753.73 248.40,757.00 C267.92,760.27 253.87,770.78 256.10,776.60 C258.33,782.42 259.88,785.53 261.80,791.90 C263.72,798.27 266.32,806.83 267.60,814.80 C268.88,822.77 269.35,832.68 269.50,839.70 C269.65,846.72 269.78,851.17 268.50,856.90 C267.22,862.63 264.82,869.32 261.80,874.10 C258.78,878.88 255.18,882.57 250.40,885.60 C245.62,888.63 238.53,892.15 233.10,892.30 C227.67,892.45 223.22,889.22 217.80,886.50 C212.38,883.78 206.33,880.62 200.60,876.00 C194.87,871.38 188.82,865.17 183.40,858.80 C177.98,852.43 172.57,844.82 168.10,837.80 C163.63,830.78 161.45,823.08 156.60,816.70 C151.75,810.32 141.93,809.45 139.00,799.50 C136.07,789.55 120.77,764.08 139.00,757.00Z"/></clipPath>
<rect x="149" y="767" width="131" height="130" fill="#000"/>
<g clip-path="url(#ci8)">
<g clip-path="url(#ct8)">
<path d="M139.00,757.00 C157.23,749.92 228.88,753.73 248.40,757.00 C267.92,760.27 253.87,770.78 256.10,776.60 C258.33,782.42 259.88,785.53 261.80,791.90 C263.72,798.27 266.32,806.83 267.60,814.80 C268.88,822.77 269.35,832.68 269.50,839.70 C269.65,846.72 269.78,851.17 268.50,856.90 C267.22,862.63 264.82,869.32 261.80,874.10 C258.78,878.88 255.18,882.57 250.40,885.60 C245.62,888.63 238.53,892.15 233.10,892.30 C227.67,892.45 223.22,889.22 217.80,886.50 C212.38,883.78 206.33,880.62 200.60,876.00 C194.87,871.38 188.82,865.17 183.40,858.80 C177.98,852.43 172.57,844.82 168.10,837.80 C163.63,830.78 161.45,823.08 156.60,816.70 C151.75,810.32 141.93,809.45 139.00,799.50 C136.07,789.55 120.77,764.08 139.00,757.00Z" fill="#fff" fill-opacity="0.75" filter="url(#k53)"/>
<path d="M139.00,757.00 C157.23,749.92 228.88,753.73 248.40,757.00 C267.92,760.27 253.87,770.78 256.10,776.60 C258.33,782.42 259.88,785.53 261.80,791.90 C263.72,798.27 266.32,806.83 267.60,814.80 C268.88,822.77 269.35,832.68 269.50,839.70 C269.65,846.72 269.78,851.17 268.50,856.90 C267.22,862.63 264.82,869.32 261.80,874.10 C258.78,878.88 255.18,882.57 250.40,885.60 C245.62,888.63 238.53,892.15 233.10,892.30 C227.67,892.45 223.22,889.22 217.80,886.50 C212.38,883.78 206.33,880.62 200.60,876.00 C194.87,871.38 188.82,865.17 183.40,858.80 C177.98,852.43 172.57,844.82 168.10,837.80 C163.63,830.78 161.45,823.08 156.60,816.70 C151.75,810.32 141.93,809.45 139.00,799.50 C136.07,789.55 120.77,764.08 139.00,757.00Z" fill="#fff" fill-opacity="0.85" filter="url(#k54)"/>
<path d="M164.00,837.00 C165.67,827.00 193.17,813.67 209.00,807.00 C224.83,800.33 249.83,787.00 259.00,797.00 C268.17,807.00 268.17,852.33 264.00,867.00 C259.83,881.67 244.83,885.00 234.00,885.00 C223.17,885.00 210.67,875.00 199.00,867.00 C187.33,859.00 162.33,847.00 164.00,837.00Z" fill="#fff" fill-opacity="0.9" filter="url(#k55)"/>
<path d="M164.00,837.00 C165.67,827.00 193.17,813.67 209.00,807.00 C224.83,800.33 249.83,787.00 259.00,797.00 C268.17,807.00 268.17,852.33 264.00,867.00 C259.83,881.67 244.83,885.00 234.00,885.00 C223.17,885.00 210.67,875.00 199.00,867.00 C187.33,859.00 162.33,847.00 164.00,837.00Z" fill="#fff" fill-opacity="0.9" filter="url(#k56)"/>
<path d="M164.00,837.00 C165.67,827.00 193.17,813.67 209.00,807.00 C224.83,800.33 249.83,787.00 259.00,797.00 C268.17,807.00 268.17,852.33 264.00,867.00 C259.83,881.67 244.83,885.00 234.00,885.00 C223.17,885.00 210.67,875.00 199.00,867.00 C187.33,859.00 162.33,847.00 164.00,837.00Z" fill="#fff" fill-opacity="0.7" filter="url(#k57)"/>
<path d="M189.00,812.00 C191.50,807.83 212.33,801.17 219.00,802.00 C225.67,802.83 231.50,812.83 229.00,817.00 C226.50,821.17 210.67,827.83 204.00,827.00 C197.33,826.17 186.50,816.17 189.00,812.00Z" fill="#fff" fill-opacity="0.8" filter="url(#k58)"/>
<path d="M248.40,757.00 C249.68,760.27 253.87,770.78 256.10,776.60 C258.33,782.42 259.88,785.53 261.80,791.90 C263.72,798.27 266.32,806.83 267.60,814.80 C268.88,822.77 269.35,832.68 269.50,839.70 C269.65,846.72 269.78,851.17 268.50,856.90 C267.22,862.63 264.82,869.32 261.80,874.10 C258.78,878.88 255.18,882.57 250.40,885.60 C245.62,888.63 238.53,892.15 233.10,892.30 C227.67,892.45 223.22,889.22 217.80,886.50 C212.38,883.78 206.33,880.62 200.60,876.00 C194.87,871.38 188.82,865.17 183.40,858.80 C177.98,852.43 172.57,844.82 168.10,837.80 C163.63,830.78 161.45,823.08 156.60,816.70 C151.75,810.32 141.93,802.37 139.00,799.50" fill="none" stroke="#505050" stroke-opacity="0.5" stroke-width="14"/>
<path d="M248.40,757.00 C249.68,760.27 253.87,770.78 256.10,776.60 C258.33,782.42 259.88,785.53 261.80,791.90 C263.72,798.27 266.32,806.83 267.60,814.80 C268.88,822.77 269.35,832.68 269.50,839.70 C269.65,846.72 269.78,851.17 268.50,856.90 C267.22,862.63 264.82,869.32 261.80,874.10 C258.78,878.88 255.18,882.57 250.40,885.60 C245.62,888.63 238.53,892.15 233.10,892.30 C227.67,892.45 223.22,889.22 217.80,886.50 C212.38,883.78 206.33,880.62 200.60,876.00 C194.87,871.38 188.82,865.17 183.40,858.80 C177.98,852.43 172.57,844.82 168.10,837.80 C163.63,830.78 161.45,823.08 156.60,816.70 C151.75,810.32 141.93,802.37 139.00,799.50" fill="none" stroke="#fff" stroke-opacity="0.8" stroke-width="14" filter="url(#k59)"/>
<path d="M248.40,757.00 C249.68,760.27 253.87,770.78 256.10,776.60 C258.33,782.42 259.88,785.53 261.80,791.90 C263.72,798.27 266.32,806.83 267.60,814.80 C268.88,822.77 269.35,832.68 269.50,839.70 C269.65,846.72 269.78,851.17 268.50,856.90 C267.22,862.63 264.82,869.32 261.80,874.10 C258.78,878.88 255.18,882.57 250.40,885.60 C245.62,888.63 238.53,892.15 233.10,892.30 C227.67,892.45 223.22,889.22 217.80,886.50 C212.38,883.78 206.33,880.62 200.60,876.00 C194.87,871.38 188.82,865.17 183.40,858.80 C177.98,852.43 172.57,844.82 168.10,837.80 C163.63,830.78 161.45,823.08 156.60,816.70 C151.75,810.32 141.93,802.37 139.00,799.50" fill="none" stroke="#fff" stroke-opacity="0.6" stroke-width="14" filter="url(#k60)"/>
</g>
<line x1="152.8" y1="837.8" x2="264.7" y2="775.0" stroke="#f4f4f4" stroke-width="1.7" stroke-dasharray="11,10" stroke-dashoffset="4.5"/>
<line x1="258.0" y1="894.4" x2="276.8" y2="894.4" stroke="#a0a0a0" stroke-width="1.0"/>
</g>
<line x1="310.70" y1="170.00" x2="310.70" y2="278.20" stroke="#222" stroke-width="0.9"/>
<line x1="310.70" y1="278.20" x2="393.40" y2="278.20" stroke="#222" stroke-width="0.9"/>
<path d="M320.12,198.40 C320.17,201.50 320.11,212.10 320.40,217.00 C320.69,221.90 321.22,223.33 321.85,227.80 C322.48,232.27 323.44,238.45 324.20,243.80 C324.96,249.15 325.68,254.20 326.40,259.90 C327.12,265.60 328.15,274.98 328.50,278.00 L311.50,278.00 C311.85,274.98 312.88,265.60 313.60,259.90 C314.32,254.20 315.04,249.15 315.80,243.80 C316.56,238.45 317.52,232.27 318.15,227.80 C318.78,223.33 319.31,221.90 319.60,217.00 C319.89,212.10 319.83,201.50 319.88,198.40Z" fill="#858585" stroke="#1c1c1c" stroke-width="0.6" stroke-linejoin="round"/>
<path d="M338.62,207.50 C338.62,212.92 338.57,233.42 338.65,240.00 C338.73,246.58 338.78,244.58 339.10,247.00 C339.43,249.42 339.98,252.00 340.60,254.50 C341.22,257.00 341.98,259.32 342.80,262.00 C343.62,264.68 344.87,267.93 345.50,270.60 C346.13,273.27 346.42,276.77 346.60,278.00 L330.40,278.00 C330.58,276.77 330.87,273.27 331.50,270.60 C332.13,267.93 333.38,264.68 334.20,262.00 C335.02,259.32 335.78,257.00 336.40,254.50 C337.02,252.00 337.57,249.42 337.90,247.00 C338.22,244.58 338.27,246.58 338.35,240.00 C338.43,233.42 338.38,212.92 338.38,207.50Z" fill="#ff1010" stroke="#1c1c1c" stroke-width="0.6" stroke-linejoin="round"/>
<path d="M366.52,170.20 C366.55,177.93 366.49,206.72 366.70,216.60 C366.91,226.48 367.40,225.20 367.80,229.50 C368.20,233.80 368.58,238.10 369.10,242.40 C369.62,246.70 370.17,251.00 370.90,255.30 C371.63,259.60 372.85,264.42 373.50,268.20 C374.15,271.98 374.58,276.37 374.80,278.00 L358.00,278.00 C358.22,276.37 358.65,271.98 359.30,268.20 C359.95,264.42 361.17,259.60 361.90,255.30 C362.63,251.00 363.18,246.70 363.70,242.40 C364.22,238.10 364.60,233.80 365.00,229.50 C365.40,225.20 365.89,226.48 366.10,216.60 C366.31,206.72 366.25,177.93 366.28,170.20Z" fill="#858585" stroke="#1c1c1c" stroke-width="0.6" stroke-linejoin="round"/>
<path d="M385.22,241.10 C385.38,242.40 385.79,246.10 386.20,248.90 C386.61,251.70 386.92,254.68 387.70,257.90 C388.48,261.12 389.95,264.85 390.90,268.20 C391.85,271.55 392.98,276.37 393.40,278.00 L376.80,278.00 C377.22,276.37 378.35,271.55 379.30,268.20 C380.25,264.85 381.72,261.12 382.50,257.90 C383.28,254.68 383.59,251.70 384.00,248.90 C384.41,246.10 384.82,242.40 384.98,241.10Z" fill="#ff1010" stroke="#1c1c1c" stroke-width="0.6" stroke-linejoin="round"/>
<circle cx="320.0" cy="277.8" r="0.8" fill="#111"/>
<circle cx="338.5" cy="277.8" r="0.8" fill="#111"/>
<circle cx="366.4" cy="277.8" r="0.8" fill="#111"/>
<circle cx="385.1" cy="277.8" r="0.8" fill="#111"/>
<line x1="320.00" y1="190.10" x2="338.50" y2="190.10" stroke="#222" stroke-width="0.9"/>
<text x="329.30" y="191.00" font-size="8" text-anchor="middle" fill="#111" stroke="#111" stroke-width="0.45">*</text>
<text x="329.30" y="285.50" font-size="6.8" text-anchor="middle" fill="#222" stroke="#222" stroke-width="0.12" font-style="italic">Meis1</text>
<text x="375.70" y="285.50" font-size="6.8" text-anchor="middle" fill="#222" stroke="#222" stroke-width="0.12" font-style="italic">Meis2</text>
<rect x="323" y="289.20" width="5.8" height="5.4" fill="#8c8c8c" stroke="#333" stroke-width="0.5"/>
<text x="330.60" y="294.10" font-size="5.7" text-anchor="start" fill="#1a1a1a" stroke="#1a1a1a" stroke-width="0.12">Proximal</text>
<rect x="359.5" y="289.20" width="5.6" height="5.4" fill="#ff1010" stroke="#333" stroke-width="0.5"/>
<text x="366.40" y="294.10" font-size="5.7" text-anchor="start" fill="#1a1a1a" stroke="#1a1a1a" stroke-width="0.12">Distal</text>
<text x="305.30" y="224.00" font-size="7" text-anchor="middle" fill="#1a1a1a" stroke="#1a1a1a" stroke-width="0.12" transform="rotate(-90 305.30 224.00)">10 DPA expression</text>
<line x1="310.70" y1="303.20" x2="310.70" y2="421.10" stroke="#222" stroke-width="0.9"/>
<line x1="310.70" y1="421.10" x2="394.40" y2="421.10" stroke="#222" stroke-width="0.9"/>
<path d="M320.22,312.10 C320.25,321.12 320.21,355.58 320.40,366.20 C320.59,376.82 320.87,372.60 321.35,375.80 C321.83,379.00 322.44,381.95 323.30,385.40 C324.16,388.85 325.67,393.50 326.50,396.50 C327.33,399.50 327.93,401.57 328.30,403.40 C328.67,405.23 328.68,405.73 328.70,407.50 C328.72,409.27 328.48,411.75 328.40,414.00 C328.32,416.25 328.23,419.83 328.20,421.00 L312.00,421.00 C311.97,419.83 311.88,416.25 311.80,414.00 C311.72,411.75 311.48,409.27 311.50,407.50 C311.52,405.73 311.53,405.23 311.90,403.40 C312.27,401.57 312.87,399.50 313.70,396.50 C314.53,393.50 316.04,388.85 316.90,385.40 C317.76,381.95 318.37,379.00 318.85,375.80 C319.33,372.60 319.61,376.82 319.80,366.20 C319.99,355.58 319.95,321.12 319.98,312.10Z" fill="#858585" stroke="#1c1c1c" stroke-width="0.6" stroke-linejoin="round"/>
<circle cx="320.10" cy="408.90" r="0.8" fill="#111"/>
<path d="M339.12,351.00 C339.12,356.67 339.09,378.33 339.15,385.00 C339.21,391.67 339.29,389.08 339.50,391.00 C339.71,392.92 339.80,393.75 340.40,396.50 C341.00,399.25 342.25,404.28 343.10,407.50 C343.95,410.72 344.80,413.55 345.50,415.80 C346.20,418.05 347.00,420.13 347.30,421.00 L330.70,421.00 C331.00,420.13 331.80,418.05 332.50,415.80 C333.20,413.55 334.05,410.72 334.90,407.50 C335.75,404.28 337.00,399.25 337.60,396.50 C338.20,393.75 338.29,392.92 338.50,391.00 C338.71,389.08 338.79,391.67 338.85,385.00 C338.91,378.33 338.88,356.67 338.88,351.00Z" fill="#ff1010" stroke="#1c1c1c" stroke-width="0.6" stroke-linejoin="round"/>
<path d="M367.22,329.00 C367.25,336.77 367.09,365.80 367.40,375.60 C367.71,385.40 368.42,383.75 369.10,387.80 C369.78,391.85 370.75,396.27 371.50,399.90 C372.25,403.53 372.98,406.08 373.60,409.60 C374.22,413.12 374.93,419.10 375.20,421.00 L359.00,421.00 C359.27,419.10 359.98,413.12 360.60,409.60 C361.22,406.08 361.95,403.53 362.70,399.90 C363.45,396.27 364.42,391.85 365.10,387.80 C365.78,383.75 366.49,385.40 366.80,375.60 C367.11,365.80 366.95,336.77 366.98,329.00Z" fill="#858585" stroke="#1c1c1c" stroke-width="0.6" stroke-linejoin="round"/>
<circle cx="367.10" cy="408.40" r="0.8" fill="#111"/>
<path d="M386.42,367.20 C386.43,371.83 386.37,389.55 386.45,395.00 C386.53,400.45 386.58,397.87 386.90,399.90 C387.23,401.93 387.58,404.77 388.40,407.20 C389.22,409.63 390.78,412.20 391.80,414.50 C392.82,416.80 394.05,419.92 394.50,421.00 L378.10,421.00 C378.55,419.92 379.78,416.80 380.80,414.50 C381.82,412.20 383.38,409.63 384.20,407.20 C385.02,404.77 385.38,401.93 385.70,399.90 C386.02,397.87 386.07,400.45 386.15,395.00 C386.23,389.55 386.18,371.83 386.18,367.20Z" fill="#ff1010" stroke="#1c1c1c" stroke-width="0.6" stroke-linejoin="round"/>
<circle cx="339.0" cy="420.8" r="0.8" fill="#111"/>
<circle cx="386.3" cy="420.8" r="0.8" fill="#111"/>
<line x1="320.10" y1="303.60" x2="339.00" y2="303.60" stroke="#222" stroke-width="0.9"/>
<text x="329.50" y="304.50" font-size="8" text-anchor="middle" fill="#111" stroke="#111" stroke-width="0.45">*</text>
<line x1="367.10" y1="320.50" x2="386.30" y2="320.50" stroke="#222" stroke-width="0.9"/>
<text x="376.70" y="321.40" font-size="8" text-anchor="middle" fill="#111" stroke="#111" stroke-width="0.45">*</text>
<text x="329.30" y="427.80" font-size="6.8" text-anchor="middle" fill="#222" stroke="#222" stroke-width="0.12" font-style="italic">Meis1</text>
<text x="377.00" y="427.80" font-size="6.8" text-anchor="middle" fill="#222" stroke="#222" stroke-width="0.12" font-style="italic">Meis2</text>
<rect x="323" y="432.00" width="5.8" height="5.4" fill="#8c8c8c" stroke="#333" stroke-width="0.5"/>
<text x="330.60" y="437.00" font-size="5.7" text-anchor="start" fill="#1a1a1a" stroke="#1a1a1a" stroke-width="0.12">Proximal</text>
<rect x="359.5" y="432.00" width="5.6" height="5.4" fill="#ff1010" stroke="#333" stroke-width="0.5"/>
<text x="366.40" y="437.00" font-size="5.7" text-anchor="start" fill="#1a1a1a" stroke="#1a1a1a" stroke-width="0.12">Distal</text>
<text x="305.30" y="360.40" font-size="7" text-anchor="middle" fill="#1a1a1a" stroke="#1a1a1a" stroke-width="0.12" transform="rotate(-90 305.30 360.40)">14 DPA expression</text>
<line x1="310.60" y1="642.30" x2="310.60" y2="752.40" stroke="#222" stroke-width="0.9"/>
<line x1="310.60" y1="752.40" x2="393.40" y2="752.40" stroke="#222" stroke-width="0.9"/>
<path d="M316.62,678.80 C316.65,682.17 316.60,693.42 316.80,699.00 C317.00,704.58 317.27,707.90 317.80,712.30 C318.33,716.70 319.43,721.02 320.00,725.40 C320.57,729.78 320.88,734.12 321.20,738.60 C321.52,743.08 321.78,750.02 321.90,752.30 L311.10,752.30 C311.22,750.02 311.48,743.08 311.80,738.60 C312.12,734.12 312.43,729.78 313.00,725.40 C313.57,721.02 314.67,716.70 315.20,712.30 C315.73,707.90 316.00,704.58 316.20,699.00 C316.40,693.42 316.35,682.17 316.38,678.80Z" fill="#858585" stroke="#1c1c1c" stroke-width="0.6" stroke-linejoin="round"/>
<circle cx="316.50" cy="739.60" r="0.8" fill="#111"/>
<path d="M328.52,677.50 C328.52,680.42 328.49,691.40 328.55,695.00 C328.61,698.60 328.67,697.32 328.90,699.10 C329.12,700.88 329.40,702.85 329.90,705.70 C330.40,708.55 331.31,712.25 331.90,716.20 C332.49,720.15 333.41,725.45 333.45,729.40 C333.49,733.35 332.52,736.08 332.15,739.90 C331.78,743.72 331.40,750.23 331.25,752.30 L325.55,752.30 C325.40,750.23 325.02,743.72 324.65,739.90 C324.28,736.08 323.31,733.35 323.35,729.40 C323.39,725.45 324.31,720.15 324.90,716.20 C325.49,712.25 326.40,708.55 326.90,705.70 C327.40,702.85 327.67,700.88 327.90,699.10 C328.12,697.32 328.19,698.60 328.25,695.00 C328.31,691.40 328.27,680.42 328.28,677.50Z" fill="#ff1010" stroke="#1c1c1c" stroke-width="0.6" stroke-linejoin="round"/>
<circle cx="328.40" cy="734.30" r="0.8" fill="#111"/>
<path d="M346.52,645.00 C346.55,655.12 346.45,693.40 346.70,705.70 C346.95,718.00 347.42,714.42 348.00,718.80 C348.58,723.18 349.53,726.42 350.20,732.00 C350.87,737.58 351.70,748.92 352.00,752.30 L340.80,752.30 C341.10,748.92 341.93,737.58 342.60,732.00 C343.27,726.42 344.22,723.18 344.80,718.80 C345.38,714.42 345.85,718.00 346.10,705.70 C346.35,693.40 346.25,655.12 346.28,645.00Z" fill="#858585" stroke="#1c1c1c" stroke-width="0.6" stroke-linejoin="round"/>
<circle cx="346.40" cy="739.60" r="0.8" fill="#111"/>
<path d="M358.42,668.90 C358.43,673.42 358.37,690.75 358.45,696.00 C358.53,701.25 358.62,697.68 358.90,700.40 C359.18,703.12 359.65,708.13 360.15,712.30 C360.65,716.47 361.44,720.80 361.90,725.40 C362.36,730.00 362.65,735.42 362.90,739.90 C363.15,744.38 363.32,750.23 363.40,752.30 L353.20,752.30 C353.28,750.23 353.45,744.38 353.70,739.90 C353.95,735.42 354.24,730.00 354.70,725.40 C355.16,720.80 355.95,716.47 356.45,712.30 C356.95,708.13 357.42,703.12 357.70,700.40 C357.98,697.68 358.07,701.25 358.15,696.00 C358.23,690.75 358.18,673.42 358.18,668.90Z" fill="#ff1010" stroke="#1c1c1c" stroke-width="0.6" stroke-linejoin="round"/>
<circle cx="358.30" cy="739.90" r="0.8" fill="#111"/>
<path d="M376.42,691.20 C376.45,695.80 376.29,712.00 376.60,718.80 C376.91,725.60 377.45,726.42 378.30,732.00 C379.15,737.58 381.13,748.92 381.70,752.30 L370.90,752.30 C371.47,748.92 373.45,737.58 374.30,732.00 C375.15,726.42 375.69,725.60 376.00,718.80 C376.31,712.00 376.15,695.80 376.18,691.20Z" fill="#858585" stroke="#1c1c1c" stroke-width="0.6" stroke-linejoin="round"/>
<path d="M388.32,649.90 C388.32,653.58 388.27,667.52 388.35,672.00 C388.43,676.48 388.56,674.47 388.80,676.80 C389.04,679.13 389.42,682.28 389.80,686.00 C390.18,689.72 390.67,694.72 391.10,699.10 C391.53,703.48 392.05,707.70 392.40,712.30 C392.75,716.90 393.20,722.10 393.20,726.70 C393.20,731.30 392.58,735.63 392.40,739.90 C392.22,744.17 392.15,750.23 392.10,752.30 L384.30,752.30 C384.25,750.23 384.18,744.17 384.00,739.90 C383.82,735.63 383.20,731.30 383.20,726.70 C383.20,722.10 383.65,716.90 384.00,712.30 C384.35,707.70 384.87,703.48 385.30,699.10 C385.73,694.72 386.22,689.72 386.60,686.00 C386.98,682.28 387.36,679.13 387.60,676.80 C387.84,674.47 387.97,676.48 388.05,672.00 C388.13,667.52 388.07,653.58 388.08,649.90Z" fill="#ff1010" stroke="#1c1c1c" stroke-width="0.6" stroke-linejoin="round"/>
<circle cx="388.20" cy="726.70" r="0.8" fill="#111"/>
<circle cx="376.3" cy="752.1" r="0.8" fill="#111"/>
<line x1="376.00" y1="642.40" x2="388.20" y2="642.40" stroke="#222" stroke-width="0.9"/>
<text x="382.10" y="643.30" font-size="8" text-anchor="middle" fill="#111" stroke="#111" stroke-width="0.45">*</text>
<text x="322.90" y="759.30" font-size="6.8" text-anchor="middle" fill="#222" stroke="#222" stroke-width="0.12" font-style="italic">Hoxa9</text>
<text x="349.60" y="759.30" font-size="6.8" text-anchor="middle" fill="#222" stroke="#222" stroke-width="0.12" font-style="italic">Hoxa11</text>
<text x="382.30" y="759.30" font-size="6.8" text-anchor="middle" fill="#222" stroke="#222" stroke-width="0.12" font-style="italic">Hoxa13</text>
<rect x="323" y="763.20" width="5.8" height="5.4" fill="#8c8c8c" stroke="#333" stroke-width="0.5"/>
<text x="330.60" y="767.90" font-size="5.7" text-anchor="start" fill="#1a1a1a" stroke="#1a1a1a" stroke-width="0.12">Proximal</text>
<rect x="359.5" y="763.20" width="5.6" height="5.4" fill="#ff1010" stroke="#333" stroke-width="0.5"/>
<text x="366.40" y="767.90" font-size="5.7" text-anchor="start" fill="#1a1a1a" stroke="#1a1a1a" stroke-width="0.12">Distal</text>
<text x="305.30" y="697.30" font-size="7" text-anchor="middle" fill="#1a1a1a" stroke="#1a1a1a" stroke-width="0.12" transform="rotate(-90 305.30 697.30)">10 DPA expression</text>
<line x1="310.50" y1="777.40" x2="310.50" y2="890.50" stroke="#222" stroke-width="0.9"/>
<line x1="310.50" y1="890.50" x2="393.40" y2="890.50" stroke="#222" stroke-width="0.9"/>
<path d="M316.72,836.10 C316.82,838.05 316.82,843.65 317.30,847.80 C317.78,851.95 318.93,857.25 319.60,861.00 C320.28,864.75 320.93,867.65 321.35,870.30 C321.77,872.95 322.10,874.48 322.10,876.90 C322.10,879.32 321.48,882.55 321.35,884.80 C321.22,887.05 321.31,889.47 321.30,890.40 L311.90,890.40 C311.89,889.47 311.98,887.05 311.85,884.80 C311.72,882.55 311.10,879.32 311.10,876.90 C311.10,874.48 311.43,872.95 311.85,870.30 C312.27,867.65 312.93,864.75 313.60,861.00 C314.28,857.25 315.42,851.95 315.90,847.80 C316.38,843.65 316.38,838.05 316.48,836.10Z" fill="#858585" stroke="#1c1c1c" stroke-width="0.6" stroke-linejoin="round"/>
<circle cx="316.60" cy="877.10" r="0.8" fill="#111"/>
<path d="M328.62,849.10 C328.62,849.75 328.57,851.68 328.65,853.00 C328.73,854.32 328.75,855.00 329.10,857.00 C329.45,859.00 330.03,861.90 330.75,865.00 C331.47,868.10 332.94,872.97 333.40,875.60 C333.86,878.23 333.65,878.82 333.50,880.80 C333.35,882.78 332.72,885.90 332.50,887.50 C332.28,889.10 332.25,889.92 332.20,890.40 L324.80,890.40 C324.75,889.92 324.72,889.10 324.50,887.50 C324.28,885.90 323.65,882.78 323.50,880.80 C323.35,878.82 323.14,878.23 323.60,875.60 C324.06,872.97 325.53,868.10 326.25,865.00 C326.97,861.90 327.55,859.00 327.90,857.00 C328.25,855.00 328.27,854.32 328.35,853.00 C328.43,851.68 328.38,849.75 328.38,849.10Z" fill="#ff1010" stroke="#1c1c1c" stroke-width="0.6" stroke-linejoin="round"/>
<circle cx="328.50" cy="881.20" r="0.8" fill="#111"/>
<path d="M346.52,833.90 C346.70,836.22 347.14,843.28 347.60,847.80 C348.06,852.32 348.62,856.37 349.30,861.00 C349.98,865.63 351.41,870.70 351.70,875.60 C351.99,880.50 351.16,887.93 351.05,890.40 L341.75,890.40 C341.64,887.93 340.81,880.50 341.10,875.60 C341.39,870.70 342.82,865.63 343.50,861.00 C344.18,856.37 344.74,852.32 345.20,847.80 C345.66,843.28 346.10,836.22 346.28,833.90Z" fill="#858585" stroke="#1c1c1c" stroke-width="0.6" stroke-linejoin="round"/>
<circle cx="346.40" cy="877.00" r="0.8" fill="#111"/>
<path d="M358.12,823.30 C358.12,827.08 358.07,841.27 358.15,846.00 C358.23,850.73 358.26,849.20 358.60,851.70 C358.94,854.20 359.47,857.02 360.20,861.00 C360.93,864.98 362.73,871.63 363.00,875.60 C363.27,879.57 362.07,882.33 361.85,884.80 C361.63,887.27 361.73,889.47 361.70,890.40 L354.30,890.40 C354.27,889.47 354.37,887.27 354.15,884.80 C353.93,882.33 352.73,879.57 353.00,875.60 C353.27,871.63 355.07,864.98 355.80,861.00 C356.53,857.02 357.06,854.20 357.40,851.70 C357.74,849.20 357.77,850.73 357.85,846.00 C357.93,841.27 357.88,827.08 357.88,823.30Z" fill="#ff1010" stroke="#1c1c1c" stroke-width="0.6" stroke-linejoin="round"/>
<circle cx="358.00" cy="877.00" r="0.8" fill="#111"/>
<path d="M375.92,806.10 C375.95,817.45 375.84,861.75 376.10,874.20 C376.36,886.65 376.82,878.58 377.50,880.80 C378.18,883.02 379.58,885.90 380.20,887.50 C380.82,889.10 381.03,889.92 381.20,890.40 L370.40,890.40 C370.57,889.92 370.78,889.10 371.40,887.50 C372.02,885.90 373.42,883.02 374.10,880.80 C374.78,878.58 375.24,886.65 375.50,874.20 C375.76,861.75 375.65,817.45 375.68,806.10Z" fill="#858585" stroke="#1c1c1c" stroke-width="0.6" stroke-linejoin="round"/>
<path d="M387.82,784.00 C387.82,789.67 387.77,811.12 387.85,818.00 C387.93,824.88 388.05,822.55 388.30,825.30 C388.55,828.05 388.84,830.75 389.35,834.50 C389.86,838.25 390.80,843.38 391.35,847.80 C391.90,852.22 392.54,856.60 392.65,861.00 C392.76,865.40 392.31,870.23 392.00,874.20 C391.69,878.17 391.02,882.10 390.80,884.80 C390.58,887.50 390.72,889.47 390.70,890.40 L384.70,890.40 C384.68,889.47 384.82,887.50 384.60,884.80 C384.38,882.10 383.71,878.17 383.40,874.20 C383.09,870.23 382.64,865.40 382.75,861.00 C382.86,856.60 383.50,852.22 384.05,847.80 C384.60,843.38 385.54,838.25 386.05,834.50 C386.56,830.75 386.85,828.05 387.10,825.30 C387.35,822.55 387.47,824.88 387.55,818.00 C387.63,811.12 387.57,789.67 387.58,784.00Z" fill="#ff1010" stroke="#1c1c1c" stroke-width="0.6" stroke-linejoin="round"/>
<circle cx="387.70" cy="867.60" r="0.8" fill="#111"/>
<circle cx="375.8" cy="890.2" r="0.8" fill="#111"/>
<line x1="376.00" y1="777.40" x2="388.00" y2="777.40" stroke="#222" stroke-width="0.9"/>
<text x="382.00" y="778.30" font-size="8" text-anchor="middle" fill="#111" stroke="#111" stroke-width="0.45">*</text>
<text x="322.90" y="897.30" font-size="6.8" text-anchor="middle" fill="#222" stroke="#222" stroke-width="0.12" font-style="italic">Hoxa9</text>
<text x="349.60" y="897.30" font-size="6.8" text-anchor="middle" fill="#222" stroke="#222" stroke-width="0.12" font-style="italic">Hoxa11</text>
<text x="382.30" y="897.30" font-size="6.8" text-anchor="middle" fill="#222" stroke="#222" stroke-width="0.12" font-style="italic">Hoxa13</text>
<rect x="323" y="901.30" width="5.8" height="5.4" fill="#8c8c8c" stroke="#333" stroke-width="0.5"/>
<text x="330.60" y="906.00" font-size="5.7" text-anchor="start" fill="#1a1a1a" stroke="#1a1a1a" stroke-width="0.12">Proximal</text>
<rect x="359.5" y="901.30" width="5.6" height="5.4" fill="#ff1010" stroke="#333" stroke-width="0.5"/>
<text x="366.40" y="906.00" font-size="5.7" text-anchor="start" fill="#1a1a1a" stroke="#1a1a1a" stroke-width="0.12">Distal</text>
<text x="305.30" y="833.90" font-size="7" text-anchor="middle" fill="#1a1a1a" stroke="#1a1a1a" stroke-width="0.12" transform="rotate(-90 305.30 833.90)">14 DPA expression</text>
<line x1="430.40" y1="182.30" x2="430.40" y2="263.90" stroke="#111" stroke-width="1.3"/>
<line x1="430.40" y1="263.30" x2="555.20" y2="263.30" stroke="#111" stroke-width="1.3"/>
<line x1="559.50" y1="263.30" x2="685.00" y2="263.30" stroke="#111" stroke-width="1.3"/>
<line x1="557.40" y1="260.30" x2="557.40" y2="270.30" stroke="#555" stroke-width="0.7"/>
<line x1="557.40" y1="181.80" x2="557.40" y2="192.30" stroke="#8a8a8a" stroke-width="0.8"/>
<line x1="557.40" y1="213.50" x2="557.40" y2="238.90" stroke="#8a8a8a" stroke-width="0.8"/>
<line x1="557.40" y1="262.20" x2="557.40" y2="270.70" stroke="#8a8a8a" stroke-width="0.8"/>
<line x1="436.20" y1="263.30" x2="436.20" y2="265.30" stroke="#111" stroke-width="0.9"/>
<text x="436.20" y="271.80" font-size="6.8" text-anchor="middle" fill="#222" stroke="#222" stroke-width="0.12">0</text>
<line x1="464.80" y1="263.30" x2="464.80" y2="265.30" stroke="#111" stroke-width="0.9"/>
<text x="464.80" y="271.80" font-size="6.8" text-anchor="middle" fill="#222" stroke="#222" stroke-width="0.12">0.25</text>
<line x1="493.40" y1="263.30" x2="493.40" y2="265.30" stroke="#111" stroke-width="0.9"/>
<text x="493.40" y="271.80" font-size="6.8" text-anchor="middle" fill="#222" stroke="#222" stroke-width="0.12">0.5</text>
<line x1="522.00" y1="263.30" x2="522.00" y2="265.30" stroke="#111" stroke-width="0.9"/>
<text x="522.00" y="271.80" font-size="6.8" text-anchor="middle" fill="#222" stroke="#222" stroke-width="0.12">0.75</text>
<line x1="550.60" y1="263.30" x2="550.60" y2="265.30" stroke="#111" stroke-width="0.9"/>
<text x="550.60" y="271.80" font-size="6.8" text-anchor="middle" fill="#222" stroke="#222" stroke-width="0.12">1</text>
<line x1="565.00" y1="263.30" x2="565.00" y2="265.30" stroke="#111" stroke-width="0.9"/>
<text x="565.00" y="271.80" font-size="6.8" text-anchor="middle" fill="#222" stroke="#222" stroke-width="0.12">0</text>
<line x1="593.52" y1="263.30" x2="593.52" y2="265.30" stroke="#111" stroke-width="0.9"/>
<text x="593.52" y="271.80" font-size="6.8" text-anchor="middle" fill="#222" stroke="#222" stroke-width="0.12">0.25</text>
<line x1="622.04" y1="263.30" x2="622.04" y2="265.30" stroke="#111" stroke-width="0.9"/>
<text x="622.04" y="271.80" font-size="6.8" text-anchor="middle" fill="#222" stroke="#222" stroke-width="0.12">0.5</text>
<line x1="650.56" y1="263.30" x2="650.56" y2="265.30" stroke="#111" stroke-width="0.9"/>
<text x="650.56" y="271.80" font-size="6.8" text-anchor="middle" fill="#222" stroke="#222" stroke-width="0.12">0.75</text>
<line x1="679.08" y1="263.30" x2="679.08" y2="265.30" stroke="#111" stroke-width="0.9"/>
<text x="679.08" y="271.80" font-size="6.8" text-anchor="middle" fill="#222" stroke="#222" stroke-width="0.12">1</text>
<text x="431.40" y="187.80" font-size="7" text-anchor="start" fill="#111" stroke="#111" stroke-width="0.12">PB mesenchyme</text>
<text x="560.80" y="187.80" font-size="7" text-anchor="start" fill="#111" stroke="#111" stroke-width="0.12">DB mesenchyme</text>
<text x="424.80" y="222.80" font-size="7" text-anchor="middle" fill="#1a1a1a" stroke="#1a1a1a" stroke-width="0.12" transform="rotate(-90 424.80 222.80)">10 DPA expression</text>
<text x="557.80" y="282.20" font-size="7" text-anchor="middle" fill="#111" stroke="#111" stroke-width="0.12">Proximodistal location</text>
<text x="544.60" y="289.80" font-size="7" text-anchor="start" fill="#111" stroke="#111" stroke-width="0.12">P</text>
<line x1="550.70" y1="287.30" x2="564.50" y2="287.30" stroke="#111" stroke-width="0.6"/>
<path d="M563.0,286.30 L565.6,287.30 L563.0,288.30" fill="none" stroke="#111" stroke-width="0.6"/>
<text x="566.70" y="289.80" font-size="7" text-anchor="start" fill="#111" stroke="#111" stroke-width="0.12">D</text>
<line x1="525.40" y1="295.50" x2="532.90" y2="295.50" stroke="#ff2cff" stroke-width="2.2"/>
<text x="535.60" y="297.80" font-size="6.8" text-anchor="start" fill="#111" stroke="#111" stroke-width="0.12" font-style="italic">Meis1</text>
<line x1="561.20" y1="295.50" x2="568.70" y2="295.50" stroke="#f6c21c" stroke-width="2.2"/>
<text x="571.40" y="297.80" font-size="6.8" text-anchor="start" fill="#111" stroke="#111" stroke-width="0.12" font-style="italic">Meis2</text>
<path d="M436.20,240.00 C437.33,236.83 440.70,226.33 443.00,221.00 C445.30,215.67 447.05,211.63 450.00,208.00 C452.95,204.37 457.37,200.88 460.70,199.20 C464.03,197.52 466.78,198.20 470.00,197.90 C473.22,197.60 476.67,197.97 480.00,197.40 C483.33,196.83 486.63,195.35 490.00,194.50 C493.37,193.65 496.80,193.13 500.20,192.30 C503.60,191.47 507.93,190.22 510.40,189.50 C512.87,188.78 513.28,188.33 515.00,188.00 C516.72,187.67 518.90,187.42 520.70,187.50 C522.50,187.58 524.10,187.97 525.80,188.50 C527.50,189.03 529.20,189.03 530.90,190.70 C532.60,192.37 534.25,195.78 536.00,198.50 C537.75,201.22 539.73,204.58 541.40,207.00 C543.07,209.42 544.47,211.33 546.00,213.00 C547.53,214.67 549.83,216.33 550.60,217.00 L550.60,243.00 C549.83,240.83 547.53,233.67 546.00,230.00 C544.47,226.33 543.07,224.25 541.40,221.00 C539.73,217.75 537.75,213.62 536.00,210.50 C534.25,207.38 532.60,204.03 530.90,202.30 C529.20,200.57 527.50,200.63 525.80,200.10 C524.10,199.57 522.50,199.18 520.70,199.10 C518.90,199.02 516.72,199.27 515.00,199.60 C513.28,199.93 512.87,200.45 510.40,201.10 C507.93,201.75 503.60,202.93 500.20,203.50 C496.80,204.07 493.37,203.98 490.00,204.50 C486.63,205.02 483.33,206.17 480.00,206.60 C476.67,207.03 473.22,206.67 470.00,207.10 C466.78,207.53 464.03,206.88 460.70,209.20 C457.37,211.52 452.95,216.37 450.00,221.00 C447.05,225.63 445.30,230.50 443.00,237.00 C440.70,243.50 437.33,256.17 436.20,260.00Z" fill="#f8c51f" fill-opacity="1.0"/>
<path d="M436.20,230.50 C437.33,227.25 440.70,215.92 443.00,211.00 C445.30,206.08 447.05,203.47 450.00,201.00 C452.95,198.53 457.37,197.03 460.70,196.20 C464.03,195.37 466.78,196.03 470.00,196.00 C473.22,195.97 477.00,196.07 480.00,196.00 C483.00,195.93 485.50,195.32 488.00,195.60 C490.50,195.88 492.97,197.18 495.00,197.70 C497.03,198.22 497.63,198.68 500.20,198.70 C502.77,198.72 506.98,198.12 510.40,197.80 C513.82,197.48 518.13,196.73 520.70,196.80 C523.27,196.87 524.10,197.23 525.80,198.20 C527.50,199.17 529.20,201.02 530.90,202.60 C532.60,204.18 534.30,206.17 536.00,207.70 C537.70,209.23 539.40,210.68 541.10,211.80 C542.80,212.92 544.62,213.68 546.20,214.40 C547.78,215.12 549.87,215.82 550.60,216.10 L550.60,235.50 C549.87,234.65 547.78,232.02 546.20,230.40 C544.62,228.78 542.80,227.58 541.10,225.80 C539.40,224.02 537.70,221.73 536.00,219.70 C534.30,217.67 532.60,215.42 530.90,213.60 C529.20,211.78 527.50,209.87 525.80,208.80 C524.10,207.73 523.27,207.30 520.70,207.20 C518.13,207.10 513.82,207.85 510.40,208.20 C506.98,208.55 502.77,209.45 500.20,209.30 C497.63,209.15 497.03,208.05 495.00,207.30 C492.97,206.55 490.50,205.15 488.00,204.80 C485.50,204.45 483.00,205.13 480.00,205.20 C477.00,205.27 473.22,205.03 470.00,205.20 C466.78,205.37 464.03,204.73 460.70,206.20 C457.37,207.67 452.95,210.53 450.00,214.00 C447.05,217.47 445.30,220.92 443.00,227.00 C440.70,233.08 437.33,246.58 436.20,250.50Z" fill="#ff2cff" fill-opacity="1.0"/>
<path d="M436.20,250.00 C437.33,246.50 440.70,234.92 443.00,229.00 C445.30,223.08 447.05,218.63 450.00,214.50 C452.95,210.37 457.37,206.20 460.70,204.20 C464.03,202.20 466.78,202.87 470.00,202.50 C473.22,202.13 476.67,202.50 480.00,202.00 C483.33,201.50 486.63,200.18 490.00,199.50 C493.37,198.82 496.80,198.60 500.20,197.90 C503.60,197.20 507.93,195.98 510.40,195.30 C512.87,194.62 513.28,194.13 515.00,193.80 C516.72,193.47 518.90,193.22 520.70,193.30 C522.50,193.38 524.10,193.77 525.80,194.30 C527.50,194.83 529.20,194.80 530.90,196.50 C532.60,198.20 534.25,201.58 536.00,204.50 C537.75,207.42 539.73,211.17 541.40,214.00 C543.07,216.83 544.47,218.83 546.00,221.50 C547.53,224.17 549.83,228.58 550.60,230.00" fill="none" stroke="#2a2a2a" stroke-width="0.6" stroke-linecap="round"/>
<path d="M436.20,240.50 C437.33,236.92 440.70,224.50 443.00,219.00 C445.30,213.50 447.05,210.47 450.00,207.50 C452.95,204.53 457.37,202.35 460.70,201.20 C464.03,200.05 466.78,200.70 470.00,200.60 C473.22,200.50 477.00,200.67 480.00,200.60 C483.00,200.53 485.50,199.88 488.00,200.20 C490.50,200.52 492.97,201.87 495.00,202.50 C497.03,203.13 497.63,203.92 500.20,204.00 C502.77,204.08 506.98,203.33 510.40,203.00 C513.82,202.67 518.13,201.92 520.70,202.00 C523.27,202.08 524.10,202.48 525.80,203.50 C527.50,204.52 529.20,206.40 530.90,208.10 C532.60,209.80 534.30,211.92 536.00,213.70 C537.70,215.48 539.40,217.35 541.10,218.80 C542.80,220.25 544.62,221.23 546.20,222.40 C547.78,223.57 549.87,225.23 550.60,225.80" fill="none" stroke="#2a2a2a" stroke-width="0.6" stroke-linecap="round"/>
<path d="M565.00,249.20 C567.50,248.82 575.25,247.63 580.00,246.90 C584.75,246.17 589.33,245.30 593.50,244.80 C597.67,244.30 601.58,243.90 605.00,243.90 C608.42,243.90 611.17,244.35 614.00,244.80 C616.83,245.25 618.50,246.20 622.00,246.60 C625.50,247.00 630.33,247.12 635.00,247.20 C639.67,247.28 645.00,247.00 650.00,247.10 C655.00,247.20 660.17,247.45 665.00,247.80 C669.83,248.15 676.67,248.97 679.00,249.20 L679.00,254.00 C676.67,253.77 669.83,252.95 665.00,252.60 C660.17,252.25 655.00,252.00 650.00,251.90 C645.00,251.80 639.67,252.08 635.00,252.00 C630.33,251.92 625.50,251.80 622.00,251.40 C618.50,251.00 616.83,250.05 614.00,249.60 C611.17,249.15 608.42,248.70 605.00,248.70 C601.58,248.70 597.67,249.10 593.50,249.60 C589.33,250.10 584.75,250.97 580.00,251.70 C575.25,252.43 567.50,253.62 565.00,254.00Z" fill="#f8c51f" fill-opacity="1.0"/>
<path d="M565.00,252.40 C567.33,252.07 574.25,251.00 579.00,250.40 C583.75,249.80 588.67,249.13 593.50,248.80 C598.33,248.47 603.25,248.52 608.00,248.40 C612.75,248.28 616.67,248.32 622.00,248.10 C627.33,247.88 635.00,247.22 640.00,247.10 C645.00,246.98 647.83,247.10 652.00,247.40 C656.17,247.70 660.50,248.07 665.00,248.90 C669.50,249.73 676.67,251.82 679.00,252.40 L679.00,257.20 C676.67,256.62 669.50,254.53 665.00,253.70 C660.50,252.87 656.17,252.50 652.00,252.20 C647.83,251.90 645.00,251.78 640.00,251.90 C635.00,252.02 627.33,252.68 622.00,252.90 C616.67,253.12 612.75,253.08 608.00,253.20 C603.25,253.32 598.33,253.27 593.50,253.60 C588.67,253.93 583.75,254.60 579.00,255.20 C574.25,255.80 567.33,256.87 565.00,257.20Z" fill="#ff2cff" fill-opacity="1.0"/>
<path d="M565.00,251.60 C567.50,251.22 575.25,250.03 580.00,249.30 C584.75,248.57 589.33,247.70 593.50,247.20 C597.67,246.70 601.58,246.30 605.00,246.30 C608.42,246.30 611.17,246.75 614.00,247.20 C616.83,247.65 618.50,248.60 622.00,249.00 C625.50,249.40 630.33,249.52 635.00,249.60 C639.67,249.68 645.00,249.40 650.00,249.50 C655.00,249.60 660.17,249.85 665.00,250.20 C669.83,250.55 676.67,251.37 679.00,251.60" fill="none" stroke="#2a2a2a" stroke-width="0.55" stroke-linecap="round"/>
<path d="M565.00,254.80 C567.33,254.47 574.25,253.40 579.00,252.80 C583.75,252.20 588.67,251.53 593.50,251.20 C598.33,250.87 603.25,250.92 608.00,250.80 C612.75,250.68 616.67,250.72 622.00,250.50 C627.33,250.28 635.00,249.62 640.00,249.50 C645.00,249.38 647.83,249.50 652.00,249.80 C656.17,250.10 660.50,250.47 665.00,251.30 C669.50,252.13 676.67,254.22 679.00,254.80" fill="none" stroke="#2a2a2a" stroke-width="0.55" stroke-linecap="round"/>
<line x1="430.40" y1="314.30" x2="430.40" y2="400.80" stroke="#111" stroke-width="1.3"/>
<line x1="430.40" y1="400.20" x2="555.20" y2="400.20" stroke="#111" stroke-width="1.3"/>
<line x1="559.50" y1="400.20" x2="685.00" y2="400.20" stroke="#111" stroke-width="1.3"/>
<line x1="557.40" y1="397.20" x2="557.40" y2="407.20" stroke="#555" stroke-width="0.7"/>
<line x1="557.40" y1="314.80" x2="557.40" y2="325.00" stroke="#8a8a8a" stroke-width="0.8"/>
<line x1="557.40" y1="339.80" x2="557.40" y2="354.60" stroke="#8a8a8a" stroke-width="0.8"/>
<line x1="557.40" y1="368.80" x2="557.40" y2="383.60" stroke="#8a8a8a" stroke-width="0.8"/>
<line x1="557.40" y1="397.40" x2="557.40" y2="403.30" stroke="#8a8a8a" stroke-width="0.8"/>
<line x1="436.20" y1="400.20" x2="436.20" y2="402.20" stroke="#111" stroke-width="0.9"/>
<text x="436.20" y="408.30" font-size="6.8" text-anchor="middle" fill="#222" stroke="#222" stroke-width="0.12">0</text>
<line x1="464.80" y1="400.20" x2="464.80" y2="402.20" stroke="#111" stroke-width="0.9"/>
<text x="464.80" y="408.30" font-size="6.8" text-anchor="middle" fill="#222" stroke="#222" stroke-width="0.12">0.25</text>
<line x1="493.40" y1="400.20" x2="493.40" y2="402.20" stroke="#111" stroke-width="0.9"/>
<text x="493.40" y="408.30" font-size="6.8" text-anchor="middle" fill="#222" stroke="#222" stroke-width="0.12">0.5</text>
<line x1="522.00" y1="400.20" x2="522.00" y2="402.20" stroke="#111" stroke-width="0.9"/>
<text x="522.00" y="408.30" font-size="6.8" text-anchor="middle" fill="#222" stroke="#222" stroke-width="0.12">0.75</text>
<line x1="550.60" y1="400.20" x2="550.60" y2="402.20" stroke="#111" stroke-width="0.9"/>
<text x="550.60" y="408.30" font-size="6.8" text-anchor="middle" fill="#222" stroke="#222" stroke-width="0.12">1</text>
<line x1="565.00" y1="400.20" x2="565.00" y2="402.20" stroke="#111" stroke-width="0.9"/>
<text x="565.00" y="408.30" font-size="6.8" text-anchor="middle" fill="#222" stroke="#222" stroke-width="0.12">0</text>
<line x1="593.52" y1="400.20" x2="593.52" y2="402.20" stroke="#111" stroke-width="0.9"/>
<text x="593.52" y="408.30" font-size="6.8" text-anchor="middle" fill="#222" stroke="#222" stroke-width="0.12">0.25</text>
<line x1="622.04" y1="400.20" x2="622.04" y2="402.20" stroke="#111" stroke-width="0.9"/>
<text x="622.04" y="408.30" font-size="6.8" text-anchor="middle" fill="#222" stroke="#222" stroke-width="0.12">0.5</text>
<line x1="650.56" y1="400.20" x2="650.56" y2="402.20" stroke="#111" stroke-width="0.9"/>
<text x="650.56" y="408.30" font-size="6.8" text-anchor="middle" fill="#222" stroke="#222" stroke-width="0.12">0.75</text>
<line x1="679.08" y1="400.20" x2="679.08" y2="402.20" stroke="#111" stroke-width="0.9"/>
<text x="679.08" y="408.30" font-size="6.8" text-anchor="middle" fill="#222" stroke="#222" stroke-width="0.12">1</text>
<text x="431.40" y="319.80" font-size="7" text-anchor="start" fill="#111" stroke="#111" stroke-width="0.12">PB mesenchyme</text>
<text x="560.80" y="319.80" font-size="7" text-anchor="start" fill="#111" stroke="#111" stroke-width="0.12">DB mesenchyme</text>
<text x="424.80" y="357.25" font-size="7" text-anchor="middle" fill="#1a1a1a" stroke="#1a1a1a" stroke-width="0.12" transform="rotate(-90 424.80 357.25)">14 DPA expression</text>
<text x="557.80" y="418.30" font-size="7" text-anchor="middle" fill="#111" stroke="#111" stroke-width="0.12">Proximodistal location</text>
<text x="544.60" y="426.00" font-size="7" text-anchor="start" fill="#111" stroke="#111" stroke-width="0.12">P</text>
<line x1="550.70" y1="423.50" x2="564.50" y2="423.50" stroke="#111" stroke-width="0.6"/>
<path d="M563.0,422.50 L565.6,423.50 L563.0,424.50" fill="none" stroke="#111" stroke-width="0.6"/>
<text x="566.70" y="426.00" font-size="7" text-anchor="start" fill="#111" stroke="#111" stroke-width="0.12">D</text>
<line x1="525.40" y1="432.10" x2="532.90" y2="432.10" stroke="#ff2cff" stroke-width="2.2"/>
<text x="535.60" y="434.40" font-size="6.8" text-anchor="start" fill="#111" stroke="#111" stroke-width="0.12" font-style="italic">Meis1</text>
<line x1="561.20" y1="432.10" x2="568.70" y2="432.10" stroke="#f6c21c" stroke-width="2.2"/>
<text x="571.40" y="434.40" font-size="6.8" text-anchor="start" fill="#111" stroke="#111" stroke-width="0.12" font-style="italic">Meis2</text>
<path d="M436.20,388.90 C436.83,387.25 438.53,382.07 440.00,379.00 C441.47,375.93 443.00,373.47 445.00,370.50 C447.00,367.53 449.83,362.62 452.00,361.20 C454.17,359.78 455.83,360.95 458.00,362.00 C460.17,363.05 462.67,365.98 465.00,367.50 C467.33,369.02 469.50,370.98 472.00,371.10 C474.50,371.22 477.67,368.98 480.00,368.20 C482.33,367.42 484.00,366.40 486.00,366.40 C488.00,366.40 490.17,367.78 492.00,368.20 C493.83,368.62 495.33,370.27 497.00,368.90 C498.67,367.53 500.17,363.48 502.00,360.00 C503.83,356.52 506.17,350.85 508.00,348.00 C509.83,345.15 511.17,342.73 513.00,342.90 C514.83,343.07 517.00,346.62 519.00,349.00 C521.00,351.38 522.33,354.63 525.00,357.20 C527.67,359.77 532.00,362.10 535.00,364.40 C538.00,366.70 540.40,368.28 543.00,371.00 C545.60,373.72 549.33,379.08 550.60,380.70" fill="none" stroke="#f6c21c" stroke-width="3.0" stroke-linecap="round"/>
<path d="M436.20,388.90 C436.83,387.25 438.53,382.07 440.00,379.00 C441.47,375.93 443.00,373.47 445.00,370.50 C447.00,367.53 449.83,362.62 452.00,361.20 C454.17,359.78 455.83,360.95 458.00,362.00 C460.17,363.05 462.67,365.98 465.00,367.50 C467.33,369.02 469.50,370.98 472.00,371.10 C474.50,371.22 477.67,368.98 480.00,368.20 C482.33,367.42 484.00,366.40 486.00,366.40 C488.00,366.40 490.17,367.78 492.00,368.20 C493.83,368.62 495.33,370.27 497.00,368.90 C498.67,367.53 500.17,363.48 502.00,360.00 C503.83,356.52 506.17,350.85 508.00,348.00 C509.83,345.15 511.17,342.73 513.00,342.90 C514.83,343.07 517.00,346.62 519.00,349.00 C521.00,351.38 522.33,354.63 525.00,357.20 C527.67,359.77 532.00,362.10 535.00,364.40 C538.00,366.70 540.40,368.28 543.00,371.00 C545.60,373.72 549.33,379.08 550.60,380.70" fill="none" stroke="#3a3a3a" stroke-width="0.45" stroke-linecap="round"/>
<path d="M436.20,370.50 C436.83,367.92 438.53,359.60 440.00,355.00 C441.47,350.40 443.00,347.60 445.00,342.90 C447.00,338.20 450.17,329.58 452.00,326.80 C453.83,324.02 454.67,325.90 456.00,326.20 C457.33,326.50 458.50,327.58 460.00,328.60 C461.50,329.62 463.00,331.45 465.00,332.30 C467.00,333.15 469.50,332.43 472.00,333.70 C474.50,334.97 477.67,337.85 480.00,339.90 C482.33,341.95 483.83,343.80 486.00,346.00 C488.17,348.20 489.83,349.87 493.00,353.10 C496.17,356.33 501.50,362.50 505.00,365.40 C508.50,368.30 511.17,368.97 514.00,370.50 C516.83,372.03 518.50,372.90 522.00,374.60 C525.50,376.30 531.33,378.80 535.00,380.70 C538.67,382.60 541.40,384.47 544.00,386.00 C546.60,387.53 549.50,389.25 550.60,389.90" fill="none" stroke="#ff2cff" stroke-width="3.0" stroke-linecap="round"/>
<path d="M436.20,370.50 C436.83,367.92 438.53,359.60 440.00,355.00 C441.47,350.40 443.00,347.60 445.00,342.90 C447.00,338.20 450.17,329.58 452.00,326.80 C453.83,324.02 454.67,325.90 456.00,326.20 C457.33,326.50 458.50,327.58 460.00,328.60 C461.50,329.62 463.00,331.45 465.00,332.30 C467.00,333.15 469.50,332.43 472.00,333.70 C474.50,334.97 477.67,337.85 480.00,339.90 C482.33,341.95 483.83,343.80 486.00,346.00 C488.17,348.20 489.83,349.87 493.00,353.10 C496.17,356.33 501.50,362.50 505.00,365.40 C508.50,368.30 511.17,368.97 514.00,370.50 C516.83,372.03 518.50,372.90 522.00,374.60 C525.50,376.30 531.33,378.80 535.00,380.70 C538.67,382.60 541.40,384.47 544.00,386.00 C546.60,387.53 549.50,389.25 550.60,389.90" fill="none" stroke="#3a3a3a" stroke-width="0.45" stroke-linecap="round"/>
<path d="M565.00,395.30 C569.75,395.08 584.00,394.37 593.50,394.00 C603.00,393.63 612.58,393.17 622.00,393.10 C631.42,393.03 640.50,393.23 650.00,393.60 C659.50,393.97 674.17,395.02 679.00,395.30" fill="none" stroke="#d8a814" stroke-width="1.4" stroke-linecap="round"/>
<path d="M565.00,395.30 C569.75,395.08 584.00,394.37 593.50,394.00 C603.00,393.63 612.58,393.17 622.00,393.10 C631.42,393.03 640.50,393.23 650.00,393.60 C659.50,393.97 674.17,395.02 679.00,395.30" fill="none" stroke="#7a6a20" stroke-width="0.4" stroke-linecap="round"/>
<path d="M565.00,393.10 C566.17,392.25 569.50,389.40 572.00,388.00 C574.50,386.60 576.42,385.97 580.00,384.70 C583.58,383.43 589.67,381.15 593.50,380.40 C597.33,379.65 600.25,380.08 603.00,380.20 C605.75,380.32 607.67,380.70 610.00,381.10 C612.33,381.50 614.50,382.53 617.00,382.60 C619.50,382.67 622.00,381.87 625.00,381.50 C628.00,381.13 630.83,380.68 635.00,380.40 C639.17,380.12 645.00,379.80 650.00,379.80 C655.00,379.80 661.17,379.95 665.00,380.40 C668.83,380.85 670.67,381.62 673.00,382.50 C675.33,383.38 678.00,385.17 679.00,385.70" fill="none" stroke="#ff2cff" stroke-width="3.0" stroke-linecap="round"/>
<path d="M565.00,393.10 C566.17,392.25 569.50,389.40 572.00,388.00 C574.50,386.60 576.42,385.97 580.00,384.70 C583.58,383.43 589.67,381.15 593.50,380.40 C597.33,379.65 600.25,380.08 603.00,380.20 C605.75,380.32 607.67,380.70 610.00,381.10 C612.33,381.50 614.50,382.53 617.00,382.60 C619.50,382.67 622.00,381.87 625.00,381.50 C628.00,381.13 630.83,380.68 635.00,380.40 C639.17,380.12 645.00,379.80 650.00,379.80 C655.00,379.80 661.17,379.95 665.00,380.40 C668.83,380.85 670.67,381.62 673.00,382.50 C675.33,383.38 678.00,385.17 679.00,385.70" fill="none" stroke="#3a3a3a" stroke-width="0.45" stroke-linecap="round"/>
<line x1="431.50" y1="651.70" x2="431.50" y2="733.40" stroke="#111" stroke-width="1.3"/>
<line x1="431.50" y1="732.80" x2="555.20" y2="732.80" stroke="#111" stroke-width="1.3"/>
<line x1="559.50" y1="732.80" x2="685.00" y2="732.80" stroke="#111" stroke-width="1.3"/>
<line x1="557.40" y1="729.80" x2="557.40" y2="739.80" stroke="#555" stroke-width="0.7"/>
<line x1="557.40" y1="651.80" x2="557.40" y2="662.30" stroke="#8a8a8a" stroke-width="0.8"/>
<line x1="557.40" y1="683.50" x2="557.40" y2="708.90" stroke="#8a8a8a" stroke-width="0.8"/>
<line x1="557.40" y1="730.00" x2="557.40" y2="740.70" stroke="#8a8a8a" stroke-width="0.8"/>
<line x1="437.00" y1="732.80" x2="437.00" y2="734.80" stroke="#111" stroke-width="0.9"/>
<text x="437.00" y="740.60" font-size="6.8" text-anchor="middle" fill="#222" stroke="#222" stroke-width="0.12">0</text>
<line x1="465.55" y1="732.80" x2="465.55" y2="734.80" stroke="#111" stroke-width="0.9"/>
<text x="465.55" y="740.60" font-size="6.8" text-anchor="middle" fill="#222" stroke="#222" stroke-width="0.12">0.25</text>
<line x1="494.10" y1="732.80" x2="494.10" y2="734.80" stroke="#111" stroke-width="0.9"/>
<text x="494.10" y="740.60" font-size="6.8" text-anchor="middle" fill="#222" stroke="#222" stroke-width="0.12">0.5</text>
<line x1="522.65" y1="732.80" x2="522.65" y2="734.80" stroke="#111" stroke-width="0.9"/>
<text x="522.65" y="740.60" font-size="6.8" text-anchor="middle" fill="#222" stroke="#222" stroke-width="0.12">0.75</text>
<line x1="551.20" y1="732.80" x2="551.20" y2="734.80" stroke="#111" stroke-width="0.9"/>
<text x="551.20" y="740.60" font-size="6.8" text-anchor="middle" fill="#222" stroke="#222" stroke-width="0.12">1</text>
<line x1="565.40" y1="732.80" x2="565.40" y2="734.80" stroke="#111" stroke-width="0.9"/>
<text x="565.40" y="740.60" font-size="6.8" text-anchor="middle" fill="#222" stroke="#222" stroke-width="0.12">0</text>
<line x1="593.80" y1="732.80" x2="593.80" y2="734.80" stroke="#111" stroke-width="0.9"/>
<text x="593.80" y="740.60" font-size="6.8" text-anchor="middle" fill="#222" stroke="#222" stroke-width="0.12">0.25</text>
<line x1="622.20" y1="732.80" x2="622.20" y2="734.80" stroke="#111" stroke-width="0.9"/>
<text x="622.20" y="740.60" font-size="6.8" text-anchor="middle" fill="#222" stroke="#222" stroke-width="0.12">0.5</text>
<line x1="650.60" y1="732.80" x2="650.60" y2="734.80" stroke="#111" stroke-width="0.9"/>
<text x="650.60" y="740.60" font-size="6.8" text-anchor="middle" fill="#222" stroke="#222" stroke-width="0.12">0.75</text>
<line x1="679.00" y1="732.80" x2="679.00" y2="734.80" stroke="#111" stroke-width="0.9"/>
<text x="679.00" y="740.60" font-size="6.8" text-anchor="middle" fill="#222" stroke="#222" stroke-width="0.12">1</text>
<text x="432.50" y="657.20" font-size="7" text-anchor="start" fill="#111" stroke="#111" stroke-width="0.12">PB mesenchyme</text>
<text x="560.80" y="657.20" font-size="7" text-anchor="start" fill="#111" stroke="#111" stroke-width="0.12">DB mesenchyme</text>
<text x="425.90" y="692.25" font-size="7" text-anchor="middle" fill="#1a1a1a" stroke="#1a1a1a" stroke-width="0.12" transform="rotate(-90 425.90 692.25)">10 DPA expression</text>
<text x="557.80" y="751.00" font-size="7" text-anchor="middle" fill="#111" stroke="#111" stroke-width="0.12">Proximodistal location</text>
<text x="544.60" y="759.70" font-size="7" text-anchor="start" fill="#111" stroke="#111" stroke-width="0.12">P</text>
<line x1="550.70" y1="757.20" x2="564.50" y2="757.20" stroke="#111" stroke-width="0.6"/>
<path d="M563.0,756.20 L565.6,757.20 L563.0,758.20" fill="none" stroke="#111" stroke-width="0.6"/>
<text x="566.70" y="759.70" font-size="7" text-anchor="start" fill="#111" stroke="#111" stroke-width="0.12">D</text>
<line x1="506.00" y1="764.80" x2="513.50" y2="764.80" stroke="#ff2cff" stroke-width="2.2"/>
<text x="516.20" y="767.10" font-size="6.8" text-anchor="start" fill="#111" stroke="#111" stroke-width="0.12" font-style="italic">Hoxa9</text>
<line x1="541.00" y1="764.80" x2="548.50" y2="764.80" stroke="#f6c21c" stroke-width="2.2"/>
<text x="551.20" y="767.10" font-size="6.8" text-anchor="start" fill="#111" stroke="#111" stroke-width="0.12" font-style="italic">Hoxa11</text>
<line x1="576.00" y1="764.80" x2="583.50" y2="764.80" stroke="#1ee0e0" stroke-width="2.2"/>
<text x="586.20" y="767.10" font-size="6.8" text-anchor="start" fill="#111" stroke="#111" stroke-width="0.12" font-style="italic">Hoxa13</text>
<path d="M437.00,720.10 C439.17,719.77 445.33,718.50 450.00,718.10 C454.67,717.70 460.00,718.18 465.00,717.70 C470.00,717.22 475.83,715.77 480.00,715.20 C484.17,714.63 486.67,714.43 490.00,714.30 C493.33,714.17 497.00,714.65 500.00,714.40 C503.00,714.15 505.50,713.27 508.00,712.80 C510.50,712.33 512.17,711.83 515.00,711.60 C517.83,711.37 522.00,711.25 525.00,711.40 C528.00,711.55 530.50,712.13 533.00,712.50 C535.50,712.87 537.07,713.28 540.00,713.60 C542.93,713.92 548.83,714.27 550.60,714.40" fill="none" stroke="#1ee0e0" stroke-width="3.0" stroke-linecap="round"/>
<path d="M437.00,720.10 C439.17,719.77 445.33,718.50 450.00,718.10 C454.67,717.70 460.00,718.18 465.00,717.70 C470.00,717.22 475.83,715.77 480.00,715.20 C484.17,714.63 486.67,714.43 490.00,714.30 C493.33,714.17 497.00,714.65 500.00,714.40 C503.00,714.15 505.50,713.27 508.00,712.80 C510.50,712.33 512.17,711.83 515.00,711.60 C517.83,711.37 522.00,711.25 525.00,711.40 C528.00,711.55 530.50,712.13 533.00,712.50 C535.50,712.87 537.07,713.28 540.00,713.60 C542.93,713.92 548.83,714.27 550.60,714.40" fill="none" stroke="#1b6a6a" stroke-width="0.5" stroke-linecap="round"/>
<path d="M437.00,719.10 C439.17,718.28 445.33,715.38 450.00,714.20 C454.67,713.02 460.00,712.77 465.00,712.00 C470.00,711.23 475.00,710.50 480.00,709.60 C485.00,708.70 490.00,707.48 495.00,706.60 C500.00,705.72 505.00,705.15 510.00,704.30 C515.00,703.45 521.33,702.02 525.00,701.50 C528.67,700.98 529.83,700.98 532.00,701.20 C534.17,701.42 535.83,702.00 538.00,702.80 C540.17,703.60 542.90,704.63 545.00,706.00 C547.10,707.37 549.67,710.17 550.60,711.00" fill="none" stroke="#ff2cff" stroke-width="3.0" stroke-linecap="round"/>
<path d="M437.00,719.10 C439.17,718.28 445.33,715.38 450.00,714.20 C454.67,713.02 460.00,712.77 465.00,712.00 C470.00,711.23 475.00,710.50 480.00,709.60 C485.00,708.70 490.00,707.48 495.00,706.60 C500.00,705.72 505.00,705.15 510.00,704.30 C515.00,703.45 521.33,702.02 525.00,701.50 C528.67,700.98 529.83,700.98 532.00,701.20 C534.17,701.42 535.83,702.00 538.00,702.80 C540.17,703.60 542.90,704.63 545.00,706.00 C547.10,707.37 549.67,710.17 550.60,711.00" fill="none" stroke="#3a3a3a" stroke-width="0.45" stroke-linecap="round"/>
<path d="M437.00,716.00 C438.00,715.33 440.83,713.02 443.00,712.00 C445.17,710.98 447.67,710.03 450.00,709.90 C452.33,709.77 454.50,710.72 457.00,711.20 C459.50,711.68 462.00,713.18 465.00,712.80 C468.00,712.42 471.33,710.57 475.00,708.90 C478.67,707.23 484.00,703.70 487.00,702.80 C490.00,701.90 490.83,703.33 493.00,703.50 C495.17,703.67 497.17,704.60 500.00,703.80 C502.83,703.00 507.00,700.17 510.00,698.70 C513.00,697.23 515.67,695.68 518.00,695.00 C520.33,694.32 522.00,694.50 524.00,694.60 C526.00,694.70 527.33,694.42 530.00,695.60 C532.67,696.78 537.33,699.63 540.00,701.70 C542.67,703.77 544.23,705.95 546.00,708.00 C547.77,710.05 549.83,713.00 550.60,714.00" fill="none" stroke="#f6c21c" stroke-width="3.0" stroke-linecap="round"/>
<path d="M437.00,716.00 C438.00,715.33 440.83,713.02 443.00,712.00 C445.17,710.98 447.67,710.03 450.00,709.90 C452.33,709.77 454.50,710.72 457.00,711.20 C459.50,711.68 462.00,713.18 465.00,712.80 C468.00,712.42 471.33,710.57 475.00,708.90 C478.67,707.23 484.00,703.70 487.00,702.80 C490.00,701.90 490.83,703.33 493.00,703.50 C495.17,703.67 497.17,704.60 500.00,703.80 C502.83,703.00 507.00,700.17 510.00,698.70 C513.00,697.23 515.67,695.68 518.00,695.00 C520.33,694.32 522.00,694.50 524.00,694.60 C526.00,694.70 527.33,694.42 530.00,695.60 C532.67,696.78 537.33,699.63 540.00,701.70 C542.67,703.77 544.23,705.95 546.00,708.00 C547.77,710.05 549.83,713.00 550.60,714.00" fill="none" stroke="#3a3a3a" stroke-width="0.45" stroke-linecap="round"/>
<path d="M565.40,723.70 C566.50,722.58 569.57,719.12 572.00,717.00 C574.43,714.88 577.50,712.50 580.00,711.00 C582.50,709.50 584.70,708.70 587.00,708.00 C589.30,707.30 591.30,707.55 593.80,706.80 C596.30,706.05 599.30,704.57 602.00,703.50 C604.70,702.43 606.17,701.33 610.00,700.40 C613.83,699.47 620.50,698.17 625.00,697.90 C629.50,697.63 633.67,698.55 637.00,698.80 C640.33,699.05 641.50,699.23 645.00,699.40 C648.50,699.57 654.50,699.62 658.00,699.80 C661.50,699.98 663.50,699.88 666.00,700.50 C668.50,701.12 670.83,702.10 673.00,703.50 C675.17,704.90 678.00,708.00 679.00,708.90" fill="none" stroke="#ff2cff" stroke-width="3.0" stroke-linecap="round"/>
<path d="M565.40,723.70 C566.50,722.58 569.57,719.12 572.00,717.00 C574.43,714.88 577.50,712.50 580.00,711.00 C582.50,709.50 584.70,708.70 587.00,708.00 C589.30,707.30 591.30,707.55 593.80,706.80 C596.30,706.05 599.30,704.57 602.00,703.50 C604.70,702.43 606.17,701.33 610.00,700.40 C613.83,699.47 620.50,698.17 625.00,697.90 C629.50,697.63 633.67,698.55 637.00,698.80 C640.33,699.05 641.50,699.23 645.00,699.40 C648.50,699.57 654.50,699.62 658.00,699.80 C661.50,699.98 663.50,699.88 666.00,700.50 C668.50,701.12 670.83,702.10 673.00,703.50 C675.17,704.90 678.00,708.00 679.00,708.90" fill="none" stroke="#3a3a3a" stroke-width="0.45" stroke-linecap="round"/>
<path d="M565.40,726.90 C566.50,725.25 569.57,720.00 572.00,717.00 C574.43,714.00 577.50,711.57 580.00,708.90 C582.50,706.23 584.70,702.93 587.00,701.00 C589.30,699.07 591.63,698.13 593.80,697.30 C595.97,696.47 596.97,696.22 600.00,696.00 C603.03,695.78 608.33,695.97 612.00,696.00 C615.67,696.03 619.00,696.23 622.00,696.20 C625.00,696.17 626.17,695.27 630.00,695.80 C633.83,696.33 640.00,698.45 645.00,699.40 C650.00,700.35 654.33,700.62 660.00,701.50 C665.67,702.38 675.83,704.17 679.00,704.70" fill="none" stroke="#f6c21c" stroke-width="3.0" stroke-linecap="round"/>
<path d="M565.40,726.90 C566.50,725.25 569.57,720.00 572.00,717.00 C574.43,714.00 577.50,711.57 580.00,708.90 C582.50,706.23 584.70,702.93 587.00,701.00 C589.30,699.07 591.63,698.13 593.80,697.30 C595.97,696.47 596.97,696.22 600.00,696.00 C603.03,695.78 608.33,695.97 612.00,696.00 C615.67,696.03 619.00,696.23 622.00,696.20 C625.00,696.17 626.17,695.27 630.00,695.80 C633.83,696.33 640.00,698.45 645.00,699.40 C650.00,700.35 654.33,700.62 660.00,701.50 C665.67,702.38 675.83,704.17 679.00,704.70" fill="none" stroke="#3a3a3a" stroke-width="0.45" stroke-linecap="round"/>
<path d="M565.40,723.70 C566.50,722.67 569.57,719.62 572.00,717.50 C574.43,715.38 576.37,713.85 580.00,711.00 C583.63,708.15 588.80,704.28 593.80,700.40 C598.80,696.52 605.30,691.40 610.00,687.70 C614.70,684.00 618.67,680.40 622.00,678.20 C625.33,676.00 627.33,675.40 630.00,674.50 C632.67,673.60 634.67,673.60 638.00,672.80 C641.33,672.00 646.33,671.08 650.00,669.70 C653.67,668.32 657.00,666.15 660.00,664.50 C663.00,662.85 665.67,660.42 668.00,659.80 C670.33,659.18 672.17,659.85 674.00,660.80 C675.83,661.75 678.17,664.72 679.00,665.50" fill="none" stroke="#1ee0e0" stroke-width="3.0" stroke-linecap="round"/>
<path d="M565.40,723.70 C566.50,722.67 569.57,719.62 572.00,717.50 C574.43,715.38 576.37,713.85 580.00,711.00 C583.63,708.15 588.80,704.28 593.80,700.40 C598.80,696.52 605.30,691.40 610.00,687.70 C614.70,684.00 618.67,680.40 622.00,678.20 C625.33,676.00 627.33,675.40 630.00,674.50 C632.67,673.60 634.67,673.60 638.00,672.80 C641.33,672.00 646.33,671.08 650.00,669.70 C653.67,668.32 657.00,666.15 660.00,664.50 C663.00,662.85 665.67,660.42 668.00,659.80 C670.33,659.18 672.17,659.85 674.00,660.80 C675.83,661.75 678.17,664.72 679.00,665.50" fill="none" stroke="#1b6a6a" stroke-width="0.5" stroke-linecap="round"/>
<line x1="431.50" y1="786.40" x2="431.50" y2="867.60" stroke="#111" stroke-width="1.3"/>
<line x1="431.50" y1="867.00" x2="555.20" y2="867.00" stroke="#111" stroke-width="1.3"/>
<line x1="559.50" y1="867.00" x2="685.00" y2="867.00" stroke="#111" stroke-width="1.3"/>
<line x1="557.40" y1="864.00" x2="557.40" y2="874.00" stroke="#555" stroke-width="0.7"/>
<line x1="557.40" y1="786.90" x2="557.40" y2="797.10" stroke="#8a8a8a" stroke-width="0.8"/>
<line x1="557.40" y1="818.70" x2="557.40" y2="844.10" stroke="#8a8a8a" stroke-width="0.8"/>
<line x1="557.40" y1="865.30" x2="557.40" y2="874.80" stroke="#8a8a8a" stroke-width="0.8"/>
<line x1="437.00" y1="867.00" x2="437.00" y2="869.00" stroke="#111" stroke-width="0.9"/>
<text x="437.00" y="875.30" font-size="6.8" text-anchor="middle" fill="#222" stroke="#222" stroke-width="0.12">0</text>
<line x1="465.55" y1="867.00" x2="465.55" y2="869.00" stroke="#111" stroke-width="0.9"/>
<text x="465.55" y="875.30" font-size="6.8" text-anchor="middle" fill="#222" stroke="#222" stroke-width="0.12">0.25</text>
<line x1="494.10" y1="867.00" x2="494.10" y2="869.00" stroke="#111" stroke-width="0.9"/>
<text x="494.10" y="875.30" font-size="6.8" text-anchor="middle" fill="#222" stroke="#222" stroke-width="0.12">0.5</text>
<line x1="522.65" y1="867.00" x2="522.65" y2="869.00" stroke="#111" stroke-width="0.9"/>
<text x="522.65" y="875.30" font-size="6.8" text-anchor="middle" fill="#222" stroke="#222" stroke-width="0.12">0.75</text>
<line x1="551.20" y1="867.00" x2="551.20" y2="869.00" stroke="#111" stroke-width="0.9"/>
<text x="551.20" y="875.30" font-size="6.8" text-anchor="middle" fill="#222" stroke="#222" stroke-width="0.12">1</text>
<line x1="565.40" y1="867.00" x2="565.40" y2="869.00" stroke="#111" stroke-width="0.9"/>
<text x="565.40" y="875.30" font-size="6.8" text-anchor="middle" fill="#222" stroke="#222" stroke-width="0.12">0</text>
<line x1="593.80" y1="867.00" x2="593.80" y2="869.00" stroke="#111" stroke-width="0.9"/>
<text x="593.80" y="875.30" font-size="6.8" text-anchor="middle" fill="#222" stroke="#222" stroke-width="0.12">0.25</text>
<line x1="622.20" y1="867.00" x2="622.20" y2="869.00" stroke="#111" stroke-width="0.9"/>
<text x="622.20" y="875.30" font-size="6.8" text-anchor="middle" fill="#222" stroke="#222" stroke-width="0.12">0.5</text>
<line x1="650.60" y1="867.00" x2="650.60" y2="869.00" stroke="#111" stroke-width="0.9"/>
<text x="650.60" y="875.30" font-size="6.8" text-anchor="middle" fill="#222" stroke="#222" stroke-width="0.12">0.75</text>
<line x1="679.00" y1="867.00" x2="679.00" y2="869.00" stroke="#111" stroke-width="0.9"/>
<text x="679.00" y="875.30" font-size="6.8" text-anchor="middle" fill="#222" stroke="#222" stroke-width="0.12">1</text>
<text x="432.50" y="791.50" font-size="7" text-anchor="start" fill="#111" stroke="#111" stroke-width="0.12">PB mesenchyme</text>
<text x="560.80" y="791.50" font-size="7" text-anchor="start" fill="#111" stroke="#111" stroke-width="0.12">DB mesenchyme</text>
<text x="425.90" y="826.70" font-size="7" text-anchor="middle" fill="#1a1a1a" stroke="#1a1a1a" stroke-width="0.12" transform="rotate(-90 425.90 826.70)">14 DPA expression</text>
<text x="557.80" y="885.80" font-size="7" text-anchor="middle" fill="#111" stroke="#111" stroke-width="0.12">Proximodistal location</text>
<text x="544.60" y="893.40" font-size="7" text-anchor="start" fill="#111" stroke="#111" stroke-width="0.12">P</text>
<line x1="550.70" y1="890.90" x2="564.50" y2="890.90" stroke="#111" stroke-width="0.6"/>
<path d="M563.0,889.90 L565.6,890.90 L563.0,891.90" fill="none" stroke="#111" stroke-width="0.6"/>
<text x="566.70" y="893.40" font-size="7" text-anchor="start" fill="#111" stroke="#111" stroke-width="0.12">D</text>
<line x1="506.00" y1="898.90" x2="513.50" y2="898.90" stroke="#ff2cff" stroke-width="2.2"/>
<text x="516.20" y="901.20" font-size="6.8" text-anchor="start" fill="#111" stroke="#111" stroke-width="0.12" font-style="italic">Hoxa9</text>
<line x1="541.00" y1="898.90" x2="548.50" y2="898.90" stroke="#f6c21c" stroke-width="2.2"/>
<text x="551.20" y="901.20" font-size="6.8" text-anchor="start" fill="#111" stroke="#111" stroke-width="0.12" font-style="italic">Hoxa11</text>
<line x1="576.00" y1="898.90" x2="583.50" y2="898.90" stroke="#1ee0e0" stroke-width="2.2"/>
<text x="586.20" y="901.20" font-size="6.8" text-anchor="start" fill="#111" stroke="#111" stroke-width="0.12" font-style="italic">Hoxa13</text>
<path d="M437.00,862.00 C439.17,861.83 445.33,861.13 450.00,861.00 C454.67,860.87 460.00,861.23 465.00,861.20 C470.00,861.17 475.83,861.00 480.00,860.80 C484.17,860.60 486.67,860.65 490.00,860.00 C493.33,859.35 497.33,858.15 500.00,856.90 C502.67,855.65 504.33,854.37 506.00,852.50 C507.67,850.63 508.50,848.78 510.00,845.70 C511.50,842.62 513.33,838.10 515.00,834.00 C516.67,829.90 518.00,826.32 520.00,821.10 C522.00,815.88 525.00,807.05 527.00,802.70 C529.00,798.35 530.67,796.53 532.00,795.00 C533.33,793.47 534.00,793.67 535.00,793.50 C536.00,793.33 537.00,793.42 538.00,794.00 C539.00,794.58 539.83,795.17 541.00,797.00 C542.17,798.83 543.83,802.35 545.00,805.00 C546.17,807.65 547.07,810.55 548.00,812.90 C548.93,815.25 550.17,818.07 550.60,819.10" fill="none" stroke="#1ee0e0" stroke-width="1.8" stroke-linecap="round"/>
<path d="M437.00,862.00 C439.17,861.83 445.33,861.13 450.00,861.00 C454.67,860.87 460.00,861.23 465.00,861.20 C470.00,861.17 475.83,861.00 480.00,860.80 C484.17,860.60 486.67,860.65 490.00,860.00 C493.33,859.35 497.33,858.15 500.00,856.90 C502.67,855.65 504.33,854.37 506.00,852.50 C507.67,850.63 508.50,848.78 510.00,845.70 C511.50,842.62 513.33,838.10 515.00,834.00 C516.67,829.90 518.00,826.32 520.00,821.10 C522.00,815.88 525.00,807.05 527.00,802.70 C529.00,798.35 530.67,796.53 532.00,795.00 C533.33,793.47 534.00,793.67 535.00,793.50 C536.00,793.33 537.00,793.42 538.00,794.00 C539.00,794.58 539.83,795.17 541.00,797.00 C542.17,798.83 543.83,802.35 545.00,805.00 C546.17,807.65 547.07,810.55 548.00,812.90 C548.93,815.25 550.17,818.07 550.60,819.10" fill="none" stroke="#1b6a6a" stroke-width="0.5" stroke-linecap="round"/>
<path d="M437.00,857.90 C438.00,856.83 440.83,853.37 443.00,851.50 C445.17,849.63 447.67,847.87 450.00,846.70 C452.33,845.53 454.50,845.02 457.00,844.50 C459.50,843.98 462.00,844.25 465.00,843.60 C468.00,842.95 471.67,841.87 475.00,840.60 C478.33,839.33 481.67,837.72 485.00,836.00 C488.33,834.28 491.67,833.12 495.00,830.30 C498.33,827.48 502.17,822.32 505.00,819.10 C507.83,815.88 509.83,812.95 512.00,811.00 C514.17,809.05 516.00,807.97 518.00,807.40 C520.00,806.83 522.00,807.02 524.00,807.60 C526.00,808.18 527.33,808.65 530.00,810.90 C532.67,813.15 537.33,817.42 540.00,821.10 C542.67,824.78 544.23,828.57 546.00,833.00 C547.77,837.43 549.83,845.25 550.60,847.70" fill="none" stroke="#f6c21c" stroke-width="2.2" stroke-linecap="round"/>
<path d="M437.00,857.90 C438.00,856.83 440.83,853.37 443.00,851.50 C445.17,849.63 447.67,847.87 450.00,846.70 C452.33,845.53 454.50,845.02 457.00,844.50 C459.50,843.98 462.00,844.25 465.00,843.60 C468.00,842.95 471.67,841.87 475.00,840.60 C478.33,839.33 481.67,837.72 485.00,836.00 C488.33,834.28 491.67,833.12 495.00,830.30 C498.33,827.48 502.17,822.32 505.00,819.10 C507.83,815.88 509.83,812.95 512.00,811.00 C514.17,809.05 516.00,807.97 518.00,807.40 C520.00,806.83 522.00,807.02 524.00,807.60 C526.00,808.18 527.33,808.65 530.00,810.90 C532.67,813.15 537.33,817.42 540.00,821.10 C542.67,824.78 544.23,828.57 546.00,833.00 C547.77,837.43 549.83,845.25 550.60,847.70" fill="none" stroke="#3a3a3a" stroke-width="0.45" stroke-linecap="round"/>
<path d="M437.00,853.80 C438.00,852.92 440.83,850.03 443.00,848.50 C445.17,846.97 447.67,845.58 450.00,844.60 C452.33,843.62 454.50,843.27 457.00,842.60 C459.50,841.93 461.17,841.62 465.00,840.60 C468.83,839.58 475.00,838.22 480.00,836.50 C485.00,834.78 490.83,832.35 495.00,830.30 C499.17,828.25 501.67,826.07 505.00,824.20 C508.33,822.33 511.67,820.23 515.00,819.10 C518.33,817.97 521.67,817.68 525.00,817.40 C528.33,817.12 532.50,817.05 535.00,817.40 C537.50,817.75 538.33,817.85 540.00,819.50 C541.67,821.15 543.23,823.97 545.00,827.30 C546.77,830.63 549.67,837.47 550.60,839.50" fill="none" stroke="#ff2cff" stroke-width="3.6" stroke-linecap="round"/>
<path d="M437.00,853.80 C438.00,852.92 440.83,850.03 443.00,848.50 C445.17,846.97 447.67,845.58 450.00,844.60 C452.33,843.62 454.50,843.27 457.00,842.60 C459.50,841.93 461.17,841.62 465.00,840.60 C468.83,839.58 475.00,838.22 480.00,836.50 C485.00,834.78 490.83,832.35 495.00,830.30 C499.17,828.25 501.67,826.07 505.00,824.20 C508.33,822.33 511.67,820.23 515.00,819.10 C518.33,817.97 521.67,817.68 525.00,817.40 C528.33,817.12 532.50,817.05 535.00,817.40 C537.50,817.75 538.33,817.85 540.00,819.50 C541.67,821.15 543.23,823.97 545.00,827.30 C546.77,830.63 549.67,837.47 550.60,839.50" fill="none" stroke="#3a3a3a" stroke-width="0.45" stroke-linecap="round"/>
<path d="M565.40,861.00 C566.17,860.00 568.40,856.77 570.00,855.00 C571.60,853.23 572.50,852.22 575.00,850.40 C577.50,848.58 580.83,845.85 585.00,844.10 C589.17,842.35 595.00,841.03 600.00,839.90 C605.00,838.77 610.00,837.95 615.00,837.30 C620.00,836.65 625.00,836.63 630.00,836.00 C635.00,835.37 640.00,833.98 645.00,833.50 C650.00,833.02 656.17,833.10 660.00,833.10 C663.83,833.10 665.67,832.35 668.00,833.50 C670.33,834.65 672.17,836.65 674.00,840.00 C675.83,843.35 678.17,851.33 679.00,853.60" fill="none" stroke="#ff2cff" stroke-width="3.0" stroke-linecap="round"/>
<path d="M565.40,861.00 C566.17,860.00 568.40,856.77 570.00,855.00 C571.60,853.23 572.50,852.22 575.00,850.40 C577.50,848.58 580.83,845.85 585.00,844.10 C589.17,842.35 595.00,841.03 600.00,839.90 C605.00,838.77 610.00,837.95 615.00,837.30 C620.00,836.65 625.00,836.63 630.00,836.00 C635.00,835.37 640.00,833.98 645.00,833.50 C650.00,833.02 656.17,833.10 660.00,833.10 C663.83,833.10 665.67,832.35 668.00,833.50 C670.33,834.65 672.17,836.65 674.00,840.00 C675.83,843.35 678.17,851.33 679.00,853.60" fill="none" stroke="#3a3a3a" stroke-width="0.45" stroke-linecap="round"/>
<path d="M565.40,855.70 C566.17,854.42 568.40,850.28 570.00,848.00 C571.60,845.72 573.33,844.00 575.00,842.00 C576.67,840.00 578.33,837.77 580.00,836.00 C581.67,834.23 583.33,832.73 585.00,831.40 C586.67,830.07 588.53,828.78 590.00,828.00 C591.47,827.22 592.13,826.67 593.80,826.70 C595.47,826.73 597.30,827.48 600.00,828.20 C602.70,828.92 606.33,830.53 610.00,831.00 C613.67,831.47 617.50,831.22 622.00,831.00 C626.50,830.78 632.33,829.57 637.00,829.70 C641.67,829.83 645.33,831.35 650.00,831.80 C654.67,832.25 661.33,831.05 665.00,832.40 C668.67,833.75 669.67,836.72 672.00,839.90 C674.33,843.08 677.83,849.57 679.00,851.50" fill="none" stroke="#f6c21c" stroke-width="2.2" stroke-linecap="round"/>
<path d="M565.40,855.70 C566.17,854.42 568.40,850.28 570.00,848.00 C571.60,845.72 573.33,844.00 575.00,842.00 C576.67,840.00 578.33,837.77 580.00,836.00 C581.67,834.23 583.33,832.73 585.00,831.40 C586.67,830.07 588.53,828.78 590.00,828.00 C591.47,827.22 592.13,826.67 593.80,826.70 C595.47,826.73 597.30,827.48 600.00,828.20 C602.70,828.92 606.33,830.53 610.00,831.00 C613.67,831.47 617.50,831.22 622.00,831.00 C626.50,830.78 632.33,829.57 637.00,829.70 C641.67,829.83 645.33,831.35 650.00,831.80 C654.67,832.25 661.33,831.05 665.00,832.40 C668.67,833.75 669.67,836.72 672.00,839.90 C674.33,843.08 677.83,849.57 679.00,851.50" fill="none" stroke="#3a3a3a" stroke-width="0.45" stroke-linecap="round"/>
<path d="M565.40,856.80 C566.50,855.50 569.57,851.47 572.00,849.00 C574.43,846.53 576.37,845.12 580.00,842.00 C583.63,838.88 588.80,834.72 593.80,830.30 C598.80,825.88 605.30,819.73 610.00,815.50 C614.70,811.27 617.83,807.37 622.00,804.90 C626.17,802.43 631.17,802.28 635.00,800.70 C638.83,799.12 641.67,796.35 645.00,795.40 C648.33,794.45 651.67,795.35 655.00,795.00 C658.33,794.65 662.50,793.42 665.00,793.30 C667.50,793.18 668.50,793.18 670.00,794.30 C671.50,795.42 672.83,796.55 674.00,800.00 C675.17,803.45 676.17,809.60 677.00,815.00 C677.83,820.40 678.67,829.50 679.00,832.40" fill="none" stroke="#1ee0e0" stroke-width="1.8" stroke-linecap="round"/>
<path d="M565.40,856.80 C566.50,855.50 569.57,851.47 572.00,849.00 C574.43,846.53 576.37,845.12 580.00,842.00 C583.63,838.88 588.80,834.72 593.80,830.30 C598.80,825.88 605.30,819.73 610.00,815.50 C614.70,811.27 617.83,807.37 622.00,804.90 C626.17,802.43 631.17,802.28 635.00,800.70 C638.83,799.12 641.67,796.35 645.00,795.40 C648.33,794.45 651.67,795.35 655.00,795.00 C658.33,794.65 662.50,793.42 665.00,793.30 C667.50,793.18 668.50,793.18 670.00,794.30 C671.50,795.42 672.83,796.55 674.00,800.00 C675.17,803.45 676.17,809.60 677.00,815.00 C677.83,820.40 678.67,829.50 679.00,832.40" fill="none" stroke="#1b6a6a" stroke-width="0.5" stroke-linecap="round"/>
</svg></body></html>
